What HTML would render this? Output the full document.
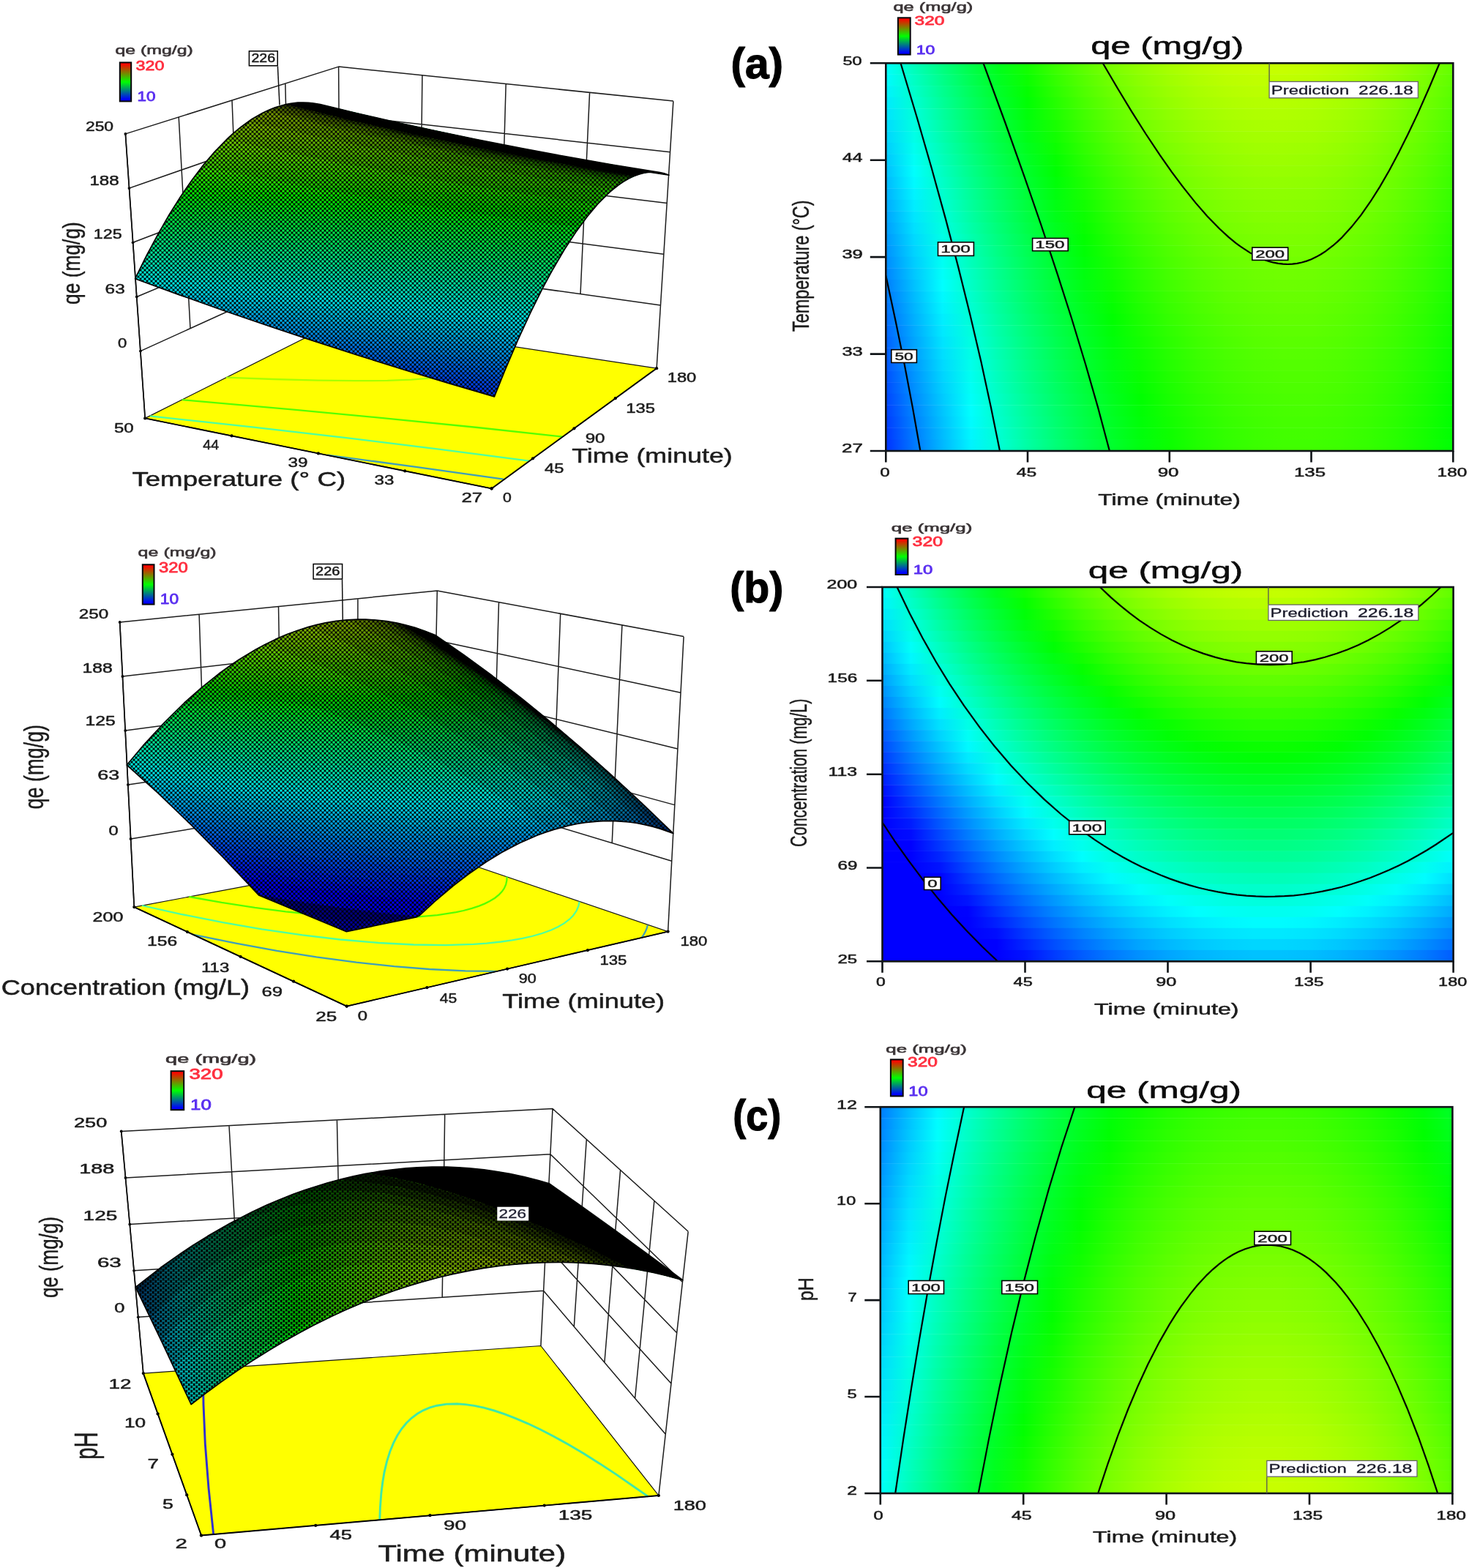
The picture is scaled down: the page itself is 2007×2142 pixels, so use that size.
<!DOCTYPE html>
<html lang="en"><head><meta charset="utf-8"><title>Response surface and contour plots of qe (mg/g)</title>
<style>
html,body{margin:0;padding:0;background:#fff}
body{width:2007px;height:2142px;overflow:hidden}
svg{display:block;font-family:"Liberation Sans",Arial,Helvetica,sans-serif}
text{white-space:pre}
</style></head>
<body>
<svg xmlns="http://www.w3.org/2000/svg" width="2007" height="2142" viewBox="0 0 2007 2142">
<defs>
<pattern id="pt" width="6" height="6" patternUnits="userSpaceOnUse"><path fill-rule="evenodd" d="M0 0H6V6H0zM1.15 3a1.85 1.85 0 1 0 3.7 0a1.85 1.85 0 1 0 -3.7 0zM-1.85 0a1.85 1.85 0 1 0 3.7 0a1.85 1.85 0 1 0 -3.7 0zM4.15 0a1.85 1.85 0 1 0 3.7 0a1.85 1.85 0 1 0 -3.7 0zM-1.85 6a1.85 1.85 0 1 0 3.7 0a1.85 1.85 0 1 0 -3.7 0zM4.15 6a1.85 1.85 0 1 0 3.7 0a1.85 1.85 0 1 0 -3.7 0z"/></pattern>
<pattern id="pc" width="7" height="6" patternUnits="userSpaceOnUse"><path fill-rule="evenodd" d="M0 0h7v6h-7zM.4 .3h4.6v2.4h-4.6zM3.9 3.3h3.1v2.4h-3.1zM0 3.3h1.5v2.4h-1.5z"/></pattern>
<linearGradient id="lg" x1="0" y1="0" x2="0" y2="1"><stop offset="0.03" stop-color="#f00"/><stop offset="0.5" stop-color="#0f0"/><stop offset="0.95" stop-color="#00f"/></linearGradient>
<linearGradient id="ag0"><stop offset="0" stop-color="#00fffc"/><stop offset="0.05" stop-color="#00ffbc"/><stop offset="0.1" stop-color="#00ff81"/><stop offset="0.15" stop-color="#00ff4b"/><stop offset="0.2" stop-color="#00ff1a"/><stop offset="0.25" stop-color="#12ff00"/><stop offset="0.3" stop-color="#3aff00"/><stop offset="0.35" stop-color="#5cff00"/><stop offset="0.4" stop-color="#7aff00"/><stop offset="0.45" stop-color="#92ff00"/><stop offset="0.5" stop-color="#a6ff00"/><stop offset="0.55" stop-color="#b5ff00"/><stop offset="0.6" stop-color="#c0ff00"/><stop offset="0.65" stop-color="#c5ff00"/><stop offset="0.7" stop-color="#c6ff00"/><stop offset="0.75" stop-color="#c1ff00"/><stop offset="0.8" stop-color="#b8ff00"/><stop offset="0.85" stop-color="#af0"/><stop offset="0.9" stop-color="#97ff00"/><stop offset="0.95" stop-color="#7fff00"/><stop offset="1" stop-color="#63ff00"/></linearGradient>
<linearGradient id="ag1"><stop offset="0" stop-color="#00fbff"/><stop offset="0.05" stop-color="#00ffc4"/><stop offset="0.1" stop-color="#00ff89"/><stop offset="0.15" stop-color="#00ff52"/><stop offset="0.2" stop-color="#00ff21"/><stop offset="0.25" stop-color="#0bff00"/><stop offset="0.3" stop-color="#3f0"/><stop offset="0.35" stop-color="#5f0"/><stop offset="0.4" stop-color="#73ff00"/><stop offset="0.45" stop-color="#8cff00"/><stop offset="0.5" stop-color="#a0ff00"/><stop offset="0.55" stop-color="#afff00"/><stop offset="0.6" stop-color="#baff00"/><stop offset="0.65" stop-color="#bfff00"/><stop offset="0.7" stop-color="#c0ff00"/><stop offset="0.75" stop-color="#bcff00"/><stop offset="0.8" stop-color="#b3ff00"/><stop offset="0.85" stop-color="#a5ff00"/><stop offset="0.9" stop-color="#92ff00"/><stop offset="0.95" stop-color="#7aff00"/><stop offset="1" stop-color="#5eff00"/></linearGradient>
<linearGradient id="ag2"><stop offset="0" stop-color="#00f3ff"/><stop offset="0.05" stop-color="#00ffcb"/><stop offset="0.1" stop-color="#00ff90"/><stop offset="0.15" stop-color="#00ff5a"/><stop offset="0.2" stop-color="#00ff28"/><stop offset="0.25" stop-color="#04ff00"/><stop offset="0.3" stop-color="#2cff00"/><stop offset="0.35" stop-color="#4fff00"/><stop offset="0.4" stop-color="#6dff00"/><stop offset="0.45" stop-color="#86ff00"/><stop offset="0.5" stop-color="#9aff00"/><stop offset="0.55" stop-color="#a9ff00"/><stop offset="0.6" stop-color="#b4ff00"/><stop offset="0.65" stop-color="#baff00"/><stop offset="0.7" stop-color="#baff00"/><stop offset="0.75" stop-color="#b6ff00"/><stop offset="0.8" stop-color="#aeff00"/><stop offset="0.85" stop-color="#a0ff00"/><stop offset="0.9" stop-color="#8dff00"/><stop offset="0.95" stop-color="#76ff00"/><stop offset="1" stop-color="#59ff00"/></linearGradient>
<linearGradient id="ag3"><stop offset="0" stop-color="#00ebff"/><stop offset="0.05" stop-color="#00ffd3"/><stop offset="0.1" stop-color="#00ff97"/><stop offset="0.15" stop-color="#00ff61"/><stop offset="0.2" stop-color="#00ff2f"/><stop offset="0.25" stop-color="#00ff03"/><stop offset="0.3" stop-color="#25ff00"/><stop offset="0.35" stop-color="#48ff00"/><stop offset="0.4" stop-color="#6f0"/><stop offset="0.45" stop-color="#80ff00"/><stop offset="0.5" stop-color="#94ff00"/><stop offset="0.55" stop-color="#a4ff00"/><stop offset="0.6" stop-color="#aeff00"/><stop offset="0.65" stop-color="#b4ff00"/><stop offset="0.7" stop-color="#b5ff00"/><stop offset="0.75" stop-color="#b1ff00"/><stop offset="0.8" stop-color="#a8ff00"/><stop offset="0.85" stop-color="#9bff00"/><stop offset="0.9" stop-color="#8f0"/><stop offset="0.95" stop-color="#71ff00"/><stop offset="1" stop-color="#5f0"/></linearGradient>
<linearGradient id="ag4"><stop offset="0" stop-color="#00e4ff"/><stop offset="0.05" stop-color="#00ffda"/><stop offset="0.1" stop-color="#00ff9e"/><stop offset="0.15" stop-color="#00ff68"/><stop offset="0.2" stop-color="#00ff36"/><stop offset="0.25" stop-color="#00ff09"/><stop offset="0.3" stop-color="#1fff00"/><stop offset="0.35" stop-color="#42ff00"/><stop offset="0.4" stop-color="#60ff00"/><stop offset="0.45" stop-color="#7aff00"/><stop offset="0.5" stop-color="#8eff00"/><stop offset="0.55" stop-color="#9eff00"/><stop offset="0.6" stop-color="#a9ff00"/><stop offset="0.65" stop-color="#afff00"/><stop offset="0.7" stop-color="#b0ff00"/><stop offset="0.75" stop-color="#acff00"/><stop offset="0.8" stop-color="#a3ff00"/><stop offset="0.85" stop-color="#96ff00"/><stop offset="0.9" stop-color="#84ff00"/><stop offset="0.95" stop-color="#6dff00"/><stop offset="1" stop-color="#51ff00"/></linearGradient>
<linearGradient id="ag5"><stop offset="0" stop-color="#00dcff"/><stop offset="0.05" stop-color="#00ffe1"/><stop offset="0.1" stop-color="#00ffa6"/><stop offset="0.15" stop-color="#00ff6f"/><stop offset="0.2" stop-color="#00ff3d"/><stop offset="0.25" stop-color="#00ff10"/><stop offset="0.3" stop-color="#18ff00"/><stop offset="0.35" stop-color="#3cff00"/><stop offset="0.4" stop-color="#5aff00"/><stop offset="0.45" stop-color="#74ff00"/><stop offset="0.5" stop-color="#8f0"/><stop offset="0.55" stop-color="#98ff00"/><stop offset="0.6" stop-color="#a3ff00"/><stop offset="0.65" stop-color="#a9ff00"/><stop offset="0.7" stop-color="#abff00"/><stop offset="0.75" stop-color="#a7ff00"/><stop offset="0.8" stop-color="#9fff00"/><stop offset="0.85" stop-color="#91ff00"/><stop offset="0.9" stop-color="#7fff00"/><stop offset="0.95" stop-color="#68ff00"/><stop offset="1" stop-color="#4cff00"/></linearGradient>
<linearGradient id="ag6"><stop offset="0" stop-color="#00d5ff"/><stop offset="0.05" stop-color="#00ffe8"/><stop offset="0.1" stop-color="#00ffad"/><stop offset="0.15" stop-color="#00ff76"/><stop offset="0.2" stop-color="#0f4"/><stop offset="0.25" stop-color="#00ff16"/><stop offset="0.3" stop-color="#12ff00"/><stop offset="0.35" stop-color="#35ff00"/><stop offset="0.4" stop-color="#54ff00"/><stop offset="0.45" stop-color="#6eff00"/><stop offset="0.5" stop-color="#83ff00"/><stop offset="0.55" stop-color="#93ff00"/><stop offset="0.6" stop-color="#9eff00"/><stop offset="0.65" stop-color="#a4ff00"/><stop offset="0.7" stop-color="#a5ff00"/><stop offset="0.75" stop-color="#a2ff00"/><stop offset="0.8" stop-color="#9aff00"/><stop offset="0.85" stop-color="#8dff00"/><stop offset="0.9" stop-color="#7bff00"/><stop offset="0.95" stop-color="#64ff00"/><stop offset="1" stop-color="#48ff00"/></linearGradient>
<linearGradient id="ag7"><stop offset="0" stop-color="#00ceff"/><stop offset="0.05" stop-color="#00ffef"/><stop offset="0.1" stop-color="#00ffb4"/><stop offset="0.15" stop-color="#00ff7c"/><stop offset="0.2" stop-color="#00ff4a"/><stop offset="0.25" stop-color="#00ff1d"/><stop offset="0.3" stop-color="#0cff00"/><stop offset="0.35" stop-color="#2fff00"/><stop offset="0.4" stop-color="#4eff00"/><stop offset="0.45" stop-color="#68ff00"/><stop offset="0.5" stop-color="#7dff00"/><stop offset="0.55" stop-color="#8dff00"/><stop offset="0.6" stop-color="#98ff00"/><stop offset="0.65" stop-color="#9fff00"/><stop offset="0.7" stop-color="#a0ff00"/><stop offset="0.75" stop-color="#9dff00"/><stop offset="0.8" stop-color="#95ff00"/><stop offset="0.85" stop-color="#8f0"/><stop offset="0.9" stop-color="#76ff00"/><stop offset="0.95" stop-color="#60ff00"/><stop offset="1" stop-color="#4f0"/></linearGradient>
<linearGradient id="ag8"><stop offset="0" stop-color="#00c7ff"/><stop offset="0.05" stop-color="#00fff6"/><stop offset="0.1" stop-color="#00ffba"/><stop offset="0.15" stop-color="#00ff83"/><stop offset="0.2" stop-color="#00ff51"/><stop offset="0.25" stop-color="#00ff23"/><stop offset="0.3" stop-color="#05ff00"/><stop offset="0.35" stop-color="#29ff00"/><stop offset="0.4" stop-color="#48ff00"/><stop offset="0.45" stop-color="#62ff00"/><stop offset="0.5" stop-color="#7f0"/><stop offset="0.55" stop-color="#8f0"/><stop offset="0.6" stop-color="#93ff00"/><stop offset="0.65" stop-color="#9aff00"/><stop offset="0.7" stop-color="#9cff00"/><stop offset="0.75" stop-color="#98ff00"/><stop offset="0.8" stop-color="#91ff00"/><stop offset="0.85" stop-color="#84ff00"/><stop offset="0.9" stop-color="#72ff00"/><stop offset="0.95" stop-color="#5cff00"/><stop offset="1" stop-color="#40ff00"/></linearGradient>
<linearGradient id="ag9"><stop offset="0" stop-color="#00c0ff"/><stop offset="0.05" stop-color="#00fffd"/><stop offset="0.1" stop-color="#00ffc1"/><stop offset="0.15" stop-color="#00ff8a"/><stop offset="0.2" stop-color="#00ff57"/><stop offset="0.25" stop-color="#00ff2a"/><stop offset="0.3" stop-color="#00ff01"/><stop offset="0.35" stop-color="#23ff00"/><stop offset="0.4" stop-color="#42ff00"/><stop offset="0.45" stop-color="#5cff00"/><stop offset="0.5" stop-color="#72ff00"/><stop offset="0.55" stop-color="#82ff00"/><stop offset="0.6" stop-color="#8eff00"/><stop offset="0.65" stop-color="#95ff00"/><stop offset="0.7" stop-color="#97ff00"/><stop offset="0.75" stop-color="#94ff00"/><stop offset="0.8" stop-color="#8cff00"/><stop offset="0.85" stop-color="#7fff00"/><stop offset="0.9" stop-color="#6eff00"/><stop offset="0.95" stop-color="#58ff00"/><stop offset="1" stop-color="#3cff00"/></linearGradient>
<linearGradient id="ag10"><stop offset="0" stop-color="#00b9ff"/><stop offset="0.05" stop-color="#00faff"/><stop offset="0.1" stop-color="#00ffc8"/><stop offset="0.15" stop-color="#00ff90"/><stop offset="0.2" stop-color="#00ff5e"/><stop offset="0.25" stop-color="#00ff30"/><stop offset="0.3" stop-color="#00ff07"/><stop offset="0.35" stop-color="#1dff00"/><stop offset="0.4" stop-color="#3dff00"/><stop offset="0.45" stop-color="#57ff00"/><stop offset="0.5" stop-color="#6dff00"/><stop offset="0.55" stop-color="#7dff00"/><stop offset="0.6" stop-color="#89ff00"/><stop offset="0.65" stop-color="#90ff00"/><stop offset="0.7" stop-color="#92ff00"/><stop offset="0.75" stop-color="#8fff00"/><stop offset="0.8" stop-color="#8f0"/><stop offset="0.85" stop-color="#7bff00"/><stop offset="0.9" stop-color="#6aff00"/><stop offset="0.95" stop-color="#54ff00"/><stop offset="1" stop-color="#39ff00"/></linearGradient>
<linearGradient id="ag11"><stop offset="0" stop-color="#00b2ff"/><stop offset="0.05" stop-color="#00f3ff"/><stop offset="0.1" stop-color="#00ffce"/><stop offset="0.15" stop-color="#00ff97"/><stop offset="0.2" stop-color="#00ff64"/><stop offset="0.25" stop-color="#00ff36"/><stop offset="0.3" stop-color="#00ff0d"/><stop offset="0.35" stop-color="#18ff00"/><stop offset="0.4" stop-color="#37ff00"/><stop offset="0.45" stop-color="#52ff00"/><stop offset="0.5" stop-color="#67ff00"/><stop offset="0.55" stop-color="#78ff00"/><stop offset="0.6" stop-color="#84ff00"/><stop offset="0.65" stop-color="#8bff00"/><stop offset="0.7" stop-color="#8dff00"/><stop offset="0.75" stop-color="#8bff00"/><stop offset="0.8" stop-color="#83ff00"/><stop offset="0.85" stop-color="#7f0"/><stop offset="0.9" stop-color="#6f0"/><stop offset="0.95" stop-color="#50ff00"/><stop offset="1" stop-color="#35ff00"/></linearGradient>
<linearGradient id="ag12"><stop offset="0" stop-color="#00abff"/><stop offset="0.05" stop-color="#00edff"/><stop offset="0.1" stop-color="#00ffd5"/><stop offset="0.15" stop-color="#00ff9d"/><stop offset="0.2" stop-color="#00ff6a"/><stop offset="0.25" stop-color="#00ff3c"/><stop offset="0.3" stop-color="#00ff12"/><stop offset="0.35" stop-color="#12ff00"/><stop offset="0.4" stop-color="#32ff00"/><stop offset="0.45" stop-color="#4cff00"/><stop offset="0.5" stop-color="#62ff00"/><stop offset="0.55" stop-color="#73ff00"/><stop offset="0.6" stop-color="#7fff00"/><stop offset="0.65" stop-color="#86ff00"/><stop offset="0.7" stop-color="#89ff00"/><stop offset="0.75" stop-color="#86ff00"/><stop offset="0.8" stop-color="#7fff00"/><stop offset="0.85" stop-color="#73ff00"/><stop offset="0.9" stop-color="#62ff00"/><stop offset="0.95" stop-color="#4cff00"/><stop offset="1" stop-color="#31ff00"/></linearGradient>
<linearGradient id="ag13"><stop offset="0" stop-color="#00a4ff"/><stop offset="0.05" stop-color="#00e6ff"/><stop offset="0.1" stop-color="#00ffdb"/><stop offset="0.15" stop-color="#00ffa3"/><stop offset="0.2" stop-color="#00ff70"/><stop offset="0.25" stop-color="#00ff42"/><stop offset="0.3" stop-color="#00ff18"/><stop offset="0.35" stop-color="#0cff00"/><stop offset="0.4" stop-color="#2cff00"/><stop offset="0.45" stop-color="#47ff00"/><stop offset="0.5" stop-color="#5dff00"/><stop offset="0.55" stop-color="#6eff00"/><stop offset="0.6" stop-color="#7aff00"/><stop offset="0.65" stop-color="#82ff00"/><stop offset="0.7" stop-color="#84ff00"/><stop offset="0.75" stop-color="#82ff00"/><stop offset="0.8" stop-color="#7bff00"/><stop offset="0.85" stop-color="#6fff00"/><stop offset="0.9" stop-color="#5eff00"/><stop offset="0.95" stop-color="#48ff00"/><stop offset="1" stop-color="#2eff00"/></linearGradient>
<linearGradient id="ag14"><stop offset="0" stop-color="#009eff"/><stop offset="0.05" stop-color="#00e0ff"/><stop offset="0.1" stop-color="#00ffe1"/><stop offset="0.15" stop-color="#00ffa9"/><stop offset="0.2" stop-color="#00ff76"/><stop offset="0.25" stop-color="#00ff47"/><stop offset="0.3" stop-color="#00ff1e"/><stop offset="0.35" stop-color="#07ff00"/><stop offset="0.4" stop-color="#27ff00"/><stop offset="0.45" stop-color="#42ff00"/><stop offset="0.5" stop-color="#58ff00"/><stop offset="0.55" stop-color="#69ff00"/><stop offset="0.6" stop-color="#76ff00"/><stop offset="0.65" stop-color="#7dff00"/><stop offset="0.7" stop-color="#80ff00"/><stop offset="0.75" stop-color="#7eff00"/><stop offset="0.8" stop-color="#7f0"/><stop offset="0.85" stop-color="#6bff00"/><stop offset="0.9" stop-color="#5aff00"/><stop offset="0.95" stop-color="#45ff00"/><stop offset="1" stop-color="#2aff00"/></linearGradient>
<linearGradient id="ag15"><stop offset="0" stop-color="#0097ff"/><stop offset="0.05" stop-color="#00d9ff"/><stop offset="0.1" stop-color="#00ffe7"/><stop offset="0.15" stop-color="#00ffaf"/><stop offset="0.2" stop-color="#00ff7c"/><stop offset="0.25" stop-color="#00ff4d"/><stop offset="0.3" stop-color="#00ff23"/><stop offset="0.35" stop-color="#02ff00"/><stop offset="0.4" stop-color="#2f0"/><stop offset="0.45" stop-color="#3dff00"/><stop offset="0.5" stop-color="#53ff00"/><stop offset="0.55" stop-color="#65ff00"/><stop offset="0.6" stop-color="#71ff00"/><stop offset="0.65" stop-color="#79ff00"/><stop offset="0.7" stop-color="#7cff00"/><stop offset="0.75" stop-color="#7aff00"/><stop offset="0.8" stop-color="#73ff00"/><stop offset="0.85" stop-color="#67ff00"/><stop offset="0.9" stop-color="#57ff00"/><stop offset="0.95" stop-color="#41ff00"/><stop offset="1" stop-color="#27ff00"/></linearGradient>
<linearGradient id="ag16"><stop offset="0" stop-color="#0091ff"/><stop offset="0.05" stop-color="#00d3ff"/><stop offset="0.1" stop-color="#0fe"/><stop offset="0.15" stop-color="#00ffb5"/><stop offset="0.2" stop-color="#00ff81"/><stop offset="0.25" stop-color="#00ff53"/><stop offset="0.3" stop-color="#00ff29"/><stop offset="0.35" stop-color="#00ff04"/><stop offset="0.4" stop-color="#1cff00"/><stop offset="0.45" stop-color="#38ff00"/><stop offset="0.5" stop-color="#4eff00"/><stop offset="0.55" stop-color="#60ff00"/><stop offset="0.6" stop-color="#6dff00"/><stop offset="0.65" stop-color="#75ff00"/><stop offset="0.7" stop-color="#78ff00"/><stop offset="0.75" stop-color="#76ff00"/><stop offset="0.8" stop-color="#6fff00"/><stop offset="0.85" stop-color="#64ff00"/><stop offset="0.9" stop-color="#53ff00"/><stop offset="0.95" stop-color="#3eff00"/><stop offset="1" stop-color="#24ff00"/></linearGradient>
<linearGradient id="ag17"><stop offset="0" stop-color="#008bff"/><stop offset="0.05" stop-color="#00cdff"/><stop offset="0.1" stop-color="#00fff4"/><stop offset="0.15" stop-color="#0fb"/><stop offset="0.2" stop-color="#00ff87"/><stop offset="0.25" stop-color="#00ff58"/><stop offset="0.3" stop-color="#00ff2e"/><stop offset="0.35" stop-color="#00ff09"/><stop offset="0.4" stop-color="#17ff00"/><stop offset="0.45" stop-color="#3f0"/><stop offset="0.5" stop-color="#4aff00"/><stop offset="0.55" stop-color="#5bff00"/><stop offset="0.6" stop-color="#68ff00"/><stop offset="0.65" stop-color="#70ff00"/><stop offset="0.7" stop-color="#74ff00"/><stop offset="0.75" stop-color="#72ff00"/><stop offset="0.8" stop-color="#6bff00"/><stop offset="0.85" stop-color="#60ff00"/><stop offset="0.9" stop-color="#50ff00"/><stop offset="0.95" stop-color="#3bff00"/><stop offset="1" stop-color="#21ff00"/></linearGradient>
<linearGradient id="ag18"><stop offset="0" stop-color="#0084ff"/><stop offset="0.05" stop-color="#00c7ff"/><stop offset="0.1" stop-color="#00fff9"/><stop offset="0.15" stop-color="#00ffc1"/><stop offset="0.2" stop-color="#00ff8d"/><stop offset="0.25" stop-color="#00ff5e"/><stop offset="0.3" stop-color="#0f3"/><stop offset="0.35" stop-color="#00ff0e"/><stop offset="0.4" stop-color="#13ff00"/><stop offset="0.45" stop-color="#2eff00"/><stop offset="0.5" stop-color="#45ff00"/><stop offset="0.55" stop-color="#57ff00"/><stop offset="0.6" stop-color="#64ff00"/><stop offset="0.65" stop-color="#6cff00"/><stop offset="0.7" stop-color="#70ff00"/><stop offset="0.75" stop-color="#6eff00"/><stop offset="0.8" stop-color="#68ff00"/><stop offset="0.85" stop-color="#5dff00"/><stop offset="0.9" stop-color="#4dff00"/><stop offset="0.95" stop-color="#38ff00"/><stop offset="1" stop-color="#1eff00"/></linearGradient>
<linearGradient id="ag19"><stop offset="0" stop-color="#007eff"/><stop offset="0.05" stop-color="#00c1ff"/><stop offset="0.1" stop-color="#0ff"/><stop offset="0.15" stop-color="#00ffc6"/><stop offset="0.2" stop-color="#00ff92"/><stop offset="0.25" stop-color="#00ff63"/><stop offset="0.3" stop-color="#00ff38"/><stop offset="0.35" stop-color="#00ff13"/><stop offset="0.4" stop-color="#0eff00"/><stop offset="0.45" stop-color="#2aff00"/><stop offset="0.5" stop-color="#41ff00"/><stop offset="0.55" stop-color="#53ff00"/><stop offset="0.6" stop-color="#60ff00"/><stop offset="0.65" stop-color="#68ff00"/><stop offset="0.7" stop-color="#6cff00"/><stop offset="0.75" stop-color="#6aff00"/><stop offset="0.8" stop-color="#64ff00"/><stop offset="0.85" stop-color="#59ff00"/><stop offset="0.9" stop-color="#49ff00"/><stop offset="0.95" stop-color="#35ff00"/><stop offset="1" stop-color="#1bff00"/></linearGradient>
<linearGradient id="ag20"><stop offset="0" stop-color="#0078ff"/><stop offset="0.05" stop-color="#0bf"/><stop offset="0.1" stop-color="#00f9ff"/><stop offset="0.15" stop-color="#0fc"/><stop offset="0.2" stop-color="#00ff97"/><stop offset="0.25" stop-color="#00ff68"/><stop offset="0.3" stop-color="#00ff3e"/><stop offset="0.35" stop-color="#00ff18"/><stop offset="0.4" stop-color="#09ff00"/><stop offset="0.45" stop-color="#25ff00"/><stop offset="0.5" stop-color="#3cff00"/><stop offset="0.55" stop-color="#4eff00"/><stop offset="0.6" stop-color="#5cff00"/><stop offset="0.65" stop-color="#64ff00"/><stop offset="0.7" stop-color="#68ff00"/><stop offset="0.75" stop-color="#67ff00"/><stop offset="0.8" stop-color="#61ff00"/><stop offset="0.85" stop-color="#56ff00"/><stop offset="0.9" stop-color="#46ff00"/><stop offset="0.95" stop-color="#32ff00"/><stop offset="1" stop-color="#18ff00"/></linearGradient>
<linearGradient id="ag21"><stop offset="0" stop-color="#0072ff"/><stop offset="0.05" stop-color="#00b5ff"/><stop offset="0.1" stop-color="#00f4ff"/><stop offset="0.15" stop-color="#00ffd1"/><stop offset="0.2" stop-color="#00ff9d"/><stop offset="0.25" stop-color="#00ff6d"/><stop offset="0.3" stop-color="#00ff42"/><stop offset="0.35" stop-color="#00ff1d"/><stop offset="0.4" stop-color="#04ff00"/><stop offset="0.45" stop-color="#20ff00"/><stop offset="0.5" stop-color="#38ff00"/><stop offset="0.55" stop-color="#4aff00"/><stop offset="0.6" stop-color="#58ff00"/><stop offset="0.65" stop-color="#60ff00"/><stop offset="0.7" stop-color="#64ff00"/><stop offset="0.75" stop-color="#63ff00"/><stop offset="0.8" stop-color="#5dff00"/><stop offset="0.85" stop-color="#53ff00"/><stop offset="0.9" stop-color="#43ff00"/><stop offset="0.95" stop-color="#2fff00"/><stop offset="1" stop-color="#15ff00"/></linearGradient>
<linearGradient id="ag22"><stop offset="0" stop-color="#006dff"/><stop offset="0.05" stop-color="#00b0ff"/><stop offset="0.1" stop-color="#0ef"/><stop offset="0.15" stop-color="#00ffd7"/><stop offset="0.2" stop-color="#00ffa2"/><stop offset="0.25" stop-color="#00ff72"/><stop offset="0.3" stop-color="#00ff47"/><stop offset="0.35" stop-color="#00ff21"/><stop offset="0.4" stop-color="#0f0"/><stop offset="0.45" stop-color="#1cff00"/><stop offset="0.5" stop-color="#34ff00"/><stop offset="0.55" stop-color="#46ff00"/><stop offset="0.6" stop-color="#54ff00"/><stop offset="0.65" stop-color="#5dff00"/><stop offset="0.7" stop-color="#61ff00"/><stop offset="0.75" stop-color="#60ff00"/><stop offset="0.8" stop-color="#5aff00"/><stop offset="0.85" stop-color="#50ff00"/><stop offset="0.9" stop-color="#40ff00"/><stop offset="0.95" stop-color="#2cff00"/><stop offset="1" stop-color="#13ff00"/></linearGradient>
<linearGradient id="ag23"><stop offset="0" stop-color="#0067ff"/><stop offset="0.05" stop-color="#0af"/><stop offset="0.1" stop-color="#00e9ff"/><stop offset="0.15" stop-color="#00ffdc"/><stop offset="0.2" stop-color="#00ffa7"/><stop offset="0.25" stop-color="#0f7"/><stop offset="0.3" stop-color="#00ff4c"/><stop offset="0.35" stop-color="#00ff26"/><stop offset="0.4" stop-color="#00ff05"/><stop offset="0.45" stop-color="#18ff00"/><stop offset="0.5" stop-color="#2fff00"/><stop offset="0.55" stop-color="#42ff00"/><stop offset="0.6" stop-color="#50ff00"/><stop offset="0.65" stop-color="#59ff00"/><stop offset="0.7" stop-color="#5dff00"/><stop offset="0.75" stop-color="#5dff00"/><stop offset="0.8" stop-color="#57ff00"/><stop offset="0.85" stop-color="#4dff00"/><stop offset="0.9" stop-color="#3dff00"/><stop offset="0.95" stop-color="#29ff00"/><stop offset="1" stop-color="#10ff00"/></linearGradient>
<linearGradient id="ag24"><stop offset="0" stop-color="#0061ff"/><stop offset="0.05" stop-color="#00a5ff"/><stop offset="0.1" stop-color="#00e3ff"/><stop offset="0.15" stop-color="#00ffe1"/><stop offset="0.2" stop-color="#00ffac"/><stop offset="0.25" stop-color="#00ff7c"/><stop offset="0.3" stop-color="#00ff51"/><stop offset="0.35" stop-color="#00ff2a"/><stop offset="0.4" stop-color="#00ff09"/><stop offset="0.45" stop-color="#14ff00"/><stop offset="0.5" stop-color="#2bff00"/><stop offset="0.55" stop-color="#3eff00"/><stop offset="0.6" stop-color="#4cff00"/><stop offset="0.65" stop-color="#56ff00"/><stop offset="0.7" stop-color="#5aff00"/><stop offset="0.75" stop-color="#59ff00"/><stop offset="0.8" stop-color="#54ff00"/><stop offset="0.85" stop-color="#4aff00"/><stop offset="0.9" stop-color="#3bff00"/><stop offset="0.95" stop-color="#27ff00"/><stop offset="1" stop-color="#0eff00"/></linearGradient>
<linearGradient id="ag25"><stop offset="0" stop-color="#005cff"/><stop offset="0.05" stop-color="#009fff"/><stop offset="0.1" stop-color="#00deff"/><stop offset="0.15" stop-color="#00ffe6"/><stop offset="0.2" stop-color="#00ffb1"/><stop offset="0.25" stop-color="#00ff81"/><stop offset="0.3" stop-color="#0f5"/><stop offset="0.35" stop-color="#00ff2f"/><stop offset="0.4" stop-color="#00ff0d"/><stop offset="0.45" stop-color="#10ff00"/><stop offset="0.5" stop-color="#27ff00"/><stop offset="0.55" stop-color="#3bff00"/><stop offset="0.6" stop-color="#49ff00"/><stop offset="0.65" stop-color="#52ff00"/><stop offset="0.7" stop-color="#57ff00"/><stop offset="0.75" stop-color="#56ff00"/><stop offset="0.8" stop-color="#51ff00"/><stop offset="0.85" stop-color="#47ff00"/><stop offset="0.9" stop-color="#38ff00"/><stop offset="0.95" stop-color="#24ff00"/><stop offset="1" stop-color="#0bff00"/></linearGradient>
<linearGradient id="ag26"><stop offset="0" stop-color="#0056ff"/><stop offset="0.05" stop-color="#009aff"/><stop offset="0.1" stop-color="#00d9ff"/><stop offset="0.15" stop-color="#00ffeb"/><stop offset="0.2" stop-color="#00ffb6"/><stop offset="0.25" stop-color="#00ff85"/><stop offset="0.3" stop-color="#00ff5a"/><stop offset="0.35" stop-color="#0f3"/><stop offset="0.4" stop-color="#0f1"/><stop offset="0.45" stop-color="#0cff00"/><stop offset="0.5" stop-color="#24ff00"/><stop offset="0.55" stop-color="#37ff00"/><stop offset="0.6" stop-color="#45ff00"/><stop offset="0.65" stop-color="#4fff00"/><stop offset="0.7" stop-color="#53ff00"/><stop offset="0.75" stop-color="#53ff00"/><stop offset="0.8" stop-color="#4eff00"/><stop offset="0.85" stop-color="#4f0"/><stop offset="0.9" stop-color="#35ff00"/><stop offset="0.95" stop-color="#2f0"/><stop offset="1" stop-color="#09ff00"/></linearGradient>
<linearGradient id="ag27"><stop offset="0" stop-color="#0051ff"/><stop offset="0.05" stop-color="#0095ff"/><stop offset="0.1" stop-color="#00d4ff"/><stop offset="0.15" stop-color="#00fff0"/><stop offset="0.2" stop-color="#00ffba"/><stop offset="0.25" stop-color="#00ff8a"/><stop offset="0.3" stop-color="#00ff5e"/><stop offset="0.35" stop-color="#00ff37"/><stop offset="0.4" stop-color="#00ff15"/><stop offset="0.45" stop-color="#08ff00"/><stop offset="0.5" stop-color="#20ff00"/><stop offset="0.55" stop-color="#3f0"/><stop offset="0.6" stop-color="#42ff00"/><stop offset="0.65" stop-color="#4bff00"/><stop offset="0.7" stop-color="#50ff00"/><stop offset="0.75" stop-color="#50ff00"/><stop offset="0.8" stop-color="#4bff00"/><stop offset="0.85" stop-color="#41ff00"/><stop offset="0.9" stop-color="#3f0"/><stop offset="0.95" stop-color="#1fff00"/><stop offset="1" stop-color="#07ff00"/></linearGradient>
<linearGradient id="ag28"><stop offset="0" stop-color="#004cff"/><stop offset="0.05" stop-color="#0090ff"/><stop offset="0.1" stop-color="#00cfff"/><stop offset="0.15" stop-color="#00fff5"/><stop offset="0.2" stop-color="#00ffbf"/><stop offset="0.25" stop-color="#00ff8e"/><stop offset="0.3" stop-color="#00ff63"/><stop offset="0.35" stop-color="#00ff3c"/><stop offset="0.4" stop-color="#00ff19"/><stop offset="0.45" stop-color="#04ff00"/><stop offset="0.5" stop-color="#1cff00"/><stop offset="0.55" stop-color="#30ff00"/><stop offset="0.6" stop-color="#3eff00"/><stop offset="0.65" stop-color="#48ff00"/><stop offset="0.7" stop-color="#4dff00"/><stop offset="0.75" stop-color="#4dff00"/><stop offset="0.8" stop-color="#49ff00"/><stop offset="0.85" stop-color="#3fff00"/><stop offset="0.9" stop-color="#30ff00"/><stop offset="0.95" stop-color="#1dff00"/><stop offset="1" stop-color="#05ff00"/></linearGradient>
<linearGradient id="ag29"><stop offset="0" stop-color="#0046ff"/><stop offset="0.05" stop-color="#008bff"/><stop offset="0.1" stop-color="#00caff"/><stop offset="0.15" stop-color="#00fff9"/><stop offset="0.2" stop-color="#00ffc4"/><stop offset="0.25" stop-color="#00ff93"/><stop offset="0.3" stop-color="#00ff67"/><stop offset="0.35" stop-color="#00ff40"/><stop offset="0.4" stop-color="#00ff1d"/><stop offset="0.45" stop-color="#0f0"/><stop offset="0.5" stop-color="#19ff00"/><stop offset="0.55" stop-color="#2cff00"/><stop offset="0.6" stop-color="#3bff00"/><stop offset="0.65" stop-color="#45ff00"/><stop offset="0.7" stop-color="#4aff00"/><stop offset="0.75" stop-color="#4bff00"/><stop offset="0.8" stop-color="#46ff00"/><stop offset="0.85" stop-color="#3dff00"/><stop offset="0.9" stop-color="#2eff00"/><stop offset="0.95" stop-color="#1bff00"/><stop offset="1" stop-color="#03ff00"/></linearGradient>
<linearGradient id="ag30"><stop offset="0" stop-color="#0041ff"/><stop offset="0.05" stop-color="#0086ff"/><stop offset="0.1" stop-color="#00c5ff"/><stop offset="0.15" stop-color="#00fffe"/><stop offset="0.2" stop-color="#00ffc8"/><stop offset="0.25" stop-color="#00ff97"/><stop offset="0.3" stop-color="#00ff6b"/><stop offset="0.35" stop-color="#0f4"/><stop offset="0.4" stop-color="#00ff21"/><stop offset="0.45" stop-color="#00ff04"/><stop offset="0.5" stop-color="#15ff00"/><stop offset="0.55" stop-color="#29ff00"/><stop offset="0.6" stop-color="#38ff00"/><stop offset="0.65" stop-color="#42ff00"/><stop offset="0.7" stop-color="#47ff00"/><stop offset="0.75" stop-color="#48ff00"/><stop offset="0.8" stop-color="#43ff00"/><stop offset="0.85" stop-color="#3aff00"/><stop offset="0.9" stop-color="#2cff00"/><stop offset="0.95" stop-color="#19ff00"/><stop offset="1" stop-color="#01ff00"/></linearGradient>
<linearGradient id="ag31"><stop offset="0" stop-color="#003cff"/><stop offset="0.05" stop-color="#0081ff"/><stop offset="0.1" stop-color="#00c1ff"/><stop offset="0.15" stop-color="#00fcff"/><stop offset="0.2" stop-color="#0fc"/><stop offset="0.25" stop-color="#00ff9b"/><stop offset="0.3" stop-color="#00ff6f"/><stop offset="0.35" stop-color="#00ff47"/><stop offset="0.4" stop-color="#00ff25"/><stop offset="0.45" stop-color="#00ff07"/><stop offset="0.5" stop-color="#12ff00"/><stop offset="0.55" stop-color="#26ff00"/><stop offset="0.6" stop-color="#35ff00"/><stop offset="0.65" stop-color="#3fff00"/><stop offset="0.7" stop-color="#45ff00"/><stop offset="0.75" stop-color="#45ff00"/><stop offset="0.8" stop-color="#41ff00"/><stop offset="0.85" stop-color="#38ff00"/><stop offset="0.9" stop-color="#2aff00"/><stop offset="0.95" stop-color="#17ff00"/><stop offset="1" stop-color="#00ff01"/></linearGradient>
<linearGradient id="ag32"><stop offset="0" stop-color="#0038ff"/><stop offset="0.05" stop-color="#007cff"/><stop offset="0.1" stop-color="#00bcff"/><stop offset="0.15" stop-color="#00f7ff"/><stop offset="0.2" stop-color="#00ffd1"/><stop offset="0.25" stop-color="#00ff9f"/><stop offset="0.3" stop-color="#00ff73"/><stop offset="0.35" stop-color="#00ff4b"/><stop offset="0.4" stop-color="#00ff28"/><stop offset="0.45" stop-color="#00ff0b"/><stop offset="0.5" stop-color="#0eff00"/><stop offset="0.55" stop-color="#23ff00"/><stop offset="0.6" stop-color="#32ff00"/><stop offset="0.65" stop-color="#3cff00"/><stop offset="0.7" stop-color="#42ff00"/><stop offset="0.75" stop-color="#43ff00"/><stop offset="0.8" stop-color="#3fff00"/><stop offset="0.85" stop-color="#36ff00"/><stop offset="0.9" stop-color="#28ff00"/><stop offset="0.95" stop-color="#15ff00"/><stop offset="1" stop-color="#00ff02"/></linearGradient>
<linearGradient id="ag33"><stop offset="0" stop-color="#03f"/><stop offset="0.05" stop-color="#0078ff"/><stop offset="0.1" stop-color="#00b8ff"/><stop offset="0.15" stop-color="#00f3ff"/><stop offset="0.2" stop-color="#00ffd5"/><stop offset="0.25" stop-color="#00ffa3"/><stop offset="0.3" stop-color="#0f7"/><stop offset="0.35" stop-color="#00ff4f"/><stop offset="0.4" stop-color="#00ff2c"/><stop offset="0.45" stop-color="#00ff0e"/><stop offset="0.5" stop-color="#0bff00"/><stop offset="0.55" stop-color="#20ff00"/><stop offset="0.6" stop-color="#2fff00"/><stop offset="0.65" stop-color="#3aff00"/><stop offset="0.7" stop-color="#40ff00"/><stop offset="0.75" stop-color="#40ff00"/><stop offset="0.8" stop-color="#3cff00"/><stop offset="0.85" stop-color="#34ff00"/><stop offset="0.9" stop-color="#26ff00"/><stop offset="0.95" stop-color="#13ff00"/><stop offset="1" stop-color="#00ff04"/></linearGradient>
<linearGradient id="bg0"><stop offset="0" stop-color="#00fffd"/><stop offset="0.05" stop-color="#00ffbd"/><stop offset="0.1" stop-color="#00ff82"/><stop offset="0.15" stop-color="#00ff4d"/><stop offset="0.2" stop-color="#00ff1c"/><stop offset="0.25" stop-color="#1f0"/><stop offset="0.3" stop-color="#38ff00"/><stop offset="0.35" stop-color="#5aff00"/><stop offset="0.4" stop-color="#78ff00"/><stop offset="0.45" stop-color="#91ff00"/><stop offset="0.5" stop-color="#a5ff00"/><stop offset="0.55" stop-color="#b4ff00"/><stop offset="0.6" stop-color="#beff00"/><stop offset="0.65" stop-color="#c3ff00"/><stop offset="0.7" stop-color="#c4ff00"/><stop offset="0.75" stop-color="#bfff00"/><stop offset="0.8" stop-color="#b6ff00"/><stop offset="0.85" stop-color="#a8ff00"/><stop offset="0.9" stop-color="#95ff00"/><stop offset="0.95" stop-color="#7dff00"/><stop offset="1" stop-color="#60ff00"/></linearGradient>
<linearGradient id="bg1"><stop offset="0" stop-color="#00f6ff"/><stop offset="0.05" stop-color="#00ffc9"/><stop offset="0.1" stop-color="#00ff8e"/><stop offset="0.15" stop-color="#00ff58"/><stop offset="0.2" stop-color="#00ff27"/><stop offset="0.25" stop-color="#05ff00"/><stop offset="0.3" stop-color="#2cff00"/><stop offset="0.35" stop-color="#4fff00"/><stop offset="0.4" stop-color="#6cff00"/><stop offset="0.45" stop-color="#85ff00"/><stop offset="0.5" stop-color="#9f0"/><stop offset="0.55" stop-color="#a8ff00"/><stop offset="0.6" stop-color="#b2ff00"/><stop offset="0.65" stop-color="#b7ff00"/><stop offset="0.7" stop-color="#b8ff00"/><stop offset="0.75" stop-color="#b4ff00"/><stop offset="0.8" stop-color="#af0"/><stop offset="0.85" stop-color="#9cff00"/><stop offset="0.9" stop-color="#89ff00"/><stop offset="0.95" stop-color="#71ff00"/><stop offset="1" stop-color="#5f0"/></linearGradient>
<linearGradient id="bg2"><stop offset="0" stop-color="#00eaff"/><stop offset="0.05" stop-color="#00ffd5"/><stop offset="0.1" stop-color="#00ff9a"/><stop offset="0.15" stop-color="#00ff64"/><stop offset="0.2" stop-color="#0f3"/><stop offset="0.25" stop-color="#00ff07"/><stop offset="0.3" stop-color="#21ff00"/><stop offset="0.35" stop-color="#43ff00"/><stop offset="0.4" stop-color="#61ff00"/><stop offset="0.45" stop-color="#79ff00"/><stop offset="0.5" stop-color="#8dff00"/><stop offset="0.55" stop-color="#9cff00"/><stop offset="0.6" stop-color="#a6ff00"/><stop offset="0.65" stop-color="#acff00"/><stop offset="0.7" stop-color="#acff00"/><stop offset="0.75" stop-color="#a8ff00"/><stop offset="0.8" stop-color="#9eff00"/><stop offset="0.85" stop-color="#90ff00"/><stop offset="0.9" stop-color="#7dff00"/><stop offset="0.95" stop-color="#65ff00"/><stop offset="1" stop-color="#49ff00"/></linearGradient>
<linearGradient id="bg3"><stop offset="0" stop-color="#00deff"/><stop offset="0.05" stop-color="#00ffe1"/><stop offset="0.1" stop-color="#00ffa6"/><stop offset="0.15" stop-color="#00ff70"/><stop offset="0.2" stop-color="#00ff3f"/><stop offset="0.25" stop-color="#00ff13"/><stop offset="0.3" stop-color="#14ff00"/><stop offset="0.35" stop-color="#37ff00"/><stop offset="0.4" stop-color="#54ff00"/><stop offset="0.45" stop-color="#6dff00"/><stop offset="0.5" stop-color="#81ff00"/><stop offset="0.55" stop-color="#90ff00"/><stop offset="0.6" stop-color="#9aff00"/><stop offset="0.65" stop-color="#9fff00"/><stop offset="0.7" stop-color="#a0ff00"/><stop offset="0.75" stop-color="#9bff00"/><stop offset="0.8" stop-color="#92ff00"/><stop offset="0.85" stop-color="#84ff00"/><stop offset="0.9" stop-color="#71ff00"/><stop offset="0.95" stop-color="#59ff00"/><stop offset="1" stop-color="#3cff00"/></linearGradient>
<linearGradient id="bg4"><stop offset="0" stop-color="#00d2ff"/><stop offset="0.05" stop-color="#00ffed"/><stop offset="0.1" stop-color="#00ffb2"/><stop offset="0.15" stop-color="#00ff7c"/><stop offset="0.2" stop-color="#00ff4b"/><stop offset="0.25" stop-color="#00ff1f"/><stop offset="0.3" stop-color="#08ff00"/><stop offset="0.35" stop-color="#2bff00"/><stop offset="0.4" stop-color="#48ff00"/><stop offset="0.45" stop-color="#61ff00"/><stop offset="0.5" stop-color="#75ff00"/><stop offset="0.55" stop-color="#84ff00"/><stop offset="0.6" stop-color="#8eff00"/><stop offset="0.65" stop-color="#93ff00"/><stop offset="0.7" stop-color="#93ff00"/><stop offset="0.75" stop-color="#8fff00"/><stop offset="0.8" stop-color="#86ff00"/><stop offset="0.85" stop-color="#78ff00"/><stop offset="0.9" stop-color="#65ff00"/><stop offset="0.95" stop-color="#4dff00"/><stop offset="1" stop-color="#30ff00"/></linearGradient>
<linearGradient id="bg5"><stop offset="0" stop-color="#00c5ff"/><stop offset="0.05" stop-color="#00fff9"/><stop offset="0.1" stop-color="#00ffbf"/><stop offset="0.15" stop-color="#00ff89"/><stop offset="0.2" stop-color="#00ff58"/><stop offset="0.25" stop-color="#00ff2c"/><stop offset="0.3" stop-color="#00ff04"/><stop offset="0.35" stop-color="#1eff00"/><stop offset="0.4" stop-color="#3cff00"/><stop offset="0.45" stop-color="#54ff00"/><stop offset="0.5" stop-color="#68ff00"/><stop offset="0.55" stop-color="#7f0"/><stop offset="0.6" stop-color="#81ff00"/><stop offset="0.65" stop-color="#86ff00"/><stop offset="0.7" stop-color="#87ff00"/><stop offset="0.75" stop-color="#82ff00"/><stop offset="0.8" stop-color="#79ff00"/><stop offset="0.85" stop-color="#6bff00"/><stop offset="0.9" stop-color="#58ff00"/><stop offset="0.95" stop-color="#40ff00"/><stop offset="1" stop-color="#23ff00"/></linearGradient>
<linearGradient id="bg6"><stop offset="0" stop-color="#00b8ff"/><stop offset="0.05" stop-color="#00f8ff"/><stop offset="0.1" stop-color="#00ffcb"/><stop offset="0.15" stop-color="#00ff95"/><stop offset="0.2" stop-color="#00ff64"/><stop offset="0.25" stop-color="#00ff38"/><stop offset="0.3" stop-color="#0f1"/><stop offset="0.35" stop-color="#1f0"/><stop offset="0.4" stop-color="#2fff00"/><stop offset="0.45" stop-color="#47ff00"/><stop offset="0.5" stop-color="#5bff00"/><stop offset="0.55" stop-color="#6aff00"/><stop offset="0.6" stop-color="#74ff00"/><stop offset="0.65" stop-color="#7aff00"/><stop offset="0.7" stop-color="#7aff00"/><stop offset="0.75" stop-color="#76ff00"/><stop offset="0.8" stop-color="#6cff00"/><stop offset="0.85" stop-color="#5eff00"/><stop offset="0.9" stop-color="#4bff00"/><stop offset="0.95" stop-color="#3f0"/><stop offset="1" stop-color="#16ff00"/></linearGradient>
<linearGradient id="bg7"><stop offset="0" stop-color="#00abff"/><stop offset="0.05" stop-color="#00ebff"/><stop offset="0.1" stop-color="#00ffd8"/><stop offset="0.15" stop-color="#00ffa2"/><stop offset="0.2" stop-color="#00ff71"/><stop offset="0.25" stop-color="#00ff45"/><stop offset="0.3" stop-color="#00ff1e"/><stop offset="0.35" stop-color="#04ff00"/><stop offset="0.4" stop-color="#2f0"/><stop offset="0.45" stop-color="#3aff00"/><stop offset="0.5" stop-color="#4eff00"/><stop offset="0.55" stop-color="#5dff00"/><stop offset="0.6" stop-color="#67ff00"/><stop offset="0.65" stop-color="#6dff00"/><stop offset="0.7" stop-color="#6dff00"/><stop offset="0.75" stop-color="#68ff00"/><stop offset="0.8" stop-color="#5fff00"/><stop offset="0.85" stop-color="#51ff00"/><stop offset="0.9" stop-color="#3eff00"/><stop offset="0.95" stop-color="#26ff00"/><stop offset="1" stop-color="#09ff00"/></linearGradient>
<linearGradient id="bg8"><stop offset="0" stop-color="#009eff"/><stop offset="0.05" stop-color="#00deff"/><stop offset="0.1" stop-color="#00ffe5"/><stop offset="0.15" stop-color="#00ffb0"/><stop offset="0.2" stop-color="#00ff7f"/><stop offset="0.25" stop-color="#00ff53"/><stop offset="0.3" stop-color="#00ff2b"/><stop offset="0.35" stop-color="#00ff09"/><stop offset="0.4" stop-color="#15ff00"/><stop offset="0.45" stop-color="#2dff00"/><stop offset="0.5" stop-color="#41ff00"/><stop offset="0.55" stop-color="#50ff00"/><stop offset="0.6" stop-color="#5aff00"/><stop offset="0.65" stop-color="#5fff00"/><stop offset="0.7" stop-color="#60ff00"/><stop offset="0.75" stop-color="#5bff00"/><stop offset="0.8" stop-color="#52ff00"/><stop offset="0.85" stop-color="#43ff00"/><stop offset="0.9" stop-color="#30ff00"/><stop offset="0.95" stop-color="#18ff00"/><stop offset="1" stop-color="#00ff04"/></linearGradient>
<linearGradient id="bg9"><stop offset="0" stop-color="#0091ff"/><stop offset="0.05" stop-color="#00d0ff"/><stop offset="0.1" stop-color="#00fff3"/><stop offset="0.15" stop-color="#00ffbd"/><stop offset="0.2" stop-color="#00ff8c"/><stop offset="0.25" stop-color="#00ff60"/><stop offset="0.3" stop-color="#00ff39"/><stop offset="0.35" stop-color="#00ff17"/><stop offset="0.4" stop-color="#07ff00"/><stop offset="0.45" stop-color="#20ff00"/><stop offset="0.5" stop-color="#3f0"/><stop offset="0.55" stop-color="#42ff00"/><stop offset="0.6" stop-color="#4cff00"/><stop offset="0.65" stop-color="#52ff00"/><stop offset="0.7" stop-color="#52ff00"/><stop offset="0.75" stop-color="#4dff00"/><stop offset="0.8" stop-color="#4f0"/><stop offset="0.85" stop-color="#36ff00"/><stop offset="0.9" stop-color="#23ff00"/><stop offset="0.95" stop-color="#0bff00"/><stop offset="1" stop-color="#00ff12"/></linearGradient>
<linearGradient id="bg10"><stop offset="0" stop-color="#0083ff"/><stop offset="0.05" stop-color="#00c3ff"/><stop offset="0.1" stop-color="#00fdff"/><stop offset="0.15" stop-color="#00ffcb"/><stop offset="0.2" stop-color="#00ff9a"/><stop offset="0.25" stop-color="#00ff6e"/><stop offset="0.3" stop-color="#00ff47"/><stop offset="0.35" stop-color="#00ff24"/><stop offset="0.4" stop-color="#00ff07"/><stop offset="0.45" stop-color="#12ff00"/><stop offset="0.5" stop-color="#26ff00"/><stop offset="0.55" stop-color="#35ff00"/><stop offset="0.6" stop-color="#3fff00"/><stop offset="0.65" stop-color="#4f0"/><stop offset="0.7" stop-color="#4f0"/><stop offset="0.75" stop-color="#40ff00"/><stop offset="0.8" stop-color="#36ff00"/><stop offset="0.85" stop-color="#28ff00"/><stop offset="0.9" stop-color="#15ff00"/><stop offset="0.95" stop-color="#00ff03"/><stop offset="1" stop-color="#00ff20"/></linearGradient>
<linearGradient id="bg11"><stop offset="0" stop-color="#0075ff"/><stop offset="0.05" stop-color="#00b5ff"/><stop offset="0.1" stop-color="#00efff"/><stop offset="0.15" stop-color="#00ffd9"/><stop offset="0.2" stop-color="#00ffa8"/><stop offset="0.25" stop-color="#00ff7c"/><stop offset="0.3" stop-color="#0f5"/><stop offset="0.35" stop-color="#00ff32"/><stop offset="0.4" stop-color="#00ff15"/><stop offset="0.45" stop-color="#04ff00"/><stop offset="0.5" stop-color="#18ff00"/><stop offset="0.55" stop-color="#27ff00"/><stop offset="0.6" stop-color="#31ff00"/><stop offset="0.65" stop-color="#36ff00"/><stop offset="0.7" stop-color="#36ff00"/><stop offset="0.75" stop-color="#32ff00"/><stop offset="0.8" stop-color="#28ff00"/><stop offset="0.85" stop-color="#1aff00"/><stop offset="0.9" stop-color="#07ff00"/><stop offset="0.95" stop-color="#0f1"/><stop offset="1" stop-color="#00ff2e"/></linearGradient>
<linearGradient id="bg12"><stop offset="0" stop-color="#0067ff"/><stop offset="0.05" stop-color="#00a7ff"/><stop offset="0.1" stop-color="#00e1ff"/><stop offset="0.15" stop-color="#00ffe7"/><stop offset="0.2" stop-color="#00ffb6"/><stop offset="0.25" stop-color="#00ff8a"/><stop offset="0.3" stop-color="#00ff63"/><stop offset="0.35" stop-color="#00ff40"/><stop offset="0.4" stop-color="#00ff23"/><stop offset="0.45" stop-color="#00ff0a"/><stop offset="0.5" stop-color="#09ff00"/><stop offset="0.55" stop-color="#18ff00"/><stop offset="0.6" stop-color="#2f0"/><stop offset="0.65" stop-color="#28ff00"/><stop offset="0.7" stop-color="#28ff00"/><stop offset="0.75" stop-color="#23ff00"/><stop offset="0.8" stop-color="#1aff00"/><stop offset="0.85" stop-color="#0cff00"/><stop offset="0.9" stop-color="#00ff07"/><stop offset="0.95" stop-color="#00ff1f"/><stop offset="1" stop-color="#00ff3c"/></linearGradient>
<linearGradient id="bg13"><stop offset="0" stop-color="#0059ff"/><stop offset="0.05" stop-color="#0098ff"/><stop offset="0.1" stop-color="#00d3ff"/><stop offset="0.15" stop-color="#00fff5"/><stop offset="0.2" stop-color="#00ffc4"/><stop offset="0.25" stop-color="#00ff98"/><stop offset="0.3" stop-color="#00ff71"/><stop offset="0.35" stop-color="#00ff4f"/><stop offset="0.4" stop-color="#00ff31"/><stop offset="0.45" stop-color="#00ff19"/><stop offset="0.5" stop-color="#00ff05"/><stop offset="0.55" stop-color="#0aff00"/><stop offset="0.6" stop-color="#14ff00"/><stop offset="0.65" stop-color="#19ff00"/><stop offset="0.7" stop-color="#19ff00"/><stop offset="0.75" stop-color="#15ff00"/><stop offset="0.8" stop-color="#0bff00"/><stop offset="0.85" stop-color="#00ff03"/><stop offset="0.9" stop-color="#00ff16"/><stop offset="0.95" stop-color="#00ff2e"/><stop offset="1" stop-color="#00ff4b"/></linearGradient>
<linearGradient id="bg14"><stop offset="0" stop-color="#004aff"/><stop offset="0.05" stop-color="#008aff"/><stop offset="0.1" stop-color="#00c4ff"/><stop offset="0.15" stop-color="#00faff"/><stop offset="0.2" stop-color="#00ffd3"/><stop offset="0.25" stop-color="#00ffa7"/><stop offset="0.3" stop-color="#00ff80"/><stop offset="0.35" stop-color="#00ff5e"/><stop offset="0.4" stop-color="#00ff40"/><stop offset="0.45" stop-color="#00ff28"/><stop offset="0.5" stop-color="#00ff14"/><stop offset="0.55" stop-color="#00ff05"/><stop offset="0.6" stop-color="#05ff00"/><stop offset="0.65" stop-color="#0aff00"/><stop offset="0.7" stop-color="#0bff00"/><stop offset="0.75" stop-color="#06ff00"/><stop offset="0.8" stop-color="#00ff03"/><stop offset="0.85" stop-color="#00ff12"/><stop offset="0.9" stop-color="#00ff25"/><stop offset="0.95" stop-color="#00ff3d"/><stop offset="1" stop-color="#00ff5a"/></linearGradient>
<linearGradient id="bg15"><stop offset="0" stop-color="#003bff"/><stop offset="0.05" stop-color="#007bff"/><stop offset="0.1" stop-color="#00b5ff"/><stop offset="0.15" stop-color="#00ebff"/><stop offset="0.2" stop-color="#00ffe2"/><stop offset="0.25" stop-color="#00ffb6"/><stop offset="0.3" stop-color="#00ff8f"/><stop offset="0.35" stop-color="#00ff6d"/><stop offset="0.4" stop-color="#00ff4f"/><stop offset="0.45" stop-color="#00ff37"/><stop offset="0.5" stop-color="#00ff23"/><stop offset="0.55" stop-color="#00ff14"/><stop offset="0.6" stop-color="#00ff0a"/><stop offset="0.65" stop-color="#00ff05"/><stop offset="0.7" stop-color="#00ff04"/><stop offset="0.75" stop-color="#00ff09"/><stop offset="0.8" stop-color="#00ff12"/><stop offset="0.85" stop-color="#00ff21"/><stop offset="0.9" stop-color="#00ff34"/><stop offset="0.95" stop-color="#00ff4c"/><stop offset="1" stop-color="#00ff69"/></linearGradient>
<linearGradient id="bg16"><stop offset="0" stop-color="#002cff"/><stop offset="0.05" stop-color="#006cff"/><stop offset="0.1" stop-color="#00a6ff"/><stop offset="0.15" stop-color="#00dcff"/><stop offset="0.2" stop-color="#00fff1"/><stop offset="0.25" stop-color="#00ffc5"/><stop offset="0.3" stop-color="#00ff9e"/><stop offset="0.35" stop-color="#00ff7c"/><stop offset="0.4" stop-color="#00ff5e"/><stop offset="0.45" stop-color="#00ff46"/><stop offset="0.5" stop-color="#00ff32"/><stop offset="0.55" stop-color="#00ff23"/><stop offset="0.6" stop-color="#00ff19"/><stop offset="0.65" stop-color="#00ff14"/><stop offset="0.7" stop-color="#00ff14"/><stop offset="0.75" stop-color="#00ff18"/><stop offset="0.8" stop-color="#0f2"/><stop offset="0.85" stop-color="#00ff30"/><stop offset="0.9" stop-color="#00ff43"/><stop offset="0.95" stop-color="#00ff5b"/><stop offset="1" stop-color="#00ff78"/></linearGradient>
<linearGradient id="bg17"><stop offset="0" stop-color="#001dff"/><stop offset="0.05" stop-color="#005cff"/><stop offset="0.1" stop-color="#0097ff"/><stop offset="0.15" stop-color="#00cdff"/><stop offset="0.2" stop-color="#00fdff"/><stop offset="0.25" stop-color="#00ffd5"/><stop offset="0.3" stop-color="#00ffad"/><stop offset="0.35" stop-color="#00ff8b"/><stop offset="0.4" stop-color="#00ff6e"/><stop offset="0.45" stop-color="#0f5"/><stop offset="0.5" stop-color="#00ff41"/><stop offset="0.55" stop-color="#0f3"/><stop offset="0.6" stop-color="#00ff29"/><stop offset="0.65" stop-color="#00ff23"/><stop offset="0.7" stop-color="#00ff23"/><stop offset="0.75" stop-color="#00ff28"/><stop offset="0.8" stop-color="#00ff31"/><stop offset="0.85" stop-color="#00ff40"/><stop offset="0.9" stop-color="#00ff53"/><stop offset="0.95" stop-color="#00ff6b"/><stop offset="1" stop-color="#0f8"/></linearGradient>
<linearGradient id="bg18"><stop offset="0" stop-color="#000dff"/><stop offset="0.05" stop-color="#004dff"/><stop offset="0.1" stop-color="#0087ff"/><stop offset="0.15" stop-color="#00bdff"/><stop offset="0.2" stop-color="#0ef"/><stop offset="0.25" stop-color="#00ffe4"/><stop offset="0.3" stop-color="#00ffbd"/><stop offset="0.35" stop-color="#00ff9b"/><stop offset="0.4" stop-color="#00ff7d"/><stop offset="0.45" stop-color="#00ff65"/><stop offset="0.5" stop-color="#00ff51"/><stop offset="0.55" stop-color="#00ff42"/><stop offset="0.6" stop-color="#00ff38"/><stop offset="0.65" stop-color="#0f3"/><stop offset="0.7" stop-color="#0f3"/><stop offset="0.75" stop-color="#00ff38"/><stop offset="0.8" stop-color="#00ff41"/><stop offset="0.85" stop-color="#00ff4f"/><stop offset="0.9" stop-color="#00ff63"/><stop offset="0.95" stop-color="#00ff7b"/><stop offset="1" stop-color="#00ff97"/></linearGradient>
<linearGradient id="bg19"><stop offset="0" stop-color="#00f"/><stop offset="0.05" stop-color="#003dff"/><stop offset="0.1" stop-color="#07f"/><stop offset="0.15" stop-color="#00adff"/><stop offset="0.2" stop-color="#00deff"/><stop offset="0.25" stop-color="#00fff4"/><stop offset="0.3" stop-color="#00ffcd"/><stop offset="0.35" stop-color="#00ffab"/><stop offset="0.4" stop-color="#00ff8d"/><stop offset="0.45" stop-color="#00ff75"/><stop offset="0.5" stop-color="#00ff61"/><stop offset="0.55" stop-color="#00ff52"/><stop offset="0.6" stop-color="#00ff48"/><stop offset="0.65" stop-color="#00ff43"/><stop offset="0.7" stop-color="#00ff43"/><stop offset="0.75" stop-color="#00ff48"/><stop offset="0.8" stop-color="#00ff51"/><stop offset="0.85" stop-color="#00ff5f"/><stop offset="0.9" stop-color="#00ff73"/><stop offset="0.95" stop-color="#00ff8b"/><stop offset="1" stop-color="#00ffa7"/></linearGradient>
<linearGradient id="bg20"><stop offset="0" stop-color="#00f"/><stop offset="0.05" stop-color="#002dff"/><stop offset="0.1" stop-color="#0067ff"/><stop offset="0.15" stop-color="#009dff"/><stop offset="0.2" stop-color="#00ceff"/><stop offset="0.25" stop-color="#00faff"/><stop offset="0.3" stop-color="#0fd"/><stop offset="0.35" stop-color="#0fb"/><stop offset="0.4" stop-color="#00ff9d"/><stop offset="0.45" stop-color="#00ff85"/><stop offset="0.5" stop-color="#00ff71"/><stop offset="0.55" stop-color="#00ff62"/><stop offset="0.6" stop-color="#00ff58"/><stop offset="0.65" stop-color="#00ff53"/><stop offset="0.7" stop-color="#00ff53"/><stop offset="0.75" stop-color="#00ff58"/><stop offset="0.8" stop-color="#00ff61"/><stop offset="0.85" stop-color="#00ff70"/><stop offset="0.9" stop-color="#00ff83"/><stop offset="0.95" stop-color="#00ff9b"/><stop offset="1" stop-color="#00ffb8"/></linearGradient>
<linearGradient id="bg21"><stop offset="0" stop-color="#00f"/><stop offset="0.05" stop-color="#001cff"/><stop offset="0.1" stop-color="#0057ff"/><stop offset="0.15" stop-color="#008dff"/><stop offset="0.2" stop-color="#00beff"/><stop offset="0.25" stop-color="#00e9ff"/><stop offset="0.3" stop-color="#00ffed"/><stop offset="0.35" stop-color="#00ffcb"/><stop offset="0.4" stop-color="#00ffae"/><stop offset="0.45" stop-color="#00ff95"/><stop offset="0.5" stop-color="#00ff82"/><stop offset="0.55" stop-color="#00ff73"/><stop offset="0.6" stop-color="#00ff69"/><stop offset="0.65" stop-color="#00ff64"/><stop offset="0.7" stop-color="#00ff64"/><stop offset="0.75" stop-color="#00ff68"/><stop offset="0.8" stop-color="#00ff72"/><stop offset="0.85" stop-color="#00ff80"/><stop offset="0.9" stop-color="#00ff93"/><stop offset="0.95" stop-color="#00ffab"/><stop offset="1" stop-color="#00ffc8"/></linearGradient>
<linearGradient id="bg22"><stop offset="0" stop-color="#00f"/><stop offset="0.05" stop-color="#000cff"/><stop offset="0.1" stop-color="#0046ff"/><stop offset="0.15" stop-color="#007cff"/><stop offset="0.2" stop-color="#00adff"/><stop offset="0.25" stop-color="#00d9ff"/><stop offset="0.3" stop-color="#00fffe"/><stop offset="0.35" stop-color="#00ffdc"/><stop offset="0.4" stop-color="#00ffbe"/><stop offset="0.45" stop-color="#00ffa6"/><stop offset="0.5" stop-color="#00ff92"/><stop offset="0.55" stop-color="#00ff83"/><stop offset="0.6" stop-color="#00ff7a"/><stop offset="0.65" stop-color="#00ff74"/><stop offset="0.7" stop-color="#00ff74"/><stop offset="0.75" stop-color="#00ff79"/><stop offset="0.8" stop-color="#00ff82"/><stop offset="0.85" stop-color="#00ff91"/><stop offset="0.9" stop-color="#00ffa4"/><stop offset="0.95" stop-color="#00ffbc"/><stop offset="1" stop-color="#00ffd9"/></linearGradient>
<linearGradient id="bg23"><stop offset="0" stop-color="#00f"/><stop offset="0.05" stop-color="#00f"/><stop offset="0.1" stop-color="#0036ff"/><stop offset="0.15" stop-color="#006bff"/><stop offset="0.2" stop-color="#009cff"/><stop offset="0.25" stop-color="#00c8ff"/><stop offset="0.3" stop-color="#00efff"/><stop offset="0.35" stop-color="#00ffed"/><stop offset="0.4" stop-color="#00ffcf"/><stop offset="0.45" stop-color="#00ffb7"/><stop offset="0.5" stop-color="#00ffa3"/><stop offset="0.55" stop-color="#00ff94"/><stop offset="0.6" stop-color="#00ff8a"/><stop offset="0.65" stop-color="#00ff85"/><stop offset="0.7" stop-color="#00ff85"/><stop offset="0.75" stop-color="#00ff8a"/><stop offset="0.8" stop-color="#00ff93"/><stop offset="0.85" stop-color="#00ffa2"/><stop offset="0.9" stop-color="#00ffb5"/><stop offset="0.95" stop-color="#00ffcd"/><stop offset="1" stop-color="#00ffea"/></linearGradient>
<linearGradient id="bg24"><stop offset="0" stop-color="#00f"/><stop offset="0.05" stop-color="#00f"/><stop offset="0.1" stop-color="#0025ff"/><stop offset="0.15" stop-color="#005aff"/><stop offset="0.2" stop-color="#008bff"/><stop offset="0.25" stop-color="#00b7ff"/><stop offset="0.3" stop-color="#00deff"/><stop offset="0.35" stop-color="#00fffe"/><stop offset="0.4" stop-color="#00ffe0"/><stop offset="0.45" stop-color="#00ffc8"/><stop offset="0.5" stop-color="#00ffb4"/><stop offset="0.55" stop-color="#00ffa5"/><stop offset="0.6" stop-color="#00ff9c"/><stop offset="0.65" stop-color="#00ff97"/><stop offset="0.7" stop-color="#00ff96"/><stop offset="0.75" stop-color="#00ff9b"/><stop offset="0.8" stop-color="#00ffa5"/><stop offset="0.85" stop-color="#00ffb3"/><stop offset="0.9" stop-color="#00ffc6"/><stop offset="0.95" stop-color="#00ffde"/><stop offset="1" stop-color="#00fffb"/></linearGradient>
<linearGradient id="bg25"><stop offset="0" stop-color="#00f"/><stop offset="0.05" stop-color="#00f"/><stop offset="0.1" stop-color="#0013ff"/><stop offset="0.15" stop-color="#0049ff"/><stop offset="0.2" stop-color="#007aff"/><stop offset="0.25" stop-color="#00a6ff"/><stop offset="0.3" stop-color="#00cdff"/><stop offset="0.35" stop-color="#00efff"/><stop offset="0.4" stop-color="#00fff2"/><stop offset="0.45" stop-color="#00ffd9"/><stop offset="0.5" stop-color="#00ffc6"/><stop offset="0.55" stop-color="#00ffb7"/><stop offset="0.6" stop-color="#00ffad"/><stop offset="0.65" stop-color="#00ffa8"/><stop offset="0.7" stop-color="#00ffa8"/><stop offset="0.75" stop-color="#00ffac"/><stop offset="0.8" stop-color="#00ffb6"/><stop offset="0.85" stop-color="#00ffc4"/><stop offset="0.9" stop-color="#00ffd8"/><stop offset="0.95" stop-color="#00fff0"/><stop offset="1" stop-color="#00f1ff"/></linearGradient>
<linearGradient id="bg26"><stop offset="0" stop-color="#00f"/><stop offset="0.05" stop-color="#00f"/><stop offset="0.1" stop-color="#0002ff"/><stop offset="0.15" stop-color="#0038ff"/><stop offset="0.2" stop-color="#0068ff"/><stop offset="0.25" stop-color="#0094ff"/><stop offset="0.3" stop-color="#0bf"/><stop offset="0.35" stop-color="#0df"/><stop offset="0.4" stop-color="#00fbff"/><stop offset="0.45" stop-color="#00ffeb"/><stop offset="0.5" stop-color="#00ffd7"/><stop offset="0.55" stop-color="#00ffc8"/><stop offset="0.6" stop-color="#00ffbf"/><stop offset="0.65" stop-color="#00ffba"/><stop offset="0.7" stop-color="#00ffb9"/><stop offset="0.75" stop-color="#00ffbe"/><stop offset="0.8" stop-color="#00ffc8"/><stop offset="0.85" stop-color="#00ffd6"/><stop offset="0.9" stop-color="#00ffe9"/><stop offset="0.95" stop-color="#00fdff"/><stop offset="1" stop-color="#00e0ff"/></linearGradient>
<linearGradient id="bg27"><stop offset="0" stop-color="#00f"/><stop offset="0.05" stop-color="#00f"/><stop offset="0.1" stop-color="#00f"/><stop offset="0.15" stop-color="#0026ff"/><stop offset="0.2" stop-color="#0056ff"/><stop offset="0.25" stop-color="#0082ff"/><stop offset="0.3" stop-color="#00a9ff"/><stop offset="0.35" stop-color="#0cf"/><stop offset="0.4" stop-color="#00e9ff"/><stop offset="0.45" stop-color="#00fffd"/><stop offset="0.5" stop-color="#00ffe9"/><stop offset="0.55" stop-color="#00ffda"/><stop offset="0.6" stop-color="#00ffd0"/><stop offset="0.65" stop-color="#00ffcb"/><stop offset="0.7" stop-color="#00ffcb"/><stop offset="0.75" stop-color="#00ffd0"/><stop offset="0.8" stop-color="#00ffd9"/><stop offset="0.85" stop-color="#00ffe8"/><stop offset="0.9" stop-color="#00fffb"/><stop offset="0.95" stop-color="#00ebff"/><stop offset="1" stop-color="#00ceff"/></linearGradient>
<linearGradient id="bg28"><stop offset="0" stop-color="#00f"/><stop offset="0.05" stop-color="#00f"/><stop offset="0.1" stop-color="#00f"/><stop offset="0.15" stop-color="#0014ff"/><stop offset="0.2" stop-color="#04f"/><stop offset="0.25" stop-color="#0070ff"/><stop offset="0.3" stop-color="#0097ff"/><stop offset="0.35" stop-color="#00baff"/><stop offset="0.4" stop-color="#00d7ff"/><stop offset="0.45" stop-color="#00efff"/><stop offset="0.5" stop-color="#00fffb"/><stop offset="0.55" stop-color="#00ffec"/><stop offset="0.6" stop-color="#00ffe3"/><stop offset="0.65" stop-color="#00ffde"/><stop offset="0.7" stop-color="#0fd"/><stop offset="0.75" stop-color="#00ffe2"/><stop offset="0.8" stop-color="#00ffec"/><stop offset="0.85" stop-color="#00fffa"/><stop offset="0.9" stop-color="#00f1ff"/><stop offset="0.95" stop-color="#00d9ff"/><stop offset="1" stop-color="#0bf"/></linearGradient>
<linearGradient id="bg29"><stop offset="0" stop-color="#00f"/><stop offset="0.05" stop-color="#00f"/><stop offset="0.1" stop-color="#00f"/><stop offset="0.15" stop-color="#0002ff"/><stop offset="0.2" stop-color="#0032ff"/><stop offset="0.25" stop-color="#005eff"/><stop offset="0.3" stop-color="#0085ff"/><stop offset="0.35" stop-color="#00a7ff"/><stop offset="0.4" stop-color="#00c5ff"/><stop offset="0.45" stop-color="#0df"/><stop offset="0.5" stop-color="#00f1ff"/><stop offset="0.55" stop-color="#0ff"/><stop offset="0.6" stop-color="#00fff5"/><stop offset="0.65" stop-color="#00fff0"/><stop offset="0.7" stop-color="#00fff0"/><stop offset="0.75" stop-color="#00fff4"/><stop offset="0.8" stop-color="#00fffe"/><stop offset="0.85" stop-color="#00f2ff"/><stop offset="0.9" stop-color="#00deff"/><stop offset="0.95" stop-color="#00c6ff"/><stop offset="1" stop-color="#00a9ff"/></linearGradient>
<linearGradient id="bg30"><stop offset="0" stop-color="#00f"/><stop offset="0.05" stop-color="#00f"/><stop offset="0.1" stop-color="#00f"/><stop offset="0.15" stop-color="#00f"/><stop offset="0.2" stop-color="#0020ff"/><stop offset="0.25" stop-color="#004cff"/><stop offset="0.3" stop-color="#0073ff"/><stop offset="0.35" stop-color="#0095ff"/><stop offset="0.4" stop-color="#00b2ff"/><stop offset="0.45" stop-color="#00caff"/><stop offset="0.5" stop-color="#00deff"/><stop offset="0.55" stop-color="#00edff"/><stop offset="0.6" stop-color="#00f7ff"/><stop offset="0.65" stop-color="#00fcff"/><stop offset="0.7" stop-color="#00fcff"/><stop offset="0.75" stop-color="#00f7ff"/><stop offset="0.8" stop-color="#00edff"/><stop offset="0.85" stop-color="#00dfff"/><stop offset="0.9" stop-color="#0cf"/><stop offset="0.95" stop-color="#00b3ff"/><stop offset="1" stop-color="#0096ff"/></linearGradient>
<linearGradient id="bg31"><stop offset="0" stop-color="#00f"/><stop offset="0.05" stop-color="#00f"/><stop offset="0.1" stop-color="#00f"/><stop offset="0.15" stop-color="#00f"/><stop offset="0.2" stop-color="#000dff"/><stop offset="0.25" stop-color="#0039ff"/><stop offset="0.3" stop-color="#0060ff"/><stop offset="0.35" stop-color="#0082ff"/><stop offset="0.4" stop-color="#009fff"/><stop offset="0.45" stop-color="#00b8ff"/><stop offset="0.5" stop-color="#00cbff"/><stop offset="0.55" stop-color="#00daff"/><stop offset="0.6" stop-color="#00e4ff"/><stop offset="0.65" stop-color="#00e9ff"/><stop offset="0.7" stop-color="#00e9ff"/><stop offset="0.75" stop-color="#00e4ff"/><stop offset="0.8" stop-color="#00dbff"/><stop offset="0.85" stop-color="#0cf"/><stop offset="0.9" stop-color="#00b9ff"/><stop offset="0.95" stop-color="#00a1ff"/><stop offset="1" stop-color="#0084ff"/></linearGradient>
<linearGradient id="bg32"><stop offset="0" stop-color="#00f"/><stop offset="0.05" stop-color="#00f"/><stop offset="0.1" stop-color="#00f"/><stop offset="0.15" stop-color="#00f"/><stop offset="0.2" stop-color="#00f"/><stop offset="0.25" stop-color="#0026ff"/><stop offset="0.3" stop-color="#004dff"/><stop offset="0.35" stop-color="#006fff"/><stop offset="0.4" stop-color="#008cff"/><stop offset="0.45" stop-color="#00a5ff"/><stop offset="0.5" stop-color="#00b8ff"/><stop offset="0.55" stop-color="#00c7ff"/><stop offset="0.6" stop-color="#00d1ff"/><stop offset="0.65" stop-color="#00d6ff"/><stop offset="0.7" stop-color="#00d6ff"/><stop offset="0.75" stop-color="#00d1ff"/><stop offset="0.8" stop-color="#00c7ff"/><stop offset="0.85" stop-color="#00b9ff"/><stop offset="0.9" stop-color="#00a6ff"/><stop offset="0.95" stop-color="#008dff"/><stop offset="1" stop-color="#0070ff"/></linearGradient>
<linearGradient id="bg33"><stop offset="0" stop-color="#00f"/><stop offset="0.05" stop-color="#00f"/><stop offset="0.1" stop-color="#00f"/><stop offset="0.15" stop-color="#00f"/><stop offset="0.2" stop-color="#00f"/><stop offset="0.25" stop-color="#0013ff"/><stop offset="0.3" stop-color="#003aff"/><stop offset="0.35" stop-color="#005cff"/><stop offset="0.4" stop-color="#0079ff"/><stop offset="0.45" stop-color="#0091ff"/><stop offset="0.5" stop-color="#00a5ff"/><stop offset="0.55" stop-color="#00b4ff"/><stop offset="0.6" stop-color="#00bdff"/><stop offset="0.65" stop-color="#00c2ff"/><stop offset="0.7" stop-color="#00c2ff"/><stop offset="0.75" stop-color="#00beff"/><stop offset="0.8" stop-color="#00b4ff"/><stop offset="0.85" stop-color="#00a6ff"/><stop offset="0.9" stop-color="#0092ff"/><stop offset="0.95" stop-color="#007aff"/><stop offset="1" stop-color="#005dff"/></linearGradient>
<linearGradient id="cg0"><stop offset="0" stop-color="#007dff"/><stop offset="0.05" stop-color="#00bdff"/><stop offset="0.1" stop-color="#00f8ff"/><stop offset="0.15" stop-color="#00ffd0"/><stop offset="0.2" stop-color="#00ff9f"/><stop offset="0.25" stop-color="#00ff72"/><stop offset="0.3" stop-color="#00ff4b"/><stop offset="0.35" stop-color="#00ff28"/><stop offset="0.4" stop-color="#00ff0b"/><stop offset="0.45" stop-color="#0eff00"/><stop offset="0.5" stop-color="#2f0"/><stop offset="0.55" stop-color="#30ff00"/><stop offset="0.6" stop-color="#3aff00"/><stop offset="0.65" stop-color="#40ff00"/><stop offset="0.7" stop-color="#40ff00"/><stop offset="0.75" stop-color="#3bff00"/><stop offset="0.8" stop-color="#31ff00"/><stop offset="0.85" stop-color="#23ff00"/><stop offset="0.9" stop-color="#10ff00"/><stop offset="0.95" stop-color="#00ff09"/><stop offset="1" stop-color="#00ff26"/></linearGradient>
<linearGradient id="cg1"><stop offset="0" stop-color="#0082ff"/><stop offset="0.05" stop-color="#00c2ff"/><stop offset="0.1" stop-color="#00fdff"/><stop offset="0.15" stop-color="#00ffcb"/><stop offset="0.2" stop-color="#00ff9a"/><stop offset="0.25" stop-color="#00ff6e"/><stop offset="0.3" stop-color="#00ff46"/><stop offset="0.35" stop-color="#00ff24"/><stop offset="0.4" stop-color="#00ff06"/><stop offset="0.45" stop-color="#12ff00"/><stop offset="0.5" stop-color="#26ff00"/><stop offset="0.55" stop-color="#35ff00"/><stop offset="0.6" stop-color="#3fff00"/><stop offset="0.65" stop-color="#4f0"/><stop offset="0.7" stop-color="#4f0"/><stop offset="0.75" stop-color="#40ff00"/><stop offset="0.8" stop-color="#36ff00"/><stop offset="0.85" stop-color="#27ff00"/><stop offset="0.9" stop-color="#14ff00"/><stop offset="0.95" stop-color="#00ff04"/><stop offset="1" stop-color="#00ff21"/></linearGradient>
<linearGradient id="cg2"><stop offset="0" stop-color="#0086ff"/><stop offset="0.05" stop-color="#00c6ff"/><stop offset="0.1" stop-color="#00fffd"/><stop offset="0.15" stop-color="#00ffc7"/><stop offset="0.2" stop-color="#00ff96"/><stop offset="0.25" stop-color="#00ff69"/><stop offset="0.3" stop-color="#00ff42"/><stop offset="0.35" stop-color="#00ff1f"/><stop offset="0.4" stop-color="#00ff02"/><stop offset="0.45" stop-color="#17ff00"/><stop offset="0.5" stop-color="#2bff00"/><stop offset="0.55" stop-color="#39ff00"/><stop offset="0.6" stop-color="#43ff00"/><stop offset="0.65" stop-color="#49ff00"/><stop offset="0.7" stop-color="#49ff00"/><stop offset="0.75" stop-color="#4f0"/><stop offset="0.8" stop-color="#3aff00"/><stop offset="0.85" stop-color="#2cff00"/><stop offset="0.9" stop-color="#19ff00"/><stop offset="0.95" stop-color="#0f0"/><stop offset="1" stop-color="#00ff1d"/></linearGradient>
<linearGradient id="cg3"><stop offset="0" stop-color="#008bff"/><stop offset="0.05" stop-color="#00cbff"/><stop offset="0.1" stop-color="#00fff8"/><stop offset="0.15" stop-color="#00ffc2"/><stop offset="0.2" stop-color="#00ff91"/><stop offset="0.25" stop-color="#00ff65"/><stop offset="0.3" stop-color="#00ff3e"/><stop offset="0.35" stop-color="#00ff1b"/><stop offset="0.4" stop-color="#03ff00"/><stop offset="0.45" stop-color="#1bff00"/><stop offset="0.5" stop-color="#2fff00"/><stop offset="0.55" stop-color="#3eff00"/><stop offset="0.6" stop-color="#48ff00"/><stop offset="0.65" stop-color="#4dff00"/><stop offset="0.7" stop-color="#4dff00"/><stop offset="0.75" stop-color="#48ff00"/><stop offset="0.8" stop-color="#3fff00"/><stop offset="0.85" stop-color="#30ff00"/><stop offset="0.9" stop-color="#1dff00"/><stop offset="0.95" stop-color="#05ff00"/><stop offset="1" stop-color="#00ff18"/></linearGradient>
<linearGradient id="cg4"><stop offset="0" stop-color="#008fff"/><stop offset="0.05" stop-color="#00cfff"/><stop offset="0.1" stop-color="#00fff4"/><stop offset="0.15" stop-color="#00ffbe"/><stop offset="0.2" stop-color="#00ff8d"/><stop offset="0.25" stop-color="#00ff60"/><stop offset="0.3" stop-color="#00ff39"/><stop offset="0.35" stop-color="#00ff17"/><stop offset="0.4" stop-color="#07ff00"/><stop offset="0.45" stop-color="#20ff00"/><stop offset="0.5" stop-color="#3f0"/><stop offset="0.55" stop-color="#42ff00"/><stop offset="0.6" stop-color="#4cff00"/><stop offset="0.65" stop-color="#51ff00"/><stop offset="0.7" stop-color="#52ff00"/><stop offset="0.75" stop-color="#4dff00"/><stop offset="0.8" stop-color="#43ff00"/><stop offset="0.85" stop-color="#35ff00"/><stop offset="0.9" stop-color="#21ff00"/><stop offset="0.95" stop-color="#09ff00"/><stop offset="1" stop-color="#00ff14"/></linearGradient>
<linearGradient id="cg5"><stop offset="0" stop-color="#0094ff"/><stop offset="0.05" stop-color="#00d3ff"/><stop offset="0.1" stop-color="#00fff0"/><stop offset="0.15" stop-color="#00ffba"/><stop offset="0.2" stop-color="#0f8"/><stop offset="0.25" stop-color="#00ff5c"/><stop offset="0.3" stop-color="#00ff35"/><stop offset="0.35" stop-color="#00ff12"/><stop offset="0.4" stop-color="#0bff00"/><stop offset="0.45" stop-color="#24ff00"/><stop offset="0.5" stop-color="#38ff00"/><stop offset="0.55" stop-color="#47ff00"/><stop offset="0.6" stop-color="#51ff00"/><stop offset="0.65" stop-color="#56ff00"/><stop offset="0.7" stop-color="#56ff00"/><stop offset="0.75" stop-color="#51ff00"/><stop offset="0.8" stop-color="#48ff00"/><stop offset="0.85" stop-color="#39ff00"/><stop offset="0.9" stop-color="#26ff00"/><stop offset="0.95" stop-color="#0eff00"/><stop offset="1" stop-color="#00ff10"/></linearGradient>
<linearGradient id="cg6"><stop offset="0" stop-color="#0098ff"/><stop offset="0.05" stop-color="#00d8ff"/><stop offset="0.1" stop-color="#00ffeb"/><stop offset="0.15" stop-color="#00ffb5"/><stop offset="0.2" stop-color="#00ff84"/><stop offset="0.25" stop-color="#00ff58"/><stop offset="0.3" stop-color="#00ff30"/><stop offset="0.35" stop-color="#00ff0e"/><stop offset="0.4" stop-color="#10ff00"/><stop offset="0.45" stop-color="#28ff00"/><stop offset="0.5" stop-color="#3cff00"/><stop offset="0.55" stop-color="#4bff00"/><stop offset="0.6" stop-color="#5f0"/><stop offset="0.65" stop-color="#5aff00"/><stop offset="0.7" stop-color="#5aff00"/><stop offset="0.75" stop-color="#56ff00"/><stop offset="0.8" stop-color="#4cff00"/><stop offset="0.85" stop-color="#3eff00"/><stop offset="0.9" stop-color="#2aff00"/><stop offset="0.95" stop-color="#12ff00"/><stop offset="1" stop-color="#00ff0b"/></linearGradient>
<linearGradient id="cg7"><stop offset="0" stop-color="#009cff"/><stop offset="0.05" stop-color="#00dcff"/><stop offset="0.1" stop-color="#00ffe7"/><stop offset="0.15" stop-color="#00ffb1"/><stop offset="0.2" stop-color="#00ff80"/><stop offset="0.25" stop-color="#00ff53"/><stop offset="0.3" stop-color="#00ff2c"/><stop offset="0.35" stop-color="#00ff09"/><stop offset="0.4" stop-color="#14ff00"/><stop offset="0.45" stop-color="#2dff00"/><stop offset="0.5" stop-color="#41ff00"/><stop offset="0.55" stop-color="#4fff00"/><stop offset="0.6" stop-color="#59ff00"/><stop offset="0.65" stop-color="#5fff00"/><stop offset="0.7" stop-color="#5fff00"/><stop offset="0.75" stop-color="#5aff00"/><stop offset="0.8" stop-color="#50ff00"/><stop offset="0.85" stop-color="#42ff00"/><stop offset="0.9" stop-color="#2fff00"/><stop offset="0.95" stop-color="#16ff00"/><stop offset="1" stop-color="#00ff07"/></linearGradient>
<linearGradient id="cg8"><stop offset="0" stop-color="#00a1ff"/><stop offset="0.05" stop-color="#00e0ff"/><stop offset="0.1" stop-color="#00ffe3"/><stop offset="0.15" stop-color="#00ffac"/><stop offset="0.2" stop-color="#00ff7b"/><stop offset="0.25" stop-color="#00ff4f"/><stop offset="0.3" stop-color="#00ff28"/><stop offset="0.35" stop-color="#00ff05"/><stop offset="0.4" stop-color="#18ff00"/><stop offset="0.45" stop-color="#31ff00"/><stop offset="0.5" stop-color="#45ff00"/><stop offset="0.55" stop-color="#54ff00"/><stop offset="0.6" stop-color="#5eff00"/><stop offset="0.65" stop-color="#63ff00"/><stop offset="0.7" stop-color="#63ff00"/><stop offset="0.75" stop-color="#5eff00"/><stop offset="0.8" stop-color="#5f0"/><stop offset="0.85" stop-color="#46ff00"/><stop offset="0.9" stop-color="#3f0"/><stop offset="0.95" stop-color="#1bff00"/><stop offset="1" stop-color="#00ff03"/></linearGradient>
<linearGradient id="cg9"><stop offset="0" stop-color="#00a5ff"/><stop offset="0.05" stop-color="#00e5ff"/><stop offset="0.1" stop-color="#00ffde"/><stop offset="0.15" stop-color="#00ffa8"/><stop offset="0.2" stop-color="#0f7"/><stop offset="0.25" stop-color="#00ff4b"/><stop offset="0.3" stop-color="#00ff23"/><stop offset="0.35" stop-color="#00ff01"/><stop offset="0.4" stop-color="#1dff00"/><stop offset="0.45" stop-color="#35ff00"/><stop offset="0.5" stop-color="#49ff00"/><stop offset="0.55" stop-color="#58ff00"/><stop offset="0.6" stop-color="#62ff00"/><stop offset="0.65" stop-color="#67ff00"/><stop offset="0.7" stop-color="#67ff00"/><stop offset="0.75" stop-color="#63ff00"/><stop offset="0.8" stop-color="#59ff00"/><stop offset="0.85" stop-color="#4bff00"/><stop offset="0.9" stop-color="#37ff00"/><stop offset="0.95" stop-color="#1fff00"/><stop offset="1" stop-color="#02ff00"/></linearGradient>
<linearGradient id="cg10"><stop offset="0" stop-color="#00a9ff"/><stop offset="0.05" stop-color="#00e9ff"/><stop offset="0.1" stop-color="#00ffda"/><stop offset="0.15" stop-color="#00ffa4"/><stop offset="0.2" stop-color="#00ff73"/><stop offset="0.25" stop-color="#00ff46"/><stop offset="0.3" stop-color="#00ff1f"/><stop offset="0.35" stop-color="#03ff00"/><stop offset="0.4" stop-color="#21ff00"/><stop offset="0.45" stop-color="#3aff00"/><stop offset="0.5" stop-color="#4dff00"/><stop offset="0.55" stop-color="#5cff00"/><stop offset="0.6" stop-color="#6f0"/><stop offset="0.65" stop-color="#6bff00"/><stop offset="0.7" stop-color="#6cff00"/><stop offset="0.75" stop-color="#67ff00"/><stop offset="0.8" stop-color="#5dff00"/><stop offset="0.85" stop-color="#4fff00"/><stop offset="0.9" stop-color="#3cff00"/><stop offset="0.95" stop-color="#23ff00"/><stop offset="1" stop-color="#06ff00"/></linearGradient>
<linearGradient id="cg11"><stop offset="0" stop-color="#00adff"/><stop offset="0.05" stop-color="#00edff"/><stop offset="0.1" stop-color="#00ffd6"/><stop offset="0.15" stop-color="#00ffa0"/><stop offset="0.2" stop-color="#00ff6e"/><stop offset="0.25" stop-color="#00ff42"/><stop offset="0.3" stop-color="#00ff1b"/><stop offset="0.35" stop-color="#08ff00"/><stop offset="0.4" stop-color="#25ff00"/><stop offset="0.45" stop-color="#3eff00"/><stop offset="0.5" stop-color="#52ff00"/><stop offset="0.55" stop-color="#61ff00"/><stop offset="0.6" stop-color="#6bff00"/><stop offset="0.65" stop-color="#70ff00"/><stop offset="0.7" stop-color="#70ff00"/><stop offset="0.75" stop-color="#6bff00"/><stop offset="0.8" stop-color="#62ff00"/><stop offset="0.85" stop-color="#53ff00"/><stop offset="0.9" stop-color="#40ff00"/><stop offset="0.95" stop-color="#28ff00"/><stop offset="1" stop-color="#0aff00"/></linearGradient>
<linearGradient id="cg12"><stop offset="0" stop-color="#00b2ff"/><stop offset="0.05" stop-color="#00f2ff"/><stop offset="0.1" stop-color="#00ffd2"/><stop offset="0.15" stop-color="#00ff9b"/><stop offset="0.2" stop-color="#00ff6a"/><stop offset="0.25" stop-color="#00ff3e"/><stop offset="0.3" stop-color="#00ff17"/><stop offset="0.35" stop-color="#0cff00"/><stop offset="0.4" stop-color="#29ff00"/><stop offset="0.45" stop-color="#42ff00"/><stop offset="0.5" stop-color="#56ff00"/><stop offset="0.55" stop-color="#65ff00"/><stop offset="0.6" stop-color="#6fff00"/><stop offset="0.65" stop-color="#74ff00"/><stop offset="0.7" stop-color="#74ff00"/><stop offset="0.75" stop-color="#6fff00"/><stop offset="0.8" stop-color="#6f0"/><stop offset="0.85" stop-color="#57ff00"/><stop offset="0.9" stop-color="#4f0"/><stop offset="0.95" stop-color="#2cff00"/><stop offset="1" stop-color="#0fff00"/></linearGradient>
<linearGradient id="cg13"><stop offset="0" stop-color="#00b6ff"/><stop offset="0.05" stop-color="#00f6ff"/><stop offset="0.1" stop-color="#00ffcd"/><stop offset="0.15" stop-color="#00ff97"/><stop offset="0.2" stop-color="#0f6"/><stop offset="0.25" stop-color="#00ff3a"/><stop offset="0.3" stop-color="#00ff12"/><stop offset="0.35" stop-color="#10ff00"/><stop offset="0.4" stop-color="#2eff00"/><stop offset="0.45" stop-color="#46ff00"/><stop offset="0.5" stop-color="#5aff00"/><stop offset="0.55" stop-color="#69ff00"/><stop offset="0.6" stop-color="#73ff00"/><stop offset="0.65" stop-color="#78ff00"/><stop offset="0.7" stop-color="#78ff00"/><stop offset="0.75" stop-color="#74ff00"/><stop offset="0.8" stop-color="#6aff00"/><stop offset="0.85" stop-color="#5cff00"/><stop offset="0.9" stop-color="#48ff00"/><stop offset="0.95" stop-color="#30ff00"/><stop offset="1" stop-color="#13ff00"/></linearGradient>
<linearGradient id="cg14"><stop offset="0" stop-color="#00baff"/><stop offset="0.05" stop-color="#00faff"/><stop offset="0.1" stop-color="#00ffc9"/><stop offset="0.15" stop-color="#00ff93"/><stop offset="0.2" stop-color="#00ff62"/><stop offset="0.25" stop-color="#00ff36"/><stop offset="0.3" stop-color="#00ff0e"/><stop offset="0.35" stop-color="#14ff00"/><stop offset="0.4" stop-color="#32ff00"/><stop offset="0.45" stop-color="#4bff00"/><stop offset="0.5" stop-color="#5eff00"/><stop offset="0.55" stop-color="#6dff00"/><stop offset="0.6" stop-color="#7f0"/><stop offset="0.65" stop-color="#7cff00"/><stop offset="0.7" stop-color="#7dff00"/><stop offset="0.75" stop-color="#78ff00"/><stop offset="0.8" stop-color="#6eff00"/><stop offset="0.85" stop-color="#60ff00"/><stop offset="0.9" stop-color="#4cff00"/><stop offset="0.95" stop-color="#34ff00"/><stop offset="1" stop-color="#17ff00"/></linearGradient>
<linearGradient id="cg15"><stop offset="0" stop-color="#00beff"/><stop offset="0.05" stop-color="#00feff"/><stop offset="0.1" stop-color="#00ffc5"/><stop offset="0.15" stop-color="#00ff8f"/><stop offset="0.2" stop-color="#00ff5e"/><stop offset="0.25" stop-color="#00ff31"/><stop offset="0.3" stop-color="#00ff0a"/><stop offset="0.35" stop-color="#18ff00"/><stop offset="0.4" stop-color="#36ff00"/><stop offset="0.45" stop-color="#4fff00"/><stop offset="0.5" stop-color="#62ff00"/><stop offset="0.55" stop-color="#71ff00"/><stop offset="0.6" stop-color="#7bff00"/><stop offset="0.65" stop-color="#80ff00"/><stop offset="0.7" stop-color="#81ff00"/><stop offset="0.75" stop-color="#7cff00"/><stop offset="0.8" stop-color="#72ff00"/><stop offset="0.85" stop-color="#64ff00"/><stop offset="0.9" stop-color="#51ff00"/><stop offset="0.95" stop-color="#38ff00"/><stop offset="1" stop-color="#1bff00"/></linearGradient>
<linearGradient id="cg16"><stop offset="0" stop-color="#00c2ff"/><stop offset="0.05" stop-color="#00fffc"/><stop offset="0.1" stop-color="#00ffc1"/><stop offset="0.15" stop-color="#00ff8b"/><stop offset="0.2" stop-color="#00ff5a"/><stop offset="0.25" stop-color="#00ff2d"/><stop offset="0.3" stop-color="#00ff06"/><stop offset="0.35" stop-color="#1dff00"/><stop offset="0.4" stop-color="#3aff00"/><stop offset="0.45" stop-color="#53ff00"/><stop offset="0.5" stop-color="#67ff00"/><stop offset="0.55" stop-color="#76ff00"/><stop offset="0.6" stop-color="#80ff00"/><stop offset="0.65" stop-color="#85ff00"/><stop offset="0.7" stop-color="#85ff00"/><stop offset="0.75" stop-color="#80ff00"/><stop offset="0.8" stop-color="#7f0"/><stop offset="0.85" stop-color="#68ff00"/><stop offset="0.9" stop-color="#5f0"/><stop offset="0.95" stop-color="#3cff00"/><stop offset="1" stop-color="#1fff00"/></linearGradient>
<linearGradient id="cg17"><stop offset="0" stop-color="#00c6ff"/><stop offset="0.05" stop-color="#00fff8"/><stop offset="0.1" stop-color="#00ffbd"/><stop offset="0.15" stop-color="#00ff87"/><stop offset="0.2" stop-color="#00ff56"/><stop offset="0.25" stop-color="#00ff29"/><stop offset="0.3" stop-color="#00ff02"/><stop offset="0.35" stop-color="#21ff00"/><stop offset="0.4" stop-color="#3eff00"/><stop offset="0.45" stop-color="#57ff00"/><stop offset="0.5" stop-color="#6bff00"/><stop offset="0.55" stop-color="#7aff00"/><stop offset="0.6" stop-color="#84ff00"/><stop offset="0.65" stop-color="#89ff00"/><stop offset="0.7" stop-color="#89ff00"/><stop offset="0.75" stop-color="#84ff00"/><stop offset="0.8" stop-color="#7bff00"/><stop offset="0.85" stop-color="#6cff00"/><stop offset="0.9" stop-color="#59ff00"/><stop offset="0.95" stop-color="#41ff00"/><stop offset="1" stop-color="#23ff00"/></linearGradient>
<linearGradient id="cg18"><stop offset="0" stop-color="#00caff"/><stop offset="0.05" stop-color="#00fff4"/><stop offset="0.1" stop-color="#00ffb9"/><stop offset="0.15" stop-color="#00ff83"/><stop offset="0.2" stop-color="#00ff51"/><stop offset="0.25" stop-color="#00ff25"/><stop offset="0.3" stop-color="#02ff00"/><stop offset="0.35" stop-color="#25ff00"/><stop offset="0.4" stop-color="#42ff00"/><stop offset="0.45" stop-color="#5bff00"/><stop offset="0.5" stop-color="#6fff00"/><stop offset="0.55" stop-color="#7eff00"/><stop offset="0.6" stop-color="#8f0"/><stop offset="0.65" stop-color="#8dff00"/><stop offset="0.7" stop-color="#8dff00"/><stop offset="0.75" stop-color="#8f0"/><stop offset="0.8" stop-color="#7fff00"/><stop offset="0.85" stop-color="#70ff00"/><stop offset="0.9" stop-color="#5dff00"/><stop offset="0.95" stop-color="#45ff00"/><stop offset="1" stop-color="#27ff00"/></linearGradient>
<linearGradient id="cg19"><stop offset="0" stop-color="#00ceff"/><stop offset="0.05" stop-color="#00fff0"/><stop offset="0.1" stop-color="#00ffb5"/><stop offset="0.15" stop-color="#00ff7f"/><stop offset="0.2" stop-color="#00ff4d"/><stop offset="0.25" stop-color="#00ff21"/><stop offset="0.3" stop-color="#06ff00"/><stop offset="0.35" stop-color="#29ff00"/><stop offset="0.4" stop-color="#46ff00"/><stop offset="0.45" stop-color="#5fff00"/><stop offset="0.5" stop-color="#73ff00"/><stop offset="0.55" stop-color="#82ff00"/><stop offset="0.6" stop-color="#8cff00"/><stop offset="0.65" stop-color="#91ff00"/><stop offset="0.7" stop-color="#91ff00"/><stop offset="0.75" stop-color="#8cff00"/><stop offset="0.8" stop-color="#83ff00"/><stop offset="0.85" stop-color="#74ff00"/><stop offset="0.9" stop-color="#61ff00"/><stop offset="0.95" stop-color="#49ff00"/><stop offset="1" stop-color="#2cff00"/></linearGradient>
<linearGradient id="cg20"><stop offset="0" stop-color="#00d2ff"/><stop offset="0.05" stop-color="#00ffec"/><stop offset="0.1" stop-color="#00ffb1"/><stop offset="0.15" stop-color="#00ff7b"/><stop offset="0.2" stop-color="#00ff49"/><stop offset="0.25" stop-color="#00ff1d"/><stop offset="0.3" stop-color="#0aff00"/><stop offset="0.35" stop-color="#2dff00"/><stop offset="0.4" stop-color="#4aff00"/><stop offset="0.45" stop-color="#63ff00"/><stop offset="0.5" stop-color="#7f0"/><stop offset="0.55" stop-color="#86ff00"/><stop offset="0.6" stop-color="#90ff00"/><stop offset="0.65" stop-color="#95ff00"/><stop offset="0.7" stop-color="#95ff00"/><stop offset="0.75" stop-color="#90ff00"/><stop offset="0.8" stop-color="#87ff00"/><stop offset="0.85" stop-color="#78ff00"/><stop offset="0.9" stop-color="#65ff00"/><stop offset="0.95" stop-color="#4dff00"/><stop offset="1" stop-color="#30ff00"/></linearGradient>
<linearGradient id="cg21"><stop offset="0" stop-color="#00d6ff"/><stop offset="0.05" stop-color="#00ffe8"/><stop offset="0.1" stop-color="#00ffad"/><stop offset="0.15" stop-color="#0f7"/><stop offset="0.2" stop-color="#00ff45"/><stop offset="0.25" stop-color="#00ff19"/><stop offset="0.3" stop-color="#0eff00"/><stop offset="0.35" stop-color="#31ff00"/><stop offset="0.4" stop-color="#4eff00"/><stop offset="0.45" stop-color="#67ff00"/><stop offset="0.5" stop-color="#7bff00"/><stop offset="0.55" stop-color="#8aff00"/><stop offset="0.6" stop-color="#94ff00"/><stop offset="0.65" stop-color="#9f0"/><stop offset="0.7" stop-color="#9f0"/><stop offset="0.75" stop-color="#94ff00"/><stop offset="0.8" stop-color="#8bff00"/><stop offset="0.85" stop-color="#7cff00"/><stop offset="0.9" stop-color="#69ff00"/><stop offset="0.95" stop-color="#51ff00"/><stop offset="1" stop-color="#34ff00"/></linearGradient>
<linearGradient id="cg22"><stop offset="0" stop-color="#00daff"/><stop offset="0.05" stop-color="#00ffe4"/><stop offset="0.1" stop-color="#00ffa9"/><stop offset="0.15" stop-color="#00ff73"/><stop offset="0.2" stop-color="#00ff41"/><stop offset="0.25" stop-color="#00ff15"/><stop offset="0.3" stop-color="#12ff00"/><stop offset="0.35" stop-color="#35ff00"/><stop offset="0.4" stop-color="#52ff00"/><stop offset="0.45" stop-color="#6bff00"/><stop offset="0.5" stop-color="#7fff00"/><stop offset="0.55" stop-color="#8eff00"/><stop offset="0.6" stop-color="#98ff00"/><stop offset="0.65" stop-color="#9dff00"/><stop offset="0.7" stop-color="#9dff00"/><stop offset="0.75" stop-color="#98ff00"/><stop offset="0.8" stop-color="#8fff00"/><stop offset="0.85" stop-color="#80ff00"/><stop offset="0.9" stop-color="#6dff00"/><stop offset="0.95" stop-color="#5f0"/><stop offset="1" stop-color="#38ff00"/></linearGradient>
<linearGradient id="cg23"><stop offset="0" stop-color="#00deff"/><stop offset="0.05" stop-color="#00ffe0"/><stop offset="0.1" stop-color="#00ffa5"/><stop offset="0.15" stop-color="#00ff6f"/><stop offset="0.2" stop-color="#00ff3e"/><stop offset="0.25" stop-color="#0f1"/><stop offset="0.3" stop-color="#16ff00"/><stop offset="0.35" stop-color="#39ff00"/><stop offset="0.4" stop-color="#56ff00"/><stop offset="0.45" stop-color="#6fff00"/><stop offset="0.5" stop-color="#83ff00"/><stop offset="0.55" stop-color="#92ff00"/><stop offset="0.6" stop-color="#9cff00"/><stop offset="0.65" stop-color="#a1ff00"/><stop offset="0.7" stop-color="#a1ff00"/><stop offset="0.75" stop-color="#9cff00"/><stop offset="0.8" stop-color="#93ff00"/><stop offset="0.85" stop-color="#84ff00"/><stop offset="0.9" stop-color="#71ff00"/><stop offset="0.95" stop-color="#59ff00"/><stop offset="1" stop-color="#3cff00"/></linearGradient>
<linearGradient id="cg24"><stop offset="0" stop-color="#00e2ff"/><stop offset="0.05" stop-color="#00ffdc"/><stop offset="0.1" stop-color="#00ffa1"/><stop offset="0.15" stop-color="#00ff6b"/><stop offset="0.2" stop-color="#00ff3a"/><stop offset="0.25" stop-color="#00ff0d"/><stop offset="0.3" stop-color="#1aff00"/><stop offset="0.35" stop-color="#3dff00"/><stop offset="0.4" stop-color="#5aff00"/><stop offset="0.45" stop-color="#73ff00"/><stop offset="0.5" stop-color="#87ff00"/><stop offset="0.55" stop-color="#96ff00"/><stop offset="0.6" stop-color="#a0ff00"/><stop offset="0.65" stop-color="#a5ff00"/><stop offset="0.7" stop-color="#a5ff00"/><stop offset="0.75" stop-color="#a0ff00"/><stop offset="0.8" stop-color="#97ff00"/><stop offset="0.85" stop-color="#8f0"/><stop offset="0.9" stop-color="#75ff00"/><stop offset="0.95" stop-color="#5dff00"/><stop offset="1" stop-color="#3fff00"/></linearGradient>
<linearGradient id="cg25"><stop offset="0" stop-color="#00e6ff"/><stop offset="0.05" stop-color="#00ffd8"/><stop offset="0.1" stop-color="#00ff9d"/><stop offset="0.15" stop-color="#00ff67"/><stop offset="0.2" stop-color="#00ff36"/><stop offset="0.25" stop-color="#00ff09"/><stop offset="0.3" stop-color="#1eff00"/><stop offset="0.35" stop-color="#40ff00"/><stop offset="0.4" stop-color="#5eff00"/><stop offset="0.45" stop-color="#7f0"/><stop offset="0.5" stop-color="#8bff00"/><stop offset="0.55" stop-color="#9f0"/><stop offset="0.6" stop-color="#a3ff00"/><stop offset="0.65" stop-color="#a9ff00"/><stop offset="0.7" stop-color="#a9ff00"/><stop offset="0.75" stop-color="#a4ff00"/><stop offset="0.8" stop-color="#9bff00"/><stop offset="0.85" stop-color="#8cff00"/><stop offset="0.9" stop-color="#79ff00"/><stop offset="0.95" stop-color="#61ff00"/><stop offset="1" stop-color="#43ff00"/></linearGradient>
<linearGradient id="cg26"><stop offset="0" stop-color="#00eaff"/><stop offset="0.05" stop-color="#00ffd4"/><stop offset="0.1" stop-color="#0f9"/><stop offset="0.15" stop-color="#00ff63"/><stop offset="0.2" stop-color="#00ff32"/><stop offset="0.25" stop-color="#00ff06"/><stop offset="0.3" stop-color="#2f0"/><stop offset="0.35" stop-color="#4f0"/><stop offset="0.4" stop-color="#62ff00"/><stop offset="0.45" stop-color="#7bff00"/><stop offset="0.5" stop-color="#8eff00"/><stop offset="0.55" stop-color="#9dff00"/><stop offset="0.6" stop-color="#a7ff00"/><stop offset="0.65" stop-color="#acff00"/><stop offset="0.7" stop-color="#adff00"/><stop offset="0.75" stop-color="#a8ff00"/><stop offset="0.8" stop-color="#9eff00"/><stop offset="0.85" stop-color="#90ff00"/><stop offset="0.9" stop-color="#7dff00"/><stop offset="0.95" stop-color="#64ff00"/><stop offset="1" stop-color="#47ff00"/></linearGradient>
<linearGradient id="cg27"><stop offset="0" stop-color="#0ef"/><stop offset="0.05" stop-color="#00ffd0"/><stop offset="0.1" stop-color="#00ff95"/><stop offset="0.15" stop-color="#00ff5f"/><stop offset="0.2" stop-color="#00ff2e"/><stop offset="0.25" stop-color="#00ff02"/><stop offset="0.3" stop-color="#26ff00"/><stop offset="0.35" stop-color="#48ff00"/><stop offset="0.4" stop-color="#6f0"/><stop offset="0.45" stop-color="#7eff00"/><stop offset="0.5" stop-color="#92ff00"/><stop offset="0.55" stop-color="#a1ff00"/><stop offset="0.6" stop-color="#abff00"/><stop offset="0.65" stop-color="#b0ff00"/><stop offset="0.7" stop-color="#b1ff00"/><stop offset="0.75" stop-color="#acff00"/><stop offset="0.8" stop-color="#a2ff00"/><stop offset="0.85" stop-color="#94ff00"/><stop offset="0.9" stop-color="#80ff00"/><stop offset="0.95" stop-color="#68ff00"/><stop offset="1" stop-color="#4bff00"/></linearGradient>
<linearGradient id="cg28"><stop offset="0" stop-color="#00f2ff"/><stop offset="0.05" stop-color="#00ffcd"/><stop offset="0.1" stop-color="#00ff92"/><stop offset="0.15" stop-color="#00ff5b"/><stop offset="0.2" stop-color="#00ff2a"/><stop offset="0.25" stop-color="#02ff00"/><stop offset="0.3" stop-color="#29ff00"/><stop offset="0.35" stop-color="#4cff00"/><stop offset="0.4" stop-color="#6aff00"/><stop offset="0.45" stop-color="#82ff00"/><stop offset="0.5" stop-color="#96ff00"/><stop offset="0.55" stop-color="#a5ff00"/><stop offset="0.6" stop-color="#afff00"/><stop offset="0.65" stop-color="#b4ff00"/><stop offset="0.7" stop-color="#b4ff00"/><stop offset="0.75" stop-color="#b0ff00"/><stop offset="0.8" stop-color="#a6ff00"/><stop offset="0.85" stop-color="#98ff00"/><stop offset="0.9" stop-color="#84ff00"/><stop offset="0.95" stop-color="#6cff00"/><stop offset="1" stop-color="#4fff00"/></linearGradient>
<linearGradient id="cg29"><stop offset="0" stop-color="#00f5ff"/><stop offset="0.05" stop-color="#00ffc9"/><stop offset="0.1" stop-color="#00ff8e"/><stop offset="0.15" stop-color="#00ff58"/><stop offset="0.2" stop-color="#00ff26"/><stop offset="0.25" stop-color="#06ff00"/><stop offset="0.3" stop-color="#2dff00"/><stop offset="0.35" stop-color="#50ff00"/><stop offset="0.4" stop-color="#6dff00"/><stop offset="0.45" stop-color="#86ff00"/><stop offset="0.5" stop-color="#9aff00"/><stop offset="0.55" stop-color="#a9ff00"/><stop offset="0.6" stop-color="#b3ff00"/><stop offset="0.65" stop-color="#b8ff00"/><stop offset="0.7" stop-color="#b8ff00"/><stop offset="0.75" stop-color="#b4ff00"/><stop offset="0.8" stop-color="#af0"/><stop offset="0.85" stop-color="#9bff00"/><stop offset="0.9" stop-color="#8f0"/><stop offset="0.95" stop-color="#70ff00"/><stop offset="1" stop-color="#53ff00"/></linearGradient>
<linearGradient id="cg30"><stop offset="0" stop-color="#00f9ff"/><stop offset="0.05" stop-color="#00ffc5"/><stop offset="0.1" stop-color="#00ff8a"/><stop offset="0.15" stop-color="#00ff54"/><stop offset="0.2" stop-color="#00ff23"/><stop offset="0.25" stop-color="#0aff00"/><stop offset="0.3" stop-color="#31ff00"/><stop offset="0.35" stop-color="#54ff00"/><stop offset="0.4" stop-color="#71ff00"/><stop offset="0.45" stop-color="#8aff00"/><stop offset="0.5" stop-color="#9eff00"/><stop offset="0.55" stop-color="#adff00"/><stop offset="0.6" stop-color="#b7ff00"/><stop offset="0.65" stop-color="#bcff00"/><stop offset="0.7" stop-color="#bcff00"/><stop offset="0.75" stop-color="#b7ff00"/><stop offset="0.8" stop-color="#aeff00"/><stop offset="0.85" stop-color="#9fff00"/><stop offset="0.9" stop-color="#8cff00"/><stop offset="0.95" stop-color="#74ff00"/><stop offset="1" stop-color="#56ff00"/></linearGradient>
<linearGradient id="cg31"><stop offset="0" stop-color="#00fdff"/><stop offset="0.05" stop-color="#00ffc1"/><stop offset="0.1" stop-color="#00ff86"/><stop offset="0.15" stop-color="#00ff50"/><stop offset="0.2" stop-color="#00ff1f"/><stop offset="0.25" stop-color="#0dff00"/><stop offset="0.3" stop-color="#35ff00"/><stop offset="0.35" stop-color="#57ff00"/><stop offset="0.4" stop-color="#75ff00"/><stop offset="0.45" stop-color="#8eff00"/><stop offset="0.5" stop-color="#a1ff00"/><stop offset="0.55" stop-color="#b0ff00"/><stop offset="0.6" stop-color="#baff00"/><stop offset="0.65" stop-color="#bfff00"/><stop offset="0.7" stop-color="#c0ff00"/><stop offset="0.75" stop-color="#bf0"/><stop offset="0.8" stop-color="#b1ff00"/><stop offset="0.85" stop-color="#a3ff00"/><stop offset="0.9" stop-color="#90ff00"/><stop offset="0.95" stop-color="#7f0"/><stop offset="1" stop-color="#5aff00"/></linearGradient>
<linearGradient id="cg32"><stop offset="0" stop-color="#00fffd"/><stop offset="0.05" stop-color="#00ffbe"/><stop offset="0.1" stop-color="#00ff83"/><stop offset="0.15" stop-color="#00ff4c"/><stop offset="0.2" stop-color="#00ff1b"/><stop offset="0.25" stop-color="#1f0"/><stop offset="0.3" stop-color="#38ff00"/><stop offset="0.35" stop-color="#5bff00"/><stop offset="0.4" stop-color="#79ff00"/><stop offset="0.45" stop-color="#91ff00"/><stop offset="0.5" stop-color="#a5ff00"/><stop offset="0.55" stop-color="#b4ff00"/><stop offset="0.6" stop-color="#beff00"/><stop offset="0.65" stop-color="#c3ff00"/><stop offset="0.7" stop-color="#c3ff00"/><stop offset="0.75" stop-color="#bfff00"/><stop offset="0.8" stop-color="#b5ff00"/><stop offset="0.85" stop-color="#a7ff00"/><stop offset="0.9" stop-color="#93ff00"/><stop offset="0.95" stop-color="#7bff00"/><stop offset="1" stop-color="#5eff00"/></linearGradient>
<linearGradient id="cg33"><stop offset="0" stop-color="#00fffa"/><stop offset="0.05" stop-color="#00ffba"/><stop offset="0.1" stop-color="#00ff7f"/><stop offset="0.15" stop-color="#00ff49"/><stop offset="0.2" stop-color="#00ff18"/><stop offset="0.25" stop-color="#15ff00"/><stop offset="0.3" stop-color="#3cff00"/><stop offset="0.35" stop-color="#5fff00"/><stop offset="0.4" stop-color="#7cff00"/><stop offset="0.45" stop-color="#95ff00"/><stop offset="0.5" stop-color="#a9ff00"/><stop offset="0.55" stop-color="#b8ff00"/><stop offset="0.6" stop-color="#c2ff00"/><stop offset="0.65" stop-color="#c7ff00"/><stop offset="0.7" stop-color="#c7ff00"/><stop offset="0.75" stop-color="#c2ff00"/><stop offset="0.8" stop-color="#b9ff00"/><stop offset="0.85" stop-color="#af0"/><stop offset="0.9" stop-color="#97ff00"/><stop offset="0.95" stop-color="#7fff00"/><stop offset="1" stop-color="#62ff00"/></linearGradient>
</defs>
<rect width="2007" height="2142" fill="#fff"/>
<g id="sa">
<path d="M191.9 479.6L464.4 355.7L902.5 417M186.8 405.5L464 289.5L906.8 347.3M181.6 331.3L463.5 223.4L911.2 277.5M176.5 257.1L463.1 157.2L915.5 207.8M171.4 182.9L462.6 91.1L919.9 138.1M171.4 182.9L198.2 571.4M919.9 138.1L897.1 503.2M244.2 160L260 448.7M805.6 126.4L793 401.7M317 137L328.2 417.7M691.2 114.6L683.5 386.3M389.8 114L396.3 386.7M576.9 102.8L573.9 371M462.6 91.1L465 437.5" fill="none" stroke="#1c1c1c" stroke-width="1.5" stroke-linejoin="round"/>
<path d="M671.6 667.4L198.2 571.4L465 437.5L897.1 503.2Z" fill="#ff0" stroke="#111" stroke-width="1.2" stroke-linejoin="round"/>
<path d="M447.1 621.6L570.1 638.1L687.9 654.6" fill="none" stroke="#3f9fb8" stroke-width="2.3"/>
<path d="M205.1 568.4L346.8 583.7L475.2 598.4L599.5 613.6L722.9 629.6" fill="none" stroke="#4dffa0" stroke-width="2.3"/>
<path d="M248.9 546.2L401.4 559.7L530.8 571.8L652.3 584L768.7 596.7" fill="none" stroke="#55ff00" stroke-width="2.3"/>
<path d="M309 515.6L373.1 518L435 519.6L484.8 520.2L529.3 519.9L561.9 518.7L584.4 516.9L595.5 515.4L604.8 513.6L611.9 511.4L615.5 509.8L619 507.1L620 505L620.1 503.9L619.5 501.6L617.9 499.2L615.3 496.5L609.3 492.3L594.3 484.4L573.6 475.7L542 464.2L504.4 451.9L460.8 438.6" fill="none" stroke="#a8ff00" stroke-width="2.3"/>
<path d="M198.2 571.4L671.6 667.4L897.1 503.2" fill="none" stroke="#000" stroke-width="1.9" stroke-linejoin="round"/>
<g fill="#000"><circle cx="671.6" cy="667.4" r="2.1"/><circle cx="671.6" cy="667.4" r="2.1"/><circle cx="553.2" cy="643.4" r="2.1"/><circle cx="728" cy="626.3" r="2.1"/><circle cx="434.9" cy="619.4" r="2.1"/><circle cx="784.4" cy="585.3" r="2.1"/><circle cx="316.5" cy="595.4" r="2.1"/><circle cx="840.7" cy="544.2" r="2.1"/><circle cx="198.2" cy="571.4" r="2.1"/><circle cx="897.1" cy="503.2" r="2.1"/><circle cx="191.9" cy="479.6" r="1.9"/><circle cx="186.8" cy="405.5" r="1.9"/><circle cx="181.6" cy="331.3" r="1.9"/><circle cx="176.5" cy="257.1" r="1.9"/><circle cx="171.4" cy="182.9" r="1.9"/></g>
<g fill-rule="evenodd"><path fill="#003aff" d="M437.6 142.7l-9.2-1.7-7-0.7-7.1-0.3-7.4 0.2-9.6 1.1-6.8 1.3-14.5 4.1-7.5 3-9.6 4.5-14.9 8.6-15.1 10.9-10 8.2-7.6 7-17.8 18.2-15.4 18-15.5 20.3-15.5 22.5-15.6 24.8-15.6 27.1-15.6 29.2-15.7 31.7 59.9 21.9 60.9 21.6 62.1 21.3 58.3 19.4 64.3 20.8 60.6 19 61.7 18.7 63 18.5 14.9-37 17.1-40 16.9-36.7 16.6-33.5 14-26 16-27.4 15.7-24.1 15.4-21 14.9-17.7 14.6-14.6 6.1-5.3 8.1-6.3 5.9-4 7.8-4.5 5.8-2.8 7.6-2.9 7.4-1.9 7.3-1 26.5 4-6.7-2.3-5.6-1.2-65-10.7-61.9-10.8-60.6-11.3-64-12.6-53.9-11.2-57.2-12.5-52.3-12z"/><path fill="#004cff" d="M437.1 142.6l-9.2-1.6-7.5-0.8-15 0.1-15.3 2.4-15.5 4.6-15.9 7-15.7 9.2-16 11.7-16.2 14.2-16.3 16.6-16.4 19.1-16.5 21.8-14.5 21-16.6 26.5-14.6 25.4-16.7 31.3-14.6 29.6 92.6 33.5 91.6 31.7 94.3 31.2 93.4 29.3 60.5 18.3 62 8 16.2-39.6 15.6-35.8 15.4-33.1 17.1-34 14.9-27.3 16.4-27.4 14.2-21.5 15.8-21 13.6-15.9 14.9-14.7 14.6-11.5 6.3-4.1 7.7-4.2 6.2-2.7 7.5-2.6 12.1-2.1 26.5 4-11.3-3.3-66-10.9-61.9-10.8-60.6-11.3-64-12.6-111.1-23.7z"/><path fill="#005eff" d="M437.1 142.6l-9.2-1.6-7.5-0.8-15 0.1-15.3 2.4-15.5 4.6-15.9 7-15.7 9.2-16 11.7-16.2 14.2-16.3 16.6-16.4 19.1-16.5 21.8-14.5 21-16.6 26.5-14.6 25.4-16.7 31.3-14.6 29.6 92.6 33.5 95.1 32.9 94.4 31.1 96.7 30.4 119.3 14.9 16.4-39.6 15.6-35.1 15.4-32.5 15.1-29.7 14.8-26.9 16.4-27 14.2-21.2 15.7-20.6 13.6-15.6 14.9-14.3 12.9-10.1 6.3-4.1 7.7-4.2 6.2-2.7 7.5-2.6 12.1-2.1 26.5 4-11.3-3.3-66-10.9-61.9-10.8-60.6-11.3-64-12.6-111.1-23.7z"/><path fill="#0071ff" d="M437.1 142.6l-9.2-1.6-7.5-0.8-15 0.1-15.3 2.4-15.5 4.6-15.9 7-15.7 9.2-16 11.7-16.2 14.2-16.3 16.6-16.4 19.1-16.5 21.8-14.5 21-16.6 26.5-14.6 25.4-16.7 31.3-14.6 29.6 82.6 30 81.1 28.3 83.1 27.8 82.4 26.4 172.6 21.1 16.7-39.4 15.5-34.5 15.3-31.7 15-29 14.8-26.3 14.5-23.5 14.2-20.9 15.6-20.2 13.5-15.2 14.9-14 12.8-9.8 6.3-3.9 7.8-4 12.1-4.6 12.1-2.1 26.5 4-11.3-3.3-66-10.9-61.9-10.8-60.6-11.3-64-12.6-111.1-23.7z"/><path fill="#0083ff" d="M437.1 142.6l-9.2-1.6-7.5-0.8-15 0.1-15.3 2.4-15.5 4.6-15.9 7-15.7 9.2-16 11.7-16.2 14.2-16.3 16.6-16.4 19.1-16.5 21.8-14.5 21-16.6 26.5-14.6 25.4-16.7 31.3-14.6 29.6 69.2 25.2 70.6 24.9 72.1 24.4 71 23.3 119.6 13.9 103.1 12.6 14.8-34.6 15.5-34.1 15.2-31.4 15.1-28.7 14.7-25.9 14.5-23.2 14.1-20.5 15.6-19.9 13.5-14.8 13.2-12.3 12.8-9.8 6.3-3.9 7.8-4 12.1-4.6 12.1-2.1 26.5 4-11.3-3.3-66-10.9-61.9-10.8-60.6-11.3-64-12.6-111.1-23.7z"/><path fill="#0096ff" d="M437.1 142.6l-9.2-1.6-7.5-0.8-15 0.1-15.3 2.4-15.5 4.6-15.9 7-15.7 9.2-16 11.7-16.2 14.2-16.3 16.6-16.4 19.1-16.5 21.8-14.5 21-16.6 26.5-14.6 25.4-16.7 31.3-14.6 29.6 59.3 21.6 60.2 21.4 119.9 40.6 143.4 16.3 126.7 15.2 14.8-34.2 15.4-33.4 15.2-30.7 15-28 14.6-25.2 14.4-22.6 14.1-19.8 13.8-17.2 13.5-14.5 13.1-12 12.8-9.4 6.3-3.8 7.7-3.8 12.1-4.2 10.6-1.8 26.5 4-11.3-3.3-66-10.9-61.9-10.8-60.6-11.3-64-12.6-111.1-23.7z"/><path fill="#00a8ff" d="M437.1 142.6l-9.2-1.6-7.5-0.8-15 0.1-15.3 2.4-15.5 4.6-15.9 7-15.7 9.2-16 11.7-16.2 14.2-16.3 16.6-16.4 19.1-16.5 21.8-14.5 21-16.6 26.5-14.6 25.4-16.7 31.3-14.6 29.6 99.3 35.9 99 34.1 161.1 17.7 154.1 18.1 14.7-33.5 15.3-32.8 13.3-26.4 14.9-27.6 14.6-24.9 14.4-22.2 14.1-19.5 13.7-16.8 13.4-14.3 13.1-11.6 12.8-9.1 12.4-6.6 12.1-4.2 10.6-1.8 26.5 4-11.3-3.3-66-10.9-61.9-10.8-60.6-11.3-64-12.6-111.1-23.7z"/><path fill="#00baff" d="M437.1 142.6l-9.2-1.6-7.5-0.8-15 0.1-15.3 2.4-15.5 4.6-15.9 7-15.7 9.2-16 11.7-16.2 14.2-16.3 16.6-16.4 19.1-16.5 21.8-14.5 21-16.6 26.5-14.6 25.4-16.7 31.3-14.6 29.6 79.2 28.8 80.1 28 180.7 19.2 177.5 20.4 14.5-32.5 15.4-32.1 13.2-25.9 14.8-26.9 12.8-21.3 14.3-21.9 14-19.1 13.7-16.6 13.4-13.8 13.1-11.4 12.7-8.8 12.3-6.3 10.6-3.5 10.6-1.8 26.5 4-11.3-3.3-66-10.9-61.9-10.8-60.6-11.3-64-12.6-111.1-23.7z"/><path fill="#00cdff" d="M437.1 142.6l-9.2-1.6-7.5-0.8-15 0.1-15.3 2.4-15.5 4.6-15.9 7-15.7 9.2-16 11.7-16.2 14.2-16.3 16.6-16.4 19.1-16.5 21.8-14.5 21-16.6 26.5-14.6 25.4-16.7 31.3-14.6 29.6 59.3 21.6 62.9 22.3 198.6 20.5 200.8 22.7 14.3-31.5 13.4-27.6 13.1-25.6 14.8-26.6 12.8-21 14.2-21.5 14-18.9 13.7-16.1 11.7-12 13.1-11.4 12.7-8.8 12.3-6.3 10.6-3.5 10.6-1.8 26.5 4-11.3-3.3-66-10.9-61.9-10.8-60.6-11.3-64-12.6-111.1-23.7z"/><path fill="#00dfff" d="M437.1 142.6l-9.2-1.6-7.5-0.8-15 0.1-15.3 2.4-15.5 4.6-15.9 7-15.7 9.2-16 11.7-16.2 14.2-16.3 16.6-16.4 19.1-16.5 21.8-14.5 21-16.6 26.5-14.6 25.4-16.7 31.3-14.6 29.6 86.7 31.4 230.5 23.2 208.6 23.1 13.9-30.2 13.3-27.1 13.2-24.9 14.7-25.9 12.7-20.4 14.2-20.9 12.2-16 13.6-15.9 11.6-11.7 13.1-11 12.6-8.5 12.4-6 10.5-3.3 9.1-1.4 26.5 4-11.3-3.3-66-10.9-61.9-10.8-60.6-11.3-64-12.6-111.1-23.7z"/><path fill="#00f2ff" d="M437.1 142.6l-9.2-1.6-7.5-0.8-15 0.1-15.3 2.4-15.5 4.6-15.9 7-15.7 9.2-16 11.7-16.2 14.2-16.3 16.6-16.4 19.1-16.5 21.8-14.5 21-16.6 26.5-14.6 25.4-16.7 31.3-14.6 29.6 52.7 19.3 131 12.4 114.6 11.5 124.5 13.1 107.2 11.9 13.5-28.7 13.3-26.4 13.1-24.3 14.6-25.2 12.6-19.9 12.4-17.8 12.2-15.7 13.6-15.6 11.6-11.4 13-10.7 12.6-8.2 12.3-5.7 9-2.7 9.1-1.4 26.5 4-11.3-3.3-66-10.9-61.9-10.8-60.6-11.3-64-12.6-111.1-23.7z"/><path fill="#00fffa" d="M437.1 142.6l-9.2-1.6-7.5-0.8-15 0.1-15.3 2.4-15.5 4.6-15.9 7-15.7 9.2-16 11.7-16.2 14.2-16.3 16.6-16.4 19.1-16.5 21.8-14.5 21-16.6 26.5-14.6 25.4-16.7 31.3-14.6 29.6 20.1 7.4 126.3 11.6 133.1 12.8 124.1 12.7 130.8 14.3 14.9-30.8 13.1-25.6 13-23.4 12.8-21.3 12.5-19.3 12.3-17.2 12.1-15.2 13.5-14.8 11.6-10.9 12.9-10.1 11-6.7 12.2-5.4 8.9-2.5 7.7-1.1 26.5 4-11.3-3.3-66-10.9-61.9-10.8-60.6-11.3-64-12.6-111.1-23.7z"/><path fill="#00ffe8" d="M437.1 142.6l-9.2-1.6-7.5-0.8-15 0.1-15.3 2.4-15.5 4.6-15.9 7-15.7 9.2-14.1 10.2-16.1 13.7-16.2 16.4-16.4 18.8-16.5 21.4-14.5 20.8-16.6 26.2-14.6 25-16.7 31-15.2 30.6 145.4 12.9 129.2 12.2 139.8 14.1 123 13.1 12.2-25 13.2-25.2 12.9-23.2 12.8-21 12.5-19 12.3-16.9 12-14.9 13.5-14.5 11.5-10.6 11.3-8.7 11-6.7 12.2-5.4 8.9-2.5 7.7-1.1 26.5 4-11.3-3.3-66-10.9-61.9-10.8-60.6-11.3-64-12.6-111.1-23.7z"/><path fill="#00ffd5" d="M437.1 142.6l-14.8-2.3-15.4-0.1-14.9 2-15.5 4.4-15.7 6.6-15.8 9-16 11.4-14.1 12-16.3 16-14.3 16.1-16.5 20.7-14.5 20.3-16.5 25.4-14.6 24.6-16.7 30.3-15.3 30.1 145.6 12.6 129.4 12 135.9 13.3 127 13.4 11.4-22.9 13.1-24.7 12.9-22.5 12.7-20.4 12.4-18.4 12.2-16.4 12-14.3 11.7-12.3 11.5-10.3 11.2-8.4 11-6.4 12.2-5.1 7.4-2 7.7-1.1 26.5 4-11.3-3.3-66-10.9-61.9-10.8-60.6-11.3-64-12.6-111.1-23.7z"/><path fill="#00ffc3" d="M437.1 142.6l-14.8-2.3-15-0.1-15.3 2-13.8 3.8-15.4 6.2-15.8 8.7-16 11.1-14.1 11.8-16.3 15.7-14.3 15.8-16.4 20.4-14.5 19.9-16.6 25.3-14.6 24.1-14.5 26.2-15.2 29.3 142 12.1 144.9 13.1 120.5 11.6 130.9 13.4 12.4-24.1 13-23.7 10.9-18.6 12.6-19.9 10.7-15.4 12.2-16 11.9-14 11.7-12 11.4-10.1 11.2-8.1 10.9-6.2 10.7-4.3 7.4-2 7.7-1.1 26.5 4-11.3-3.3-66-10.9-61.9-10.8-60.6-11.3-64-12.6-111.1-23.7z"/><path fill="#00ffb0" d="M437.1 142.6l-14.8-2.3-15-0.1-15.3 2-13.8 3.8-15.4 6.2-14 7.6-15.8 10.7-14.2 11.6-16.1 15.3-14.3 15.4-14.4 17.5-14.5 19.4-16.5 24.6-14.6 23.6-14.6 25.6-15 28.4 138.5 11.5 141.1 12.4 136.2 12.9 123.1 12.4 11.2-21.4 12.9-23.2 11-18.1 12.5-19.3 10.6-14.9 12.1-15.4 11.9-13.5 11.6-11.4 9.8-8.3 11.1-7.8 10.9-5.9 10.6-4.1 7.4-1.8 6.2-0.8 26.5 4-11.3-3.3-66-10.9-61.9-10.8-60.6-11.3-64-12.6-111.1-23.7z"/><path fill="#00ff9e" d="M437.1 142.6l-14.8-2.3-13.2-0.2-15.2 1.8-13.5 3.4-15.6 6-13.9 7.2-15.9 10.5-14.1 11.2-16.2 15.1-14.3 15.2-14.3 17.2-14.5 19.2-14.5 21.1-14.5 23-14.6 25-14.8 27.3 153.9 12.5 137.7 11.9 132.6 12.2 115.3 11.4 11.8-21.8 11-19.2 10.9-17.6 12.4-18.7 10.6-14.4 12-14.9 10.1-11.1 11.6-11.2 9.8-8 11.1-7.6 10.8-5.6 10.6-3.9 12.1-2.1 26.5 4-11.3-3.3-66-10.9-61.9-10.8-60.6-11.3-64-12.6-111.1-23.7z"/><path fill="#00ff8c" d="M437.1 142.6l-14.8-2.3-13.2-0.2-15.2 1.8-13.5 3.4-15.6 6-13.9 7.2-13.9 9.1-14.1 10.9-14.2 12.9-14.2 14.6-14.3 16.6-14.5 18.6-14.4 20.5-14.6 22.6-14.5 24.4-14.4 26 146.5 11.5 137.8 11.6 128.6 11.5 127.2 12.2 12.1-21.8 10.9-18.4 10.8-16.9 10.7-15.4 10.4-13.9 10.3-12.3 10.1-10.9 11.6-10.9 9.7-7.8 11-7.3 9.3-4.7 10.6-3.9 12.1-2.1 26.5 4-11.3-3.3-66-10.9-61.9-10.8-60.6-11.3-64-12.6-111.1-23.7z"/><path fill="#00ff79" d="M437.1 142.6l-14.8-2.3-13.2-0.2-13.3 1.4-13.5 3.2-13.8 5-15.6 7.7-14 8.9-13.9 10.5-14.2 12.6-14.2 14.4-14.4 16.3-14.4 18.3-14.5 20.3-12.4 18.9-14.5 23.8-14 24.6 154.4 11.9 134.3 10.9 128.9 11.3 123.3 11.5 10.4-18.2 10.9-17.9 10.7-16.4 10.6-14.9 10.4-13.3 10.2-11.9 10-10.5 11.5-10.3 9.7-7.3 9.4-5.9 9.2-4.5 10.6-3.5 10.6-1.8 26.5 4-11.3-3.3-66-10.9-61.9-10.8-60.6-11.3-64-12.6-111.1-23.7z"/><path fill="#00ff67" d="M437.1 142.6l-12.9-2.1-13.2-0.5-13.7 1.3-13 2.8-13.7 4.7-13.7 6.4-13.9 8.3-14.1 10.2-14 11.9-14.3 13.9-12.3 13.5-14.3 17.3-14.5 19.4-14.5 21.4-14.5 23.3-13.3 22.9 147.1 10.9 146 11.6 129.2 10.9 119.4 10.9 10.2-17.3 10.9-17.2 10.6-15.6 10.5-14.1 10.3-12.7 10.1-11.1 10-9.7 9.8-8.3 9.5-6.8 9.4-5.4 9.2-4.1 9-2.7 9.1-1.4 26.5 4-11.3-3.3-66-10.9-61.9-10.8-60.6-11.3-64-12.6-111.1-23.7z"/><path fill="#00ff54" d="M437.1 142.6l-12.9-2.1-13.2-0.5-13.7 1.3-13 2.8-13.7 4.7-13.7 6.4-13.9 8.3-12 8.5-14.1 11.8-14.2 13.6-14.3 15.4-12.3 14.9-14.5 19.2-12.4 17.9-12.5 19.5-14.5 24.3 155 11.1 142.6 10.9 125.4 10.3 119.6 10.6 9.8-16 10.7-16.4 8.8-12.5 10.5-13.6 8.5-10.2 10.1-10.9 9.9-9.5 9.8-8 9.5-6.6 9.3-5.2 9.2-3.8 8.9-2.5 7.7-1.1 26.5 4-11.3-3.3-66-10.9-61.9-10.8-60.6-11.3-64-12.6-111.1-23.7z"/><path fill="#00ff42" d="M437.1 142.6l-12.9-2.1-13.2-0.5-13.3 1.2-11.5 2.4-13.6 4.4-13.7 6.2-13.9 8-12 8.3-14.1 11.4-12.2 11.4-14.2 15-12.3 14.3-12.5 15.9-14.4 20.2-12.4 18.9-13.6 22.2 159.2 11.1 139.1 10.2 121.7 9.6 123.7 10.6 19.6-29.8 8.8-11.9 10.3-12.9 8.5-9.6 10-10.1 8.2-7.4 9.7-7.6 7.9-5.2 9.3-4.9 9.1-3.6 8.9-2.3 6.2-0.8 26.5 4-11.3-3.3-66-10.9-61.9-10.8-60.6-11.3-64-12.6-111.1-23.7z"/><path fill="#00ff30" d="M437.1 142.6l-12.9-2.1-13.2-0.5-13.3 1.2-11.5 2.4-13.6 4.4-11.8 5.2-12 6.6-13.8 9.2-14.1 11.2-12.1 11.1-12.2 12.5-12.3 13.9-14.4 18-12.4 16.9-12.5 18.5-12.5 19.9 163.6 10.9 135.6 9.6 133.9 10.2 111.9 9.1 18.4-26.6 8.7-11.2 10.2-12.2 8.4-8.9 8.3-8 8.1-7 9.6-7.1 7.9-4.8 9.2-4.5 7.6-2.7 8.9-2.1 4.7-0.5 26.5 4-11.3-3.3-66-10.9-61.9-10.8-60.6-11.3-64-12.6-111.1-23.7z"/><path fill="#00ff1d" d="M437.1 142.6l-11.4-1.9-12.8-0.7-13.3 0.9-11.5 2.2-13.5 4.2-11.8 4.9-11.9 6.3-12 7.8-13.9 10.5-12.2 10.6-12.2 12.1-12.2 13.3-12.3 14.9-12.4 16.3-12.4 17.7-13.3 20.5 296.1 19.3 126.3 9.1 124.1 9.6 18.3-25.1 17.1-19.8 8.3-8.3 8.2-7.4 8.1-6.4 7.9-5.4 7.8-4.4 7.7-3.5 7.5-2.6 8.8-1.8 3.3-0.3 26.5 4-11.3-3.3-66-10.9-61.9-10.8-60.6-11.3-64-12.6-111.1-23.7z"/><path fill="#00ff0b" d="M437.1 142.6l-11.4-1.9-12.8-0.7-11.3 0.7-11.5 2-11.9 3.3-13.4 5.3-11.9 6.1-11.9 7.4-12.1 8.9-12 10.1-12.2 11.5-12.2 13-12.3 14.3-12.4 15.8-12.4 17.2-11.8 17.7 305.2 18.8 122.8 8.4 120.5 8.9 15.9-20.6 16.9-18.6 14.7-13.3 8.1-6 7.8-5 7.8-4 7.6-3.1 7.5-2.2 7.3-1.3 1.8-0.1 26.5 4-11.3-3.3-66-10.9-61.9-10.8-60.6-11.3-64-12.6-111.1-23.7z"/><path fill="#08ff00" d="M437.1 142.6l-11.4-1.9-10.9-0.7-11.3 0.5-11.5 1.7-11.6 3.1-11.9 4.4-11.6 5.5-11.9 7-12 8.3-12.1 9.7-12.2 11.2-12.1 12.4-12.3 13.9-10.3 12.6-12.4 16.6-12.1 17.4 310.4 18 240.6 15.8 14.3-17.3 15-15.4 14.7-12.2 14.2-9 6.1-3 7.6-2.9 6-1.7 7.3-1.3 1.9-0.1 25.3 3.6-10.2-2.9-66-10.9-61.9-10.8-60.6-11.3-59.5-11.7-111.3-23.6-52.3-12z"/><path fill="#1aff00" d="M437.1 142.6l-11.4-1.9-10.9-0.7-11.3 0.5-11.5 1.7-11.6 3.1-11.7 4.3-10 4.7-11.7 6.6-12 8.1-12.1 9.5-12.1 10.9-10.2 10.1-12.2 13.3-10.3 12.3-10.4 13.4-12 16.7 324 17.5 230.4 13.6 13.1-14.4 11.6-10.9 12.9-10.1 12.5-7.5 10.7-4.6 11.9-3.1 11.5-0.7 11 1.6-130.5-22.4-115.6-22-58.4-12.1-57.4-12.5-52.3-12z"/><path fill="#2cff00" d="M437.1 142.6l-11-1.9-9.8-0.7-10.9 0.3-11.5 1.6-11.6 2.8-9.7 3.3-11.8 5.2-9.9 5.3-11.9 7.7-10.1 7.5-12 10.1-10.2 9.5-12.2 12.7-10.2 11.7-10.3 12.6-11.8 15.8 559.4 27.5 9.9-9.7 9.8-8.3 9.5-6.8 9.4-5.4 9.2-4.1 9-2.7 8.7-1.4 8.8-0.1-131.6-22.8-110.3-21.2-110.9-23.6-52-11.9z"/><path fill="#3fff00" d="M437.1 142.6l-11-1.9-9.8-0.7-9.4 0.2-11.1 1.3-11.5 2.6-9.7 3.2-11.8 4.9-9.9 5.2-11.9 7.4-10 7.2-10.1 8.2-10.1 9.2-10.2 10.1-10.2 11-10.2 12.1-11.2 14.3 214.6 9.4 158 6.3 115.4 4 80.7 1.9 11.5-8.7 11-6.4 10.7-4.6 10.9-2.9-60.4-12.6-131-25-76.8-15.5-92.2-20.1z"/><path fill="#51ff00" d="M437.1 142.6l-11-1.9-9.4-0.7-9.8 0.2-9.6 1.1-11.1 2.3-9.7 3-9.8 3.8-9.8 4.8-9.9 5.7-10 6.7-10 7.6-10.1 8.6-10.2 9.5-10.1 10.5-10.3 11.5-10.1 12.2 251.1 9.3 95.5 2.6 67.3 1.2 57.3 0 37.4-1.5 13.2-1.4 6.5-1.1 5.8-2.3 1.2-1.8-1.2-2.1-2.1-1.6-10.8-4.7-16.5-5.1-23.8-6.1-46.3-10.3-90.1-18.3-61.3-13.1-60.6-13.8z"/><path fill="#64ff00" d="M437.1 142.6l-9.2-1.6-9.3-0.9-9.5 0-9.5 0.8-9.5 1.8-9.7 2.6-9.8 3.5-9.8 4.4-9.9 5.3-9.9 6.3-18.1 13.7-10.1 8.9-10.1 10-18.7 20.6 203.7 6.1 67.3 1.3 60.3 0.4 43.9-0.6 34-1.8 12.5-1.4 9-1.8 5.4-2.2 1.3-1.8-0.4-2-1.2-1.3-3-2-5-2.4-15.2-5.4-21.6-6.1-42.3-10.1-112.7-24.6z"/><path fill="#76ff00" d="M437.1 142.6l-9.2-1.6-9.3-0.9-9.5 0-7.5 0.6-9.6 1.5-9.7 2.5-9.7 3.3-7.8 3.3-9.9 5-7.9 4.6-10 6.7-8.1 6.1-18.1 15.7-18.4 18.9 157.8 3.6 60.8 0.5 53-0.4 37.2-1.4 27.4-2.4 9.5-1.7 4.5-1.4 4.2-2.3 0.9-1.8-0.7-2-1.3-1.3-7-4.2-13.4-5.1-18.9-5.7-32.5-8.2-74.6-16.9z"/><path fill="#8f0" d="M354.9 156.3l-13.9 8.5-12.1 8.9-14 11.9-13.2 12.8 69.4 1.2 59.9 0.4 46.1-0.2 39.7-1 31.9-1.9 19.4-2.4 8.1-1.8 3.9-1.4 3.4-2.4 0.7-1.8-1.7-2.9-6.8-4.3-12-4.9-15.4-4.9-35.1-9.3-77.9-18.6-7.4-1.2-9.3-0.9-9.5 0-9.5 0.8-7.6 1.3-9.7 2.5-9.7 3.3-9.8 4.2z"/><path fill="#9bff00" d="M378.5 145.9l-9.8 3.7-7.9 3.6-15.8 9-16.1 11.5-16.7 14.4 90.8 0.1 40.8-0.8 29-1.3 23.6-1.9 17.4-2.5 7.2-1.9 3.4-1.4 2.3-1.6 1.1-1.7-0.7-2.8-3.4-3-8.2-4.2-10-3.9-28.8-8.7-43.2-10.6-13.1-1.7-13.5 0-14.9 2z"/><path fill="#adff00" d="M366.7 150.4l-11.8 5.9-9.9 5.9-10 6.8-10.5 8.2 63.4-1.1 28.8-1.2 19.4-1.4 19.5-2.3 11.2-2.3 7.2-2.8 1.9-1.5 1-1.7-0.4-2.1-2.2-2.6-3.9-2.6-5.5-2.7-8.7-3.5-12.8-4.3-13-3.8-4.7-0.6-14.7-0.7-15.2 1.5-15.4 3.8z"/><path fill="#c0ff00" d="M405.4 140.3l-8.1 1-9.2 1.8-15.5 4.9-15.7 7.2-16.4 10 38.9-2 24.7-2.6 12.2-2.1 6.7-1.9 4.6-2.1 2.3-2.4 0.3-1.7-1.5-2.8-3.7-2.9-5.9-3.1-3.6-1.6z"/></g>
<g fill="#000" fill-rule="evenodd"><path fill-opacity="0.1" d="M737.6 401.1l24.4-44.8-104.7-14.8-69.7-8.1-14.4-2-86.9-6.1-88.3-7.2-90.3-8.3-81.2-8.6-21 37.8-20.9 41.7 59.3 21.6 60.2 21.4 120.3 40.8 63.6 20.5 61.2 19.2 126.2 37.7 19.8-48.8 21.4-48.5z"/><path fill-opacity="0.1" d="M257.5 252.7l-14.5 21.6-16.6 27 81.3 8.6 90.3 8.4 88.3 7.2 86.8 6 14.5 2.1 69.7 8 104.6 14.8 14.5-23.7 15.1-22.5-70.3-8.6-65.1-8.7-64.1-9.3-62.9-9.8-62-10.3-64.5-11.6-63.5-12.1-62.5-12.8z"/><path fill-opacity="0.2" d="M276.5 227.2l83.6 16.9 60.2 11.3 57.6 10.1 62.2 10.3 63.1 9.7 60.5 8.6 61.4 8.1 66.3 8.1 13.2-17.3 12.1-14.2-69.3-9.4-64.1-9.4-63-10-62-10.5-60.9-11-63.5-12.2-62.5-12.8-61.4-13.3-17.5 18.1z"/><path fill-opacity="0.3" d="M459.6 221.5l87.9 16.3 87.5 14.8 89.7 13.7 91.8 12.6 11.7-11.9 9.9-8.9-64.4-9.4-63.1-9.9-62.1-10.4-64.6-11.6-59.9-11.4-62.5-12.7-61.4-13.2-60.4-13.8-14.7 11.1-15.2 13.5 71.9 15.6z"/><path fill-opacity="0.4" d="M516.6 204.1l78 14.8 79.3 14 81.1 13.1 82.9 12.3 10.4-7.8-62.8-10.4-61.5-10.7-63.9-12-59.3-11.7-61.7-12.9-57.3-12.7-82.6-19.3-35.7-8.9-12.6 6.6-11.4 7.4 87.7 19.7z"/><path fill-opacity="0.5" d="M530.2 191l112.3 23.2 113.9 21.1 91.7 15.3 4.7-3.1-62.6-10.3-61.2-10.8-63.7-11.9-59.1-11.8-61.4-12.8-57.1-12.7-59.4-13.8-58.5-14.3-6.5 2.9 91.8 22.2z"/><path fill-opacity="0.6" d="M656.4 212.9l97.6 18.1 98.6 16.7 4.3-2.6-98.3-16.7-63.8-11.7-76.4-15.1-68.1-14.3-69.9-15.6-104.1-25.1-6.7 2.6 71.7 17.5 69.7 15.9 74.6 16.1z"/><path fill-opacity="0.6" d="M453.1 165.4l104 23.5 64.7 13.6 66 13 78 14.3 72.5 12.4 18.4 3 2.6-1.3-112.3-19.4-108.5-20.7-64.7-13.4-66.9-14.7-62.3-14.5-64.4-15.9-4.1 1.4z"/><path fill-opacity="0.7" d="M694.6 214.9l70.2 13 72.2 12.5 22 3.6 2.5-1.3-112.1-19.3-111.6-21.4-64.6-13.4-63.3-14-65.5-15.2-61-15-3.5 1 77.7 19 79.2 18.1 77.7 16.6z"/><path fill-opacity="0.8" d="M580.6 190.3l84.7 17.4 87.6 16.5 108.3 18.6 2.6-1.2-111.9-19.2-111.4-21.4-64.4-13.4-63.2-13.9-62.1-14.5-64.1-15.7-3.6 1 97.1 23.5z"/><path fill-opacity="0.9" d="M451.2 159.5l111.4 25.4 112.3 23.1 69.9 13.2 71.4 12.7 47.3 7.8 2.6-1.1-111.6-19.2-111.2-21.4-64.3-13.3-63-13.9-61.9-14.4-64-15.7-3.7 0.9z"/><path fill-opacity="1" d="M439 143.1l-12.9-2.4-11.3-0.7-13.2 0.7-11.9 2 87 21.2 86.8 19.6 86.6 18.1 90.2 17.3 64 11.5 61.5 10.3 11.1-3.7 10.6-1.8 26.5 4-11.3-3.3-66-10.9-61.9-10.8-60.6-11.3-64-12.6-111.1-23.7z"/></g>
<path d="M437.6 142.7l-9.2-1.7-7-0.7-7.1-0.3-7.4 0.2-9.6 1.1-6.8 1.3-14.5 4.1-7.5 3-9.6 4.5-14.9 8.6-15.1 10.9-10 8.2-7.6 7-17.8 18.2-15.4 18-15.5 20.3-15.5 22.5-15.6 24.8-15.6 27.1-15.6 29.2-15.7 31.7 59.9 21.9 60.9 21.6 62.1 21.3 58.3 19.4 64.3 20.8 60.6 19 61.7 18.7 63 18.5 14.9-37 17.1-40 16.9-36.7 16.6-33.5 14-26 16-27.4 15.7-24.1 15.4-21 14.9-17.7 14.6-14.6 6.1-5.3 8.1-6.3 5.9-4 7.8-4.5 5.8-2.8 7.6-2.9 7.4-1.9 7.3-1 26.5 4-6.7-2.3-5.6-1.2-65-10.7-61.9-10.8-60.6-11.3-64-12.6-53.9-11.2-57.2-12.5-52.3-12z" fill="url(#pt)" fill-rule="evenodd" stroke="#000" stroke-width="1.7" stroke-linejoin="round"/>
<path d="M171.4 182.9L198.2 571.4" stroke="#111" stroke-width="1.7" fill="none"/>
<text transform="translate(116.9 179.3) scale(1.258 1)" font-size="18.2" fill="#1c1c1c" stroke="#1c1c1c" stroke-width="0.5" stroke-linejoin="round">250</text>
<text transform="translate(122.4 252.6) scale(1.327 1)" font-size="18.2" fill="#1c1c1c" stroke="#1c1c1c" stroke-width="0.5" stroke-linejoin="round">188</text>
<text transform="translate(127.8 326.4) scale(1.282 1)" font-size="18.2" fill="#1c1c1c" stroke="#1c1c1c" stroke-width="0.5" stroke-linejoin="round">125</text>
<text transform="translate(143.6 400.8) scale(1.338 1)" font-size="18.2" fill="#1c1c1c" stroke="#1c1c1c" stroke-width="0.5" stroke-linejoin="round">63</text>
<text transform="translate(160.9 475.1) scale(1.213 1)" font-size="18.2" fill="#1c1c1c" stroke="#1c1c1c" stroke-width="0.5" stroke-linejoin="round">0</text>
<text transform="translate(156 590.6) scale(1.319 1)" font-size="18.2" fill="#1c1c1c" stroke="#1c1c1c" stroke-width="0.5" stroke-linejoin="round">50</text>
<text transform="translate(277.3 614.4) scale(1.086 1)" font-size="18.2" fill="#1c1c1c" stroke="#1c1c1c" stroke-width="0.5" stroke-linejoin="round">44</text>
<text transform="translate(393.5 637.5) scale(1.331 1)" font-size="18.2" fill="#1c1c1c" stroke="#1c1c1c" stroke-width="0.5" stroke-linejoin="round">39</text>
<text transform="translate(511.6 661.6) scale(1.325 1)" font-size="18.2" fill="#1c1c1c" stroke="#1c1c1c" stroke-width="0.5" stroke-linejoin="round">33</text>
<text transform="translate(630.5 685.5) scale(1.419 1)" font-size="18.2" fill="#1c1c1c" stroke="#1c1c1c" stroke-width="0.5" stroke-linejoin="round">27</text>
<text transform="translate(687.1 685.5) scale(1.169 1)" font-size="18.2" fill="#1c1c1c" stroke="#1c1c1c" stroke-width="0.5" stroke-linejoin="round">0</text>
<text transform="translate(744 646.1) scale(1.300 1)" font-size="18.2" fill="#1c1c1c" stroke="#1c1c1c" stroke-width="0.5" stroke-linejoin="round">45</text>
<text transform="translate(799.7 604.5) scale(1.325 1)" font-size="18.2" fill="#1c1c1c" stroke="#1c1c1c" stroke-width="0.5" stroke-linejoin="round">90</text>
<text transform="translate(855.3 563.7) scale(1.310 1)" font-size="18.2" fill="#1c1c1c" stroke="#1c1c1c" stroke-width="0.5" stroke-linejoin="round">135</text>
<text transform="translate(911.7 522.1) scale(1.306 1)" font-size="18.2" fill="#1c1c1c" stroke="#1c1c1c" stroke-width="0.5" stroke-linejoin="round">180</text>
<text transform="translate(108.5 415.9) rotate(-90) scale(0.773 1)" font-size="34.1" fill="#1c1c1c" stroke="#1c1c1c" stroke-width="0.5" stroke-linejoin="round">qe (mg/g)</text>
<text transform="translate(180.4 663.9) scale(1.305 1)" font-size="28.1" fill="#1c1c1c" stroke="#1c1c1c" stroke-width="0.5" stroke-linejoin="round">Temperature (° C)</text>
<text transform="translate(781.3 631.7) scale(1.274 1)" font-size="28.1" fill="#1c1c1c" stroke="#1c1c1c" stroke-width="0.5" stroke-linejoin="round">Time (minute)</text>
<text transform="translate(157.5 73.9) scale(1.498 1)" font-size="16.6" fill="#3a3436" stroke="#3a3436" stroke-width="0.6" stroke-linejoin="round">qe (mg/g)</text>
<rect x="163.8" y="85.4" width="15.4" height="53" fill="url(#lg)" stroke="#050508" stroke-width="2"/>
<text transform="translate(185.6 95.9) scale(1.233 1)" font-size="18.9" fill="#ff3040" stroke="#ff3040" stroke-width="0.8" stroke-linejoin="round">320</text>
<text transform="translate(187.6 138) scale(1.272 1)" font-size="17.7" fill="#5a30f0" stroke="#5a30f0" stroke-width="0.8" stroke-linejoin="round">10</text>
<path d="M379.4 90.6L382 143.5" stroke="#111" stroke-width="1.5" fill="none"/>
<rect x="340.4" y="69.8" width="38.8" height="20" fill="#fff" stroke="#000" stroke-width="1.5"/><text transform="translate(343.5 85.1) scale(1.220 1)" font-size="16" fill="#1c1c1c" stroke="#1c1c1c" stroke-width="0.5" stroke-linejoin="round">226</text>
</g>
<g id="sb">
<path d="M178.6 1146L591.7 1077.8L917.7 1176.2M174.9 1072L593.1 1010.1L921.8 1099.6M171.2 998L594.5 942.4L925.9 1022.9M167.4 924L595.9 874.7L930 946.3M163.7 850L597.3 807L934.1 869.6M163.7 850L183.3 1239.1M934.1 869.6L912.6 1272.6M272.1 839.2L281.9 1129M849.9 854L836.2 1151.6M380.5 828.5L385.2 1111.9M765.7 838.3L754.7 1127M488.9 817.8L488.5 1094.9M681.5 822.6L673.2 1102.4M597.3 807L590 1163" fill="none" stroke="#1c1c1c" stroke-width="1.5" stroke-linejoin="round"/>
<path d="M473.7 1374.6L183.3 1239.1L590 1163L912.6 1272.6Z" fill="#ff0" stroke="#111" stroke-width="1.2" stroke-linejoin="round"/>
<path d="M876.3 1281.1L879.1 1277.4L881.8 1272.6L883.8 1267.6L884.8 1263.7" fill="none" stroke="#3f9fb8" stroke-width="2.3"/>
<path d="M263.2 1276.7L322.4 1288.7L378.3 1298.8L432.3 1307.3L486.9 1314.6L538.6 1320.2L586.7 1324L635.9 1326.4L678.8 1326.9" fill="none" stroke="#3f9fb8" stroke-width="2.3"/>
<path d="M194 1237L247.2 1248.8L304.5 1260.1L357.7 1269.3L413.3 1277.4L464.8 1283.5L517.3 1288L565.1 1290.5L608.4 1291.1L647.1 1289.8L664.8 1288.6L684.5 1286.5L699.7 1284.4L713.8 1281.9L726.7 1279L740.7 1275L753.1 1270.5L762.1 1266.3L770.7 1261.4L777.8 1256L783.1 1250.7L787.6 1244.3L790.3 1238L791.6 1231.7" fill="none" stroke="#4dffa0" stroke-width="2.3"/>
<path d="M258.3 1225L302.8 1232.9L348.2 1239.9L390.3 1245.3L431.8 1249.5L471 1252.3L506.5 1253.6L538.9 1253.7L571.7 1252.4L597.5 1250.1L623.1 1246.2L633.2 1244L644.7 1240.9L654.6 1237.6L662.5 1234.4L669.1 1231.1L676.2 1226.7L682.1 1221.9L685.9 1217.8L688.9 1213.4L691.2 1208.1L692.4 1202.7L692.5 1197.5" fill="none" stroke="#55ff00" stroke-width="2.3"/>
<path d="M347.7 1208.3L372.4 1210.6L400.1 1212.5L425.7 1213.6L449.4 1213.9L471.1 1213.4L491 1212.2L508.9 1210.4L525.1 1207.8L539.3 1204.7L553.5 1200.2L563.7 1195.7L571.8 1190.5L578 1184.8L580.2 1181.6L582 1178.4L583.2 1174.9L583.8 1171.3L583.8 1167.6L583.4 1164.3" fill="none" stroke="#a8ff00" stroke-width="2.3"/>
<path d="M183.3 1239.1L473.7 1374.6L912.6 1272.6" fill="none" stroke="#000" stroke-width="1.9" stroke-linejoin="round"/>
<g fill="#000"><circle cx="473.7" cy="1374.6" r="2.1"/><circle cx="473.7" cy="1374.6" r="2.1"/><circle cx="401.1" cy="1340.7" r="2.1"/><circle cx="583.4" cy="1349.1" r="2.1"/><circle cx="328.5" cy="1306.8" r="2.1"/><circle cx="693.1" cy="1323.6" r="2.1"/><circle cx="255.9" cy="1273" r="2.1"/><circle cx="802.9" cy="1298.1" r="2.1"/><circle cx="183.3" cy="1239.1" r="2.1"/><circle cx="912.6" cy="1272.6" r="2.1"/><circle cx="178.6" cy="1146" r="1.9"/><circle cx="174.9" cy="1072" r="1.9"/><circle cx="171.2" cy="998" r="1.9"/><circle cx="167.4" cy="924" r="1.9"/><circle cx="163.7" cy="850" r="1.9"/></g>
<g fill-rule="evenodd"><path fill="#00f" d="M376.3 873.4l-15.3 7.5-11.6 6.3-23.2 14.1-11.7 7.9-15.4 11.1-23.5 18.8-23.6 20.9-27.4 27-27.6 29.9-23.7 28.1 43.1 38.9 44.8 43 43.8 44.4 48.6 51.6 119.8 49.8 95.2-19.8 4.3-2.1 21.2-19.5 25.2-21.3 20.9-16 24.7-17 20.5-12.4 24.3-12.8 23.9-10.5 11.9-4.4 11.7-3.8 19.5-5.2 11.5-2.4 11.5-1.8 18.9-1.8 11.2-0.4 11.1 0.1 18.3 1.4 10.9 1.5 10.7 2.1 10.7 2.5 10.5 3 17.7 6.3-42.9-41.4-41.6-38.5-40.6-36.1-42.8-36.5-38.4-31.3-40.6-31.3-39.4-28.9-38.3-26.5-14.1-5.7-14-4.8-14-3.9-10.3-2.3-14.2-2.6-14.4-1.6-14.5-0.8-10.9-0.1-14.7 0.7-14.8 1.6-14.9 2.5-11.2 2.5-11.4 3-15.1 4.8-15.2 5.6z"/><path fill="#00f" d="M706.4 1153.4l25.6-11.5 12.7-4.7 15.7-5.1 12.4-3.3 15.4-3.3 12.3-1.9 15.1-1.5 12-0.6 14.8 0.2 11.7 0.8 14.5 1.8 11.5 2.1 14.2 3.4 14 4.4 11.4 4.2-60.9-58.2-29.5-27-31.4-27.9-28.4-24.5-30.2-25.2-29.5-23.8-29-22.5-43.5-32.2-42.2-29.2-14.1-5.7-13.6-4.6-14-4-11.4-2.6-22.9-3.5-23.1-1.4-23.5 0.9-20.7 2.6-23.9 5.1-21.3 6.5-24.2 9.4-21.5 10.4-24.6 13.9-21.8 14.3-24.8 18.4-22 18.3-25 23-22.1 22.2-25.1 27.6-22.2 26.3 40.4 36.3 41.8 40 43.6 43.9 42.6 45 58.7 9.6 63.3 9.1 59.4 7.3 59.2 5.8 15.2-13.7 16.8-14.2 13.4-10.7 16.6-12.4 13.2-9.1 16.5-10.6 16.3-9.4z"/><path fill="#0013ff" d="M706.4 1153.4l25.6-11.5 12.7-4.7 15.7-5.1 12.4-3.3 15.4-3.3 12.3-1.9 15.1-1.5 12-0.6 14.8 0.2 11.7 0.8 14.5 1.8 11.5 2.1 14.2 3.4 14 4.4 11.4 4.2-60.9-58.2-29.5-27-31.4-27.9-28.4-24.5-30.2-25.2-29.5-23.8-29-22.5-43.5-32.2-42.2-29.2-14.1-5.7-13.6-4.6-14-4-11.4-2.6-22.9-3.5-23.1-1.4-23.5 0.9-20.7 2.6-23.9 5.1-21.3 6.5-24.2 9.4-21.5 10.4-24.6 13.9-21.8 14.3-24.8 18.4-22 18.3-25 23-22.1 22.2-25.1 27.6-22.2 26.3 38.4 34.5 37.8 35.9 39.1 39 41.4 43.2 67.2 11 70.5 9.9 65.7 7.6 60.4 5.5 27.2-23 13.3-10.3 16.6-11.9 26.3-17 13.1-7.5z"/><path fill="#0027ff" d="M706.4 1153.4l25.6-11.5 12.7-4.7 15.7-5.1 12.4-3.3 15.4-3.3 12.3-1.9 15.1-1.5 12-0.6 14.8 0.2 11.7 0.8 14.5 1.8 11.5 2.1 14.2 3.4 14 4.4 11.4 4.2-60.9-58.2-29.5-27-31.4-27.9-28.4-24.5-30.2-25.2-29.5-23.8-29-22.5-43.5-32.2-42.2-29.2-14.1-5.7-13.6-4.6-14-4-11.4-2.6-22.9-3.5-23.1-1.4-23.5 0.9-20.7 2.6-23.9 5.1-21.3 6.5-24.2 9.4-21.5 10.4-24.6 13.9-21.8 14.3-24.8 18.4-22 18.3-25 23-22.1 22.2-25.1 27.6-22.2 26.3 36.5 32.7 35.6 33.8 36.9 36.5 35.9 37.1 75.6 12.3 70.2 9.7 72.3 8.1 69.6 5.8 25.1-20.2 26.5-18.9 23-14.5z"/><path fill="#003cff" d="M706.4 1153.4l25.6-11.5 12.7-4.7 15.7-5.1 12.4-3.3 15.4-3.3 12.3-1.9 15.1-1.5 12-0.6 14.8 0.2 11.7 0.8 14.5 1.8 11.5 2.1 14.2 3.4 14 4.4 11.4 4.2-60.9-58.2-29.5-27-31.4-27.9-28.4-24.5-30.2-25.2-29.5-23.8-29-22.5-43.5-32.2-42.2-29.2-14.1-5.7-13.6-4.6-14-4-11.4-2.6-22.9-3.5-23.1-1.4-23.5 0.9-20.7 2.6-23.9 5.1-21.3 6.5-24.2 9.4-21.5 10.4-24.6 13.9-21.8 14.3-24.8 18.4-22 18.3-25 23-22.1 22.2-25.1 27.6-22.2 26.3 32.6 29.1 33.5 31.6 32.5 31.9 34.4 35.1 84 13.6 77.4 10.4 78 8.3 39.5 3.2 33.6 2.2 22.2-17 23.1-15.9 19.7-12z"/><path fill="#0051ff" d="M706.4 1153.4l25.6-11.5 12.7-4.7 15.7-5.1 12.4-3.3 15.4-3.3 12.3-1.9 15.1-1.5 12-0.6 14.8 0.2 11.7 0.8 14.5 1.8 11.5 2.1 14.2 3.4 14 4.4 11.4 4.2-60.9-58.2-29.5-27-31.4-27.9-28.4-24.5-30.2-25.2-29.5-23.8-29-22.5-43.5-32.2-42.2-29.2-14.1-5.7-13.6-4.6-14-4-11.4-2.6-22.9-3.5-23.1-1.4-23.5 0.9-20.7 2.6-23.9 5.1-21.3 6.5-24.2 9.4-21.5 10.4-24.6 13.9-21.8 14.3-24.8 18.4-22 18.3-25 23-22.1 22.2-25.1 27.6-22.2 26.3 30.6 27.4 29.5 27.5 30.3 29.5 30.6 30.8 43.1 7.3 49.3 7.6 39.3 5.5 45.1 5.6 42.8 4.6 40.7 3.7 38.6 2.9 39.5 2.2 18.2-13.2 19.8-13 16.3-9.7z"/><path fill="#06f" d="M706.4 1153.4l25.6-11.5 25.2-8.8 24.9-6.4 12.3-2.2 15.1-1.9 24-1.1 23.5 1.3 14.5 2 14.3 2.9 14.1 3.8 14.5 4.9 0.8-2.5-61.4-58.3-29.4-26.8-31.2-27.7-28.4-24.3-30.1-24.9-29.4-23.7-29-22.3-41.2-30.3-40-27.7-14.1-5.7-13.6-4.6-14-4-11.4-2.6-22.9-3.5-23.1-1.4-23.5 0.9-20.7 2.6-23.9 5.1-21.3 6.5-24.2 9.4-21.5 10.4-24.6 13.9-21.8 14.3-24.8 18.4-22 18.3-25 23-22.1 22.2-25.1 27.6-22.2 26.3 26.8 23.8 27.3 25.5 28.1 27 26.6 26.5 51.8 8.7 49.2 7.5 46.7 6.4 44.4 5.3 42.3 4.3 46.5 4 43.6 2.8 41.2 1.7 16.3-11 13.1-8.1 13.1-7.5z"/><path fill="#007aff" d="M706.4 1153.4l22.4-10.2 22.2-8.2 21.8-6.2 21.6-4.3 12.1-1.6 15.1-1.2 11.9-0.2 14.8 0.5 11.6 1.1 14.5 2.2 14.2 3.1 11.7 3.2 2.4-4.8 1.2-3.8-59.9-56.5-58-51.6-28.2-24-29.9-24.6-27.1-21.6-28.8-22.1-39-28.5-37.9-26.2-14.1-5.7-13.6-4.6-14-4-11.4-2.6-22.9-3.5-23.1-1.4-23.5 0.9-20.7 2.6-23.9 5.1-21.3 6.5-24.2 9.4-21.5 10.4-24.6 13.9-21.8 14.3-24.8 18.4-22 18.3-25 23-22.1 22.2-25.1 27.6-22.2 26.3 48.2 43.7 48.2 46.7 43.7 7.4 49.8 7.8 47.4 6.6 44.9 5.5 42.7 4.6 40.6 3.6 38.3 2.8 42.1 2.2 45.4 1.3 22.4-13.5z"/><path fill="#008fff" d="M706.4 1153.4l22.4-10.2 22.2-8.2 21.8-6.2 24.6-4.8 21.2-2.1 23.8-0.2 20.4 1.8 20.9 3.7 3.7-4.2 2.3-3.5 2.9-7.4-58.4-54.5-57.6-50.8-55.5-46-27-21.3-28.7-21.8-34.5-25.1-35.8-24.7-14.1-5.7-13.6-4.6-14-4-11.4-2.6-22.9-3.5-23.1-1.4-23.5 0.9-20.7 2.6-23.9 5.1-21.3 6.5-24.2 9.4-21.5 10.4-24.6 13.9-21.8 14.3-24.8 18.4-22 18.3-25 23-22.1 22.2-25.1 27.6-22.2 26.3 42.3 38.2 41.6 39.8 77.7 12.9 79.2 11.1 72.7 8.2 72.8 6.1 65.6 3.4 58.6 0.8z"/><path fill="#00a4ff" d="M391.6 866.8l-15.3 6.6-12.3 5.9-15.3 8.3-12.4 7.3-15.5 9.9-12.4 8.7-25 19.2-28.2 24.3-28.2 27.6-28.4 30.5-25.3 29.9 34.5 30.9 36.7 34.7 61.4 10.4 57.5 8.7 54.1 7 57.8 6.5 53.8 4.8 49.9 3.2 46.2 2 47.4 0.5 34.5-0.6 21.7-9.9 22.2-8.2 21.8-6.2 21.6-4.3 15.1-1.9 18.1-1.1 17.7 0.3 17.8 1.7 5.5-4 4.7-4.2 3.7-4.4 2-3.5 2.2-6.1-59.2-54.7-57.2-49.8-43.7-36-42.6-33.2-41.2-30.5-42.2-29.2-13.8-5.6-11.1-3.9-14-4.1-11.3-2.7-14.3-2.6-11.5-1.5-23.4-1.4-14.3 0.3-11.8 0.8-14.9 1.9-11.9 2.1-14.9 3.5-12.1 3.4z"/><path fill="#00b8ff" d="M376.2 873.4l-15.2 7.5-12.3 6.7-24.8 15.2-24.9 17.6-24.9 20-25.1 22.5-25.2 24.9-25.2 27.3-25.3 29.9 28.7 25.6 29.6 27.6 61.9 10.6 57.8 8.7 54.3 7.2 58.1 6.5 53.9 4.8 50.1 3.4 46.2 1.9 47.5 0.7 42.6-0.9 35.9-2.2 23.6-7.7 24.7-5.7 21.3-2.9 23.3-1.1 12.3-5.4 10.9-6.6 3.8-3.1 4.1-4.2 4.3-6.9 1.6-4.9-59.9-54.6-56.7-48.7-38.9-31.8-40.2-31.1-39-28.6-40-27.7-14.1-5.7-13.6-4.6-14-4-11.4-2.6-14.2-2.5-14.4-1.6-14.5-0.7-11.7 0-14.7 0.8-14.8 1.7-14.9 2.5-11.9 2.7-15.1 4.2-12.1 4.1-15.2 5.8z"/><path fill="#00cdff" d="M376.2 873.4l-15.2 7.5-12.3 6.7-24.8 15.2-24.9 17.6-24.9 20-25.1 22.5-25.2 24.9-25.2 27.3-25.3 29.9 45.2 40.9 45 7.8 42.8 6.9 40.8 5.9 46.6 6.1 79 8.6 39.9 3.4 37.6 2.6 63.3 2.7 56.2 0.2 23.1-0.6 25.8-1.4 23.7-2 21.5-2.5 16.3-2.6 17.6-3.6 15.4-4.2 13.2-4.7 11-5.3 8.7-5.7 6.5-6.3 4.2-6.7 1.5-4.9-55.5-50.1-54.1-46.3-38.8-31.4-40-30.9-36.8-26.8-37.9-26.2-14.1-5.7-13.6-4.6-14-4-11.4-2.6-14.2-2.5-14.4-1.6-14.5-0.7-11.7 0-14.7 0.8-14.8 1.7-14.9 2.5-11.9 2.7-15.1 4.2-12.1 4.1-15.2 5.8z"/><path fill="#00e2ff" d="M376.2 873.4l-15.2 7.5-12.3 6.7-24.8 15.2-24.9 17.6-24.9 20-25.1 22.5-25.2 24.9-25.2 27.3-25.3 29.9 31.9 28.5 9.3 1.7 44.9 7.7 51 8 48.1 6.8 45.5 5.6 43.1 4.7 47.3 4.3 38.1 2.7 41.7 2.2 54.4 1.4 52.9-0.7 41.9-2.5 22.2-2.3 16.9-2.4 15.4-2.8 16.5-3.8 12-3.6 12.4-4.8 10.2-5.4 6.8-4.8 6.1-6.3 3.2-5.5 1.4-4.8-55.7-49.9-53.8-45.3-38.5-30.7-39.7-30.2-42.8-30.6-20.9-14.3-2.7-1.2-13.8-5.4-14-4.6-11.6-3.2-14.2-3.1-14.2-2.3-14.1-1.4-14.5-0.6-11.7 0.2-14.7 0.9-11.9 1.5-14.9 2.5-11.9 2.7-15.1 4.2-12.1 4.1-15.2 5.8z"/><path fill="#00f6ff" d="M376.2 873.4l-15.2 7.5-12.3 6.7-24.8 15.2-24.9 17.6-24.9 20-25.1 22.5-25.2 24.9-25.2 27.3-25.3 29.9 18.2 16.1 54.9 9.6 59.6 9.3 78.5 10.5 71.4 7.6 71.1 5.5 63.7 2.9 51.4 0.5 45.5-1.4 39.5-3.1 17.5-2.2 16-2.5 14.5-3 12.9-3.3 13.5-4.5 9.6-4.1 7.9-4.5 6.5-4.8 4.8-5.2 3.1-5.5 1.4-4.7-53.5-47.3-53.4-44.6-40.5-32-39.4-29.4-50.8-35.6-2.1-1.4-5.5-2.3-13.8-5.3-14-4.4-14.1-3.7-11.4-2.3-11.7-1.8-14.4-1.4-14.2-0.6-11.7 0.2-14.7 0.9-11.9 1.5-14.9 2.5-11.9 2.7-15.1 4.2-12.1 4.1-15.2 5.8z"/><path fill="#00fff3" d="M376.2 873.4l-15.2 7.5-12.3 6.7-24.8 15.2-24.9 17.6-24.9 20-25.1 22.5-25.2 24.9-25.2 27.3-25.3 29.9 4.3 3.7 55.5 9.8 76.6 11.9 70 9.1 57.4 6.1 59.5 5 54.4 3.2 54.6 1.6 44-0.3 43.1-2 33.7-3.2 16.6-2.3 15-2.8 23.3-5.8 10.8-3.8 9.2-4.2 7.6-4.4 6-4.9 4.4-5.2 2.4-4.4 1.3-4.6-53.5-46.7-50.7-41.8-40.3-31.4-41.2-30.5-42.2-29.2-8.2-3.4-13.9-5.1-11.2-3.5-14.1-3.7-11.4-2.3-11.7-1.8-14.4-1.4-14.2-0.6-11.7 0.2-14.7 0.9-11.9 1.5-14.9 2.5-11.9 2.7-15.1 4.2-12.1 4.1-15.2 5.8z"/><path fill="#00ffde" d="M376.2 873.4l-24.5 12.5-24.7 14.8-24.8 17.4-25 19.7-25.2 22.2-25 24.6-25.2 27-23.6 27.4 59.2 10.2 51.2 8 55.9 7.6 59.4 6.9 55 5.2 50.7 3.7 46.8 2.3 47.8 1 43-0.5 38-1.9 33.2-3.3 16.2-2.4 14.8-2.7 22.6-5.9 10.5-3.8 8.8-4.2 7.3-4.5 4.6-3.8 4.3-5.1 2.3-4.4 1.2-4.6-53.2-45.9-50.3-40.9-42.1-32.3-40.9-29.6-29.4-20.2-11-4.5-13.9-5-11.2-3.3-14.1-3.5-11.4-2.2-14.4-1.9-11.5-1-11.9-0.4-14.3 0.3-14.8 1.1-11.9 1.6-14.9 2.8-11.9 2.8-15.1 4.4-12.1 4.2z"/><path fill="#00ffca" d="M376.2 873.4l-24.5 12.5-24.7 14.8-24.8 17.4-21.9 17.1-25.1 21.8-21.9 21.2-25.2 26.4-22.8 25.9 56.1 9.4 58.8 8.8 54.6 7 51 5.6 54.1 4.9 49.9 3.4 45.9 2.1 46.9 0.7 41.9-0.7 36.9-2.2 32.1-3.4 27.1-4.7 12.8-3.2 9.2-2.8 10.1-3.8 6.9-3.3 7.2-4.4 4.6-3.8 4.2-5.1 2.2-4.3 1.1-4.5-52.6-44.9-50-40.1-44-33.2-42.6-30.2-14.6-9.9-14.1-5.7-13.6-4.6-11.2-3.3-14.2-3.3-11.4-2-14.3-1.8-11.6-0.8-23.6 0-14.5 1.1-11.9 1.6-14.9 2.8-11.9 2.8-15.1 4.4-12.1 4.2z"/><path fill="#00ffb5" d="M391.4 866.8l-24.3 11-24.6 13.4-24.8 15.8-24.9 18.2-25.1 20.7-25 23-25.2 25.5-24.9 27.6 52.6 8.6 58 8.3 53.9 6.8 50.3 5.3 53.3 4.6 49 3.1 45 1.7 41 0.6 37.1-0.7 37-2 32-3.4 27.1-4.6 10.4-2.5 11.6-3.4 8.1-2.9 8.8-4.1 5.8-3.4 5.9-4.7 4.1-5 2.1-4.2 1.1-4.5-45.2-38.1-45.3-36.3-39.6-30-40.7-29-20.9-14.3-11-4.5-13.9-5-11.2-3.3-22.7-5.2-22.9-3-23.3-0.8-23.7 1.5-14.6 2-12 2.3-24 6.2z"/><path fill="#00ffa0" d="M391.4 866.8l-24.3 11-24.6 13.4-24.8 15.8-21.8 15.8-25 20.3-21.9 19.8-25.2 24.9-23.7 25.7 48.5 7.6 57.4 8 53.2 6.5 49.5 5 52.4 4.3 48.2 2.8 44.1 1.5 40.1 0.3 36.2-0.8 35.9-2.3 27.8-3.1 26.4-4.7 10.2-2.4 11.2-3.4 9.7-3.8 6.5-3.2 6.8-4.4 4.2-3.8 3.1-4 2-4.2 0.9-4.4-46.5-38.7-44.9-35.4-41.4-30.7-42.3-29.5-4.2-2.8-14.1-5.7-13.6-4.6-11.2-3.3-22.7-4.9-23.3-2.7-23-0.5-23.6 1.7-23.8 4-24 6.2z"/><path fill="#00ff8c" d="M391.4 866.8l-24.3 11-21.6 11.6-24.7 15.4-21.7 15.5-21.9 17.5-25 22.1-22.1 21.4-22.3 23.6 52.4 7.9 48.2 6.5 52.5 6.1 48.8 4.8 45.4 3.6 47.8 2.7 43.7 1.4 39.7 0.2 35.7-0.9 31.8-2 27.7-3 26.5-4.6 10.1-2.4 11.2-3.3 7.8-3 6.8-3.1 5.7-3.4 5.7-4.5 3.3-3.9 2.3-4.3 1.1-5.3-40.9-33.6-42.6-33.2-41.2-30.5-42.2-29.2-16.5-6.6-22.4-7-22.7-4.9-23.3-2.7-23-0.5-23.6 1.7-23.8 4-24 6.2z"/><path fill="#0f7" d="M391.4 866.8l-21.2 9.5-21.5 11.3-21.7 13.1-21.7 15.1-21.9 16.9-21.9 18.7-22 20.5-23.8 24.4 47.2 6.9 55.3 7.1 44.2 4.9 48 4.5 44.6 3.4 47 2.4 37.7 1.2 39.3 0.1 35.3-1 31.2-2 27.3-3.1 25.8-4.6 18.7-5.1 9.5-3.6 6.5-3.2 5.4-3.4 4.3-3.6 3.3-3.8 2.1-4.1 1-5.4-41.9-33.9-39.9-30.7-36.7-26.7-35.8-24.7-19.3-7.6-22.8-6.8-22.4-4.5-23-2.5-23.3-0.2-23.6 1.9-23.8 4.3-24.1 6.6z"/><path fill="#00ff62" d="M400.7 863.3l-24.4 10.1-21.5 10.8-21.6 12.6-21.7 14.5-21.8 16.3-22 18.3-21.9 20-21.9 21.9 49.6 6.9 46.5 5.7 43.5 4.6 47.3 4.3 43.9 3.1 46.1 2.2 36.9 0.9 38.4-0.1 34.3-1.2 30.3-2.2 26.2-3.2 22.2-4.2 18-5.1 7.5-2.9 6.4-3.1 5.4-3.4 4.2-3.5 3.2-3.8 2-4 0.9-5.4-38.2-30.4-37.5-28.6-32.3-23.3-33.6-23.2-19.3-7.6-22.4-6.7-19.9-4.2-23-2.7-20.4-0.6-23.5 1.4-20.8 3.1-23.9 5.7z"/><path fill="#00ff4e" d="M400.7 863.3l-21.3 8.7-21.5 10.5-21.6 12.4-18.6 12.1-21.8 15.8-21.8 17.6-21.9 19.5-19.9 19.2 51.1 6.8 45.4 5.3 42.4 4.3 46.1 3.8 42.6 2.7 39.4 1.6 36.1 0.7 37.4-0.3 29.4-1.1 29.8-2.3 25.7-3.2 21.6-4.3 17.5-5.1 7.2-2.9 6.1-3.1 5-3.4 3.9-3.5 2.7-3.8 1.4-3 0.7-5.3-43-33.7-41.4-30.6-44.3-30.8-13.8-5.6-11.1-3.9-22.5-6.2-19.9-3.7-20.2-2-20.4-0.3-20.8 1.4-23.6 3.6-21.1 5.2z"/><path fill="#00ff39" d="M400.7 863.3l-21.3 8.7-18.5 9-21.5 12-18.6 11.8-21.7 15.5-18.8 14.9-18.8 16.2-20.5 19.1 44 5.6 44.8 5.1 41.8 4 45.4 3.5 41.9 2.5 38.5 1.4 35.3 0.6 32.2-0.4 29-1.2 29.3-2.3 22.2-2.9 21.6-4.1 17.4-5 7.1-2.9 6-3.1 5-3.3 3.8-3.5 2.6-3.8 1.3-2.9 0.5-5.3-47.5-36.5-45-32.4-23.1-15.7-14.1-5.7-16.4-5.5-19.7-5.1-20.3-3.5-19.9-1.7-20.4-0.1-20.7 1.6-20.8 3.3-21.1 5.2z"/><path fill="#00ff24" d="M400.7 863.3l-18.3 7.3-18.4 8.7-18.5 10.1-18.5 11.3-18.6 12.8-18.7 14.1-18.8 15.5-20.8 18.7 43.8 5.4 43.7 4.6 40.7 3.6 38 2.8 41.1 2.2 37.8 1.3 34.5 0.3 31.3-0.5 28.2-1.4 24.9-2.1 21.8-2.9 21-4.1 16.8-5.1 11.2-5.2 4.8-3.2 3.7-3.5 2.4-3.5 1.3-3.2 0.4-5.2-49.5-37.2-46.6-32.8-6.3-4.2-5.5-2.3-13.8-5.3-14-4.4-19.8-4.9-20-3.2-20.2-1.6-20.4 0.2-20.7 1.8-20.9 3.7-18.1 4.5z"/><path fill="#00ff0f" d="M421.7 856.4l-21 6.9-21.3 8.7-18.5 9-21.5 12-21.7 14-18.6 13.3-18.8 14.9-20.7 17.9 42.6 4.9 42.5 4.2 39.7 3.3 36.9 2.5 34.4 1.6 36.9 1.1 29.1 0.2 30.9-0.6 27.8-1.4 24.5-2.2 21.3-2.9 20.4-4.2 14.4-4.4 11-5.1 3.7-2.4 3.9-3.4 2.7-3.6 1.3-2.8 0.5-3-0.1-3.2-36-26.8-34.1-24.2-18.8-12.8-14.1-5.7-14-4.8-19.3-5.2-17.1-3.2-17.2-2.1-17.7-0.8-20.2 0.6-17.8 2-17.9 3.2z"/><path fill="#05ff00" d="M421.7 856.4l-21 6.9-18.3 7.3-18.4 8.7-18.4 10-18.6 11.4-18.6 12.8-18.7 14.1-20.3 16.8 75.2 7.6 39 3.1 36.2 2.2 33.7 1.5 36.2 0.9 28.4 0 30.1-0.7 26.8-1.6 23.6-2.3 20.4-3 17.1-3.8 13.8-4.4 10.4-5.1 4.4-3.2 2.5-2.6 1.8-2.7 1.2-2.9 0.4-2.9-0.3-3.1-37.3-27.3-37.9-26.2-16.5-6.6-16.8-5.4-16.9-4.3-17.1-3.1-17.6-1.8-17.2-0.6-17.5 0.6-17.8 2-17.9 3.2z"/><path fill="#1aff00" d="M421.7 856.4l-18 5.8-18.2 7.1-18.4 8.5-15.4 8.1-18.5 10.9-18.5 12.3-18.8 13.7-16.1 12.8 77.3 7.2 66.6 4.2 32.6 1.2 30.1 0.5 27.7-0.1 29.2-0.9 22.4-1.4 23.2-2.4 19.9-3 16.5-3.8 13.2-4.5 8.6-4.3 4.2-3.2 2.5-2.6 1.7-2.6 1-2.8 0.3-3-0.4-3.1-29.8-21.4-31.5-21.7-19.3-7.6-19.6-6-17-3.8-14.6-2.4-17-1.6-17.5-0.4-17.6 0.9-17.8 2.1-17.8 3.4z"/><path fill="#2fff00" d="M451.8 849.6l-20.9 4.3-21.1 6.2-18.4 6.7-21.2 9.5-21.5 11.3-18.5 11.1-18.7 12.6-20.8 15.5 71.7 6.2 64.5 3.6 31.5 0.9 29 0.2 26.5-0.3 24.1-1 21.7-1.5 19.2-2.1 16.8-2.6 16.5-3.7 13.1-4.4 8.4-4.3 5.8-4.8 1.8-2.6 1.2-2.8 0.4-3.4-0.7-3.5-47.1-32.8-14.1-5.7-16.4-5.5-14.1-3.8-14.2-3-14.3-2.1-14.4-1.3-11.9-0.4-14.6 0.3-14.7 1.2z"/><path fill="#43ff00" d="M451.8 849.6l-20.9 4.3-18.1 5.2-18.2 6.5-18.3 7.8-18.4 9.1-18.5 10.5-18.6 11.8-18.4 13.1 64.5 5.1 62.5 3 53.8 0.7 25.8-0.5 23.3-1.1 20.8-1.6 18.5-2.2 15.9-2.8 13.4-3.2 10.9-3.7 8.3-4.3 5.5-4.8 1.8-2.5 1-2.7 0.2-3-0.8-3.9-32.7-22.5-19.3-7.6-16.8-5.2-14.1-3.5-14.3-2.6-14.3-1.8-11.6-0.8-14.6-0.3-11.7 0.4-12 1.1z"/><path fill="#58ff00" d="M466.6 847.5l-20.8 3.1-17.9 4.1-18.1 5.4-18.4 6.7-21.2 9.5-18.5 9.6-18.5 10.9-18.4 12.2 61.8 4.2 54.6 2.2 51.7 0.3 43.2-1.8 16.9-1.5 18-2.2 15.4-2.8 12.9-3.2 10.4-3.8 6.5-3.5 5.4-4.7 2.3-4.4 0.3-3.7-1.2-4-17.9-12.2-19.3-7.6-16.8-5.2-22.7-5.2-22.9-3-23.3-0.8z"/><path fill="#6dff00" d="M466.6 847.5l-17.8 2.6-17.9 3.8-18.1 5.2-15.2 5.3-18.2 7.6-15.4 7.3-18.4 10-17.3 10.6 56.9 3.4 52 1.5 44.6-0.3 41-2.2 29.9-3.6 12.3-2.3 12.4-3.3 9.8-3.8 6-3.6 4.1-3.9 2-4.3 0.1-3.3-1-3.4-0.5-1-2.8-1.9-13.8-5.6-11.1-3.9-22.5-6.2-19.9-3.7-20.2-2-20.4-0.3z"/><path fill="#81ff00" d="M466.6 847.5l-15 2.1-14.9 3-15 3.8-15.1 4.8-15.2 5.6-15.2 6.6-15.3 7.6-17.7 9.7 49.4 2.4 49.3 0.9 38.1-0.7 35.5-2.3 15.2-1.7 13.3-2.1 11.5-2.4 9.7-2.8 7.8-3.2 5.8-3.5 3.9-3.9 1.7-4.3-0.2-3.7-8.4-3.1-22.4-6.7-19.9-4.2-17.2-2.2-17.4-1-17.5 0.2z"/><path fill="#96ff00" d="M466.6 847.5l-14.8 2.1-12 2.3-15 3.6-12 3.6-15.2 5.3-12.1 4.9-25.5 12.1 43.7 1.5 41.6 0.2 35.7-1.2 29.7-2.5 23.9-3.6 10.7-2.6 7.2-2.3 7.2-3.2 4.4-2.8 3.1-3 1.8-3.9-12.8-3.7-11.3-2.7-14.3-2.6-11.5-1.5-14.4-1.1-11.7-0.3-11.9 0.3z"/><path fill="#abff00" d="M466.6 847.5l-20.8 3.1-21 4.9-21.1 6.7-23.8 9.6 33.1 0.5 30.4-0.2 26.8-1.1 26.1-2.2 21.5-3.1 14.8-3.5 11-4.2 4.5-2.7 2.7-2.4-20.2-3.9-20.4-2.3-23-0.5z"/><path fill="#bfff00" d="M526.8 848.4l-19.2-1.9-14.6-0.4-14.6 0.4-14.8 1.4-14.8 2.2-14.9 3.1-15.1 4-13.2 4.3 42.6-0.8 17.7-1 18.7-1.8 13.5-1.8 11.7-2.3 9.6-2.6z"/></g>
<g fill="#000" fill-rule="evenodd"><path fill-opacity="0.1" d="M587.3 1237.4l27-23.3 13.4-10.7 16.6-12.4 26.4-17.6 26.8-15.5-23.5-13.3-7.7-2.9-36.4-11.3-21-5.5-19.3-4.3-28.5-5-31.3-3.5-30.8-1.5-28.2 0.6-30.3 2.7-16.8 2.5-16.5 3.1-16.2 3.7-15.9 4.4-15.6 4.9-15.4 5.5-4.7 2.3-12.8 16-15.6 21.3 42.3 45.1 5.3-1.6 2.2 2.4 5.6-1.7 2.2 2.4 5.6-1.7 2.8 2.6 4.8-1.4 4.8 4.5 5.6-1.5 2.2 2.6 5.7-1.6 2.2 2.5 5.7-1.4 2.3 2.5 5.6-1.5 2.3 2.6 5.7-1.4 2.3 2.6 5.7-1.4 2.3 2.6 5.7-1.3 2.3 2.6 5.7-1.2 2.4 2.6 5.7-1.2 2.3 2.6 5.8-1.1 2.4 2.4 10.9-1.4 2.9 2.1 5.8-1 2.4 2.7 5.8-1 2.4 2.6 11.5-1.6 2.5 2.6 5.8-0.8 2.7 2.4 11.4-1.2 2.5 2.7 11.7-1.3 2.4 2.8 11.8-1.2 2.5 2.8 11.8-1z"/><path fill-opacity="0.1" d="M491.6 1110.8l25.7 0.6 29.3 2.5 28.4 4.1 27 5.4 33.7 8.8 30.5 9.7 7.8 2.9 23.4 13.2 15.5-7.7 12.8-5.7 12.7-5.1 15.5-5.4-45.1-29.6-44.6-27.3-44.9-25.6-42.1-22.3-44.8-21.6-45.1-19.7-24.5-9.7-26.2-9.8-14.9-5.1-7-1.2-19.8-2.6-19.7-1.8-20.6-1.1-22.7-0.2-19.5 0.6-22 1.6-17.2 2-26.1 4-17 16.6-18.9 19.9-18.9 21.2-19 22.6 34.5 30.9 33.6 31.7 34.7 34.1 35.1 36 15.5-21.3 12.8-15.9 9.8-4.2 15.4-5.4 17.7-5.2 19.4-4.9 16.4-3.3 16.7-2.7 20-2.3 20.2-1.3zM407.3 1229.5l2.3 2.5 5.7-1.4 2.3 2.6 5.6-1.4 2.3 2.6 5.7-1.4 2.3 2.6 5.7-1.3 2.3 2.5 5.8-1.2 2.3 2.4 5.7-1 2.4 2.2 5.7-0.7 2.4 1.9 5.7-0.4 2.9 0.8 1.5-0.3 3.8 1.2 5.7-1.1 2.4 2.5 5.8-0.8 2.4 2 11.4-0.9 2.6 2.4 5.8-0.7 2.6 1.9 1.7 0.1 9.8-0.8 2.4 2.2 11.8-0.8 2.4 2.3 11.8-0.7 2.5 2.2 11.8-0.4 0.9-0.8-12 0.9-2.4-2.8-11.8 1.2-2.4-2.8-11.8 1.4-2.4-2.8-11.4 1.2-2.7-2.4-5.8 0.8-2.5-2.6-11.5 1.6-2.5-2.6-5.8 1-2.3-2.7-5.8 1-2.9-2.1-10.9 1.5-2.5-2.5-5.7 1.1-2.3-2.6-5.8 1.2-2.3-2.6-5.7 1.2-2.3-2.6-5.7 1.3-2.3-2.6-5.7 1.4-2.3-2.6-5.7 1.4-2.3-2.5-5.7 1.4-2.3-2.5-5.6 1.5-2.3-2.6-5.6 1.6-2.3-2.5-5.5 1.4-4.9-4.5-4.8 1.4-2.7-2.6-5.6 1.7-2.2-2.4-5.6 1.7-2.2-2.4-5.6 1.7 0.6 0.3 4.3-1 2.2 2.1 5.6-1.4 2.2 2.4 5.6-1.7 2.2 2.5 2.3 0.5 2.1-0.6 3.4 0.9 2.3 1.8 5.6-0.9 2.3 2.1 1.5 0 4.1-1.1 2.3 2.3z"/><path fill-opacity="0.2" d="M387.6 959l20.4 2.4 13.6 2.1 9.1 3.1 28 10.2 30.4 12.2 29.9 12.8 30 13.9 50.5 25.4 52.3 29 53.5 32.4 48.4 31.7 12.9-3.8 12.4-3 23.2-4-26.6-19.8-29.6-21.3-28.5-19.7-30.3-20.2-54.7-34.3-28.7-16.9-28.1-15.8-28.6-15.3-25.8-13.1-27.2-13-27.7-12.6-27.3-11.5-24.6-9.7-24.2-8.9-29.9-10.1-14.8 8.1-12.4 7.5-15.5 10.2-12.4 8.8-28.1 22-15.7 13.6-14.6 13.4 37.7-5.3 32.1-2.5 33.6-0.2 18.8 0.8zM383.7 1226.5l-3.5-1-2.1 0.6-2.2-0.5-2.3-2.5-5.6 1.7-2.2-2.4-5.6 1.4-2.2-2.1-4.5 1.1 0.6 0.3 3.2-0.4 2.2 1.4 2.5 0.1 3.1-0.8 2.2 1.9 5.6-1.2 2.2 2.4 7.9 0.9 2.3 1.2 5.6-0.3 2.2 1.5 3 0.1 2.7-0.6 2.2 1.6 2.7 0.2 3-0.8 2.2 1.8 2.8 0.1 2.9-0.8 2.3 1.9 2.8 0 2.9-0.7 2.3 1.9 2.8 0 2.9-0.7 2.2 1.9 2.9 0 2.9-0.6 2.3 1.8 2.9 0.1 2.8-0.6 2.3 1.7 5.8-0.3 2.3 1.5 5.7 0 2.4 1.2 5.7 0.3 8.2 1.2 5.7-0.6 2.4 1.8 5.8-0.1 2.4 1.4 5.8 0.2 5.5-0.4 2.7 1.7 5.8-0.1 2.6 1.3 5.7 0.3 5.8-0.5 2.4 1.7 5.9 0.3 5.8-0.6 2.5 1.8 5.9 0.3 5.8-0.5 2.5 1.7 9.2 0.4 2.7-0.3 0.9-0.8-12 0.4-2.5-2.2-11.7 0.7-2.5-2.4-11.7 0.9-2.4-2.3-5.9 0.8-5.6-0.1-2.6-1.9-5.9 0.7-2.6-2.3-11.3 0.9-2.5-2-5.8 0.7-2.3-2.4-5.8 1-3.8-1.1-1.5 0.2-2.9-0.7-5.6 0.3-2.4-1.9-5.8 0.7-2.3-2.1-5.7 0.9-2.4-2.3-5.7 1.1-2.3-2.5-5.7 1.3-2.3-2.6-5.7 1.4-2.3-2.6-5.7 1.4-2.3-2.5-5.6 1.3-2.3-2.4-5.7 1.2-2.2-2.3-5.7 1.2-2.2-2.1-5.6 0.9z"/><path fill-opacity="0.3" d="M376.2 873.4l-15.9 7.9 30.2 10.3 28.9 10.7 25.5 10.2 24.3 10.3 24.9 11.3 27.1 13 25.8 13.1 28.6 15.3 28.2 15.8 28.7 16.9 54.7 34.4 30.2 20.1 28.5 19.7 29.6 21.3 26.5 19.7 22.6-1.8 20.8 0.2-44.6-35.5-47.2-35.8-43.4-31.2-46-31.4-42.5-27.2-42-25.2-41.7-23.3-40.7-21-38.4-18.3-37.4-16.5-14.9 4.8-15.2 5.6zM400.3 1231.1l5.7 0 2.3 1.2 5.6-0.1 2.3 1.2 5.7-0.1 2.3 1.3 5.7 0 2.3 1.2 5.7 0 2.3 1.2 5.7 0.2 2.3 1.1 5.8 0.2 2.3 1 5.7 0.2 2.4 1 5.7 0.2 3.1 0.8 5.1 0.5 5.7-0.1 2.4 1.3 5.8 0.2 2.4 1 11.1 0.6 2.9 0.9 5.8 0.3 2.5 0.9 11.6 0.5 2.4 1 11.7 0.4 2.5 1.1 11.7 0.5 2.5 1 11.8 0.6 1-0.7-12-0.2-2.5-1.6-5.9 0.4-5.8-0.3-2.5-1.7-5.9 0.5-5.8-0.3-2.5-1.6-5.8 0.4-5.7-0.3-2.6-1.3-5.8 0.1-2.7-1.6-5.5 0.4-5.7-0.3-2.5-1.4-5.8 0.2-2.3-1.9-5.8 0.7-8.1-1.3-5.7-0.2-2.4-1.3-5.8 0.1-2.3-1.6-5.7 0.4-2.4-1.8-2.8 0.7-2.9-0.1-2.3-1.9-2.9 0.6-2.8 0-2.3-1.9-2.9 0.7-2.8 0.1-2.3-2-3 0.7-2.7 0.1-2.3-2-3 0.8-2.6 0-2.3-1.8-3 0.7-2.6-0.1-2.3-1.7-3.1 0.6-2.6-0.1-2.2-1.4-5.6 0.2-2.3-1.1-7.8-1-2.2-2.4-5.6 1.2-2.2-1.9-3.2 0.9-2.4-0.1-2.2-1.5-3.6 0.5 2.9 0.3 2.2 1 5.6-0.1 2.2 1.2 3.5 0.1 2.1-0.6 2.2 1.7 3 0.8 4.8 0.4 2.3 0.9 5.6 0.3 2.2 0.9 5.7 0.2z"/><path fill-opacity="0.4" d="M433.9 853.2l-12.6 3.3 28.8 12.6 26.2 12 49.8 25 50.9 28 50.7 30.5 51.7 33.7 55.4 38.7 56.4 42.1 54 42.7 20.5 2.1 20 3.8-40.5-34.1-42.8-34.6-39.7-30.8-41.5-30.7-38.4-27.2-40.8-27.5-37.5-23.9-39.8-24-44.9-25.2-44.2-23-12 1.2-14.8 2.2zM390.2 1228.8l-5.6-0.3-2.2-0.9-4.9-0.4-3-0.8-2.2-1.6-2.1 0.6-3.5-0.1-2.2-1.3-5.6 0.1-2.2-0.9-2.5-0.1 4 1.3 5.6 0.2 2.2 1 5.6 0.1 4.8 1.9 5.3 0.3 2.2 0.9 5.6 0.3 2.3 0.9 5.6 0.3 2.3 0.9 5.6 0.3 2.3 0.9 5.7 0.2 2.2 1 5.7 0.2 2.3 1 5.7 0.2 2.3 1 5.7 0.2 2.3 1 5.7 0.2 2.3 1 5.8 0.3 2.3 0.9 5.8 0.3 2.3 0.9 5.7 0.3 2.6 0.9 11.3 0.6 2.4 0.9 5.8 0.3 2.4 0.9 5.8 0.3 3 0.8 11 0.7 2.4 1 11.7 0.5 2.4 1 11.7 0.5 2.5 1 11.7 0.5 2.5 1 12.9 0.3-12.2-0.6-2.4-1.1-11.8-0.4-2.4-1.2-11.7-0.3-2.5-1.1-11.6-0.4-2.5-1-5.8-0.3-2.9-0.9-11.1-0.6-2.4-0.9-5.8-0.3-2.3-1.2-5.8 0-5.1-0.4-3-0.8-5.8-0.3-2.3-0.9-5.8-0.3-2.3-0.9-5.7-0.3-2.3-1.1-5.8-0.1-2.3-1.2-5.7 0-2.3-1.3-5.7 0.1-2.3-1.3-5.7 0.1-2.2-1.3-5.7 0.1-2.3-1.2-5.6 0-2.3-1-5.6-0.2zM534.6 1260l-85.1-5-6.7-0.1-10.5 0.7 41.1 17.1z"/><path fill-opacity="0.5" d="M501 846.2l-25.7 0.5 47.2 24.6 47.8 27.1 48.5 29.7 49.3 32.3 53 37.2 53.9 40.2 54.8 43.3 55.6 46.5 17.6 4.8-32.6-28.8-32-27.5-31.7-26.4-34.1-27.6-46.7-36.2-29.8-21.5-34.3-23.8-35.7-23.7-29.8-18.4-37.8-21.8-37.5-20.2zM396.6 1230.1l-4.8-0.2-2.2-1-5.7-0.2-2.2-0.9-5.3-0.4-4.7-1.8-5.7-0.2-2.2-0.9-5.6-0.3-2.1-0.9-1.5 0 78 32.4 10.2-0.6 6.7 0.1 84.7 4.8 36.6-7.5-12.2-0.7-2.5-0.9-11.7-0.6-2.5-0.9-11.7-0.6-2.4-0.9-11.7-0.6-2.4-0.9-11-0.7-3-0.8-5.8-0.3-2.4-1-5.8-0.2-2.3-1-11.4-0.6-2.5-0.9-5.8-0.2-2.3-1-5.8-0.3-2.3-0.9-5.7-0.3-2.3-0.9-5.8-0.3-2.3-0.9-5.7-0.3-2.3-0.9-5.7-0.3-2.2-0.9-5.7-0.3-2.3-0.9-5.7-0.3-2.2-0.9-5.7-0.3z"/><path fill-opacity="0.6" d="M514.5 847l-13.9-0.8 29 14.9 27.3 14.9 27.7 15.8 28.3 17 43.2 28.1 45.7 31.7 41.8 31 54.5 43.2 51.8 43.3 52.8 46.2 11.9 4.1-44.3-39.2-59.5-49.4-52.7-41.3-54.7-40.5-56.7-39.1-52.9-34-30.3-18.3-32.8-18.7z"/><path fill-opacity="0.6" d="M560.6 873.2l41.4 25 41.8 26.9 42.4 28.9 42.9 30.9 40.6 30.6 41 32.4 59.5 49.4 44 39 5.5 2.1-16.6-16.2-10.9-9.5-43.8-37.6-33.4-27.6-57.7-45.3-54.3-40.3-31.1-21.8-28-18.9-30.5-19.9-27.5-17.1-32.8-19.5-30.1-16.8-8.9-0.9z"/><path fill-opacity="0.7" d="M529.1 848.7l-6.5-0.8 19.6 10.8 32.6 19 49.6 30.9 44.6 29.7 42.4 29.9 48.7 36.3 46.5 36.5 41.7 34.2 55.1 47.3-30.6-29.2-57.2-48-56.9-45.2-53.4-39.9-50.9-35.3-50.6-32.6-30.6-18.5-30.4-17.5z"/><path fill-opacity="0.8" d="M585.5 878.5l-49.5-28.6-7.3-1.2 44.4 25.3 41.8 25.5 42.3 27.4 44.2 30.7 43.2 31.8 36.7 28.5 42.8 34.7 49 41-35.2-32.6-25-20.5-48.8-38.6-48.2-36.1-42.1-29.9-44.4-29.7z"/><path fill-opacity="0.9" d="M535.6 849.8l49.8 28.9 32.9 20.5 38.7 25.4 30.7 21.2 33.7 24.2 39.7 29.9 34.4 26.9 42.7 34.4-33.2-29.7-23-18.2-48.2-36.9-47.6-34.5-49.9-33.9-43.9-27.8-48.8-28.9z"/><path fill-opacity="1" d="M586.8 877l49.4 31.2 55.5 37.8 56.1 41.1 57.5 44.6-49.8-42.7-48-39-48.7-37.2-47-33.5-16.7-11.4-5.5-2.3-22.6-8.2-23.8-6.2z"/></g>
<path d="M376.3 873.4l-15.3 7.5-11.6 6.3-23.2 14.1-11.7 7.9-15.4 11.1-23.5 18.8-23.6 20.9-27.4 27-27.6 29.9-23.7 28.1 43.1 38.9 44.8 43 43.8 44.4 48.6 51.6 119.8 49.8 95.2-19.8 4.3-2.1 21.2-19.5 25.2-21.3 20.9-16 24.7-17 20.5-12.4 24.3-12.8 23.9-10.5 11.9-4.4 11.7-3.8 19.5-5.2 11.5-2.4 11.5-1.8 18.9-1.8 11.2-0.4 11.1 0.1 18.3 1.4 10.9 1.5 10.7 2.1 10.7 2.5 10.5 3 17.7 6.3-42.9-41.4-41.6-38.5-40.6-36.1-42.8-36.5-38.4-31.3-40.6-31.3-39.4-28.9-38.3-26.5-14.1-5.7-14-4.8-14-3.9-10.3-2.3-14.2-2.6-14.4-1.6-14.5-0.8-10.9-0.1-14.7 0.7-14.8 1.6-14.9 2.5-11.2 2.5-11.4 3-15.1 4.8-15.2 5.6z" fill="url(#pt)" fill-rule="evenodd" stroke="#000" stroke-width="1.7" stroke-linejoin="round"/>
<path d="M163.7 850L183.3 1239.1" stroke="#111" stroke-width="1.7" fill="none"/>
<text transform="translate(107.8 845) scale(1.330 1)" font-size="18.2" fill="#1c1c1c" stroke="#1c1c1c" stroke-width="0.5" stroke-linejoin="round">250</text>
<text transform="translate(112.5 918.8) scale(1.358 1)" font-size="18.2" fill="#1c1c1c" stroke="#1c1c1c" stroke-width="0.5" stroke-linejoin="round">188</text>
<text transform="translate(116.5 991.3) scale(1.358 1)" font-size="18.2" fill="#1c1c1c" stroke="#1c1c1c" stroke-width="0.5" stroke-linejoin="round">125</text>
<text transform="translate(133.2 1065.1) scale(1.479 1)" font-size="18.2" fill="#1c1c1c" stroke="#1c1c1c" stroke-width="0.5" stroke-linejoin="round">63</text>
<text transform="translate(148.4 1140.7) scale(1.299 1)" font-size="18.2" fill="#1c1c1c" stroke="#1c1c1c" stroke-width="0.5" stroke-linejoin="round">0</text>
<text transform="translate(126.6 1258.8) scale(1.374 1)" font-size="18.2" fill="#1c1c1c" stroke="#1c1c1c" stroke-width="0.5" stroke-linejoin="round">200</text>
<text transform="translate(201.1 1292.4) scale(1.355 1)" font-size="18.2" fill="#1c1c1c" stroke="#1c1c1c" stroke-width="0.5" stroke-linejoin="round">156</text>
<text transform="translate(274.9 1327.8) scale(1.323 1)" font-size="18.2" fill="#1c1c1c" stroke="#1c1c1c" stroke-width="0.5" stroke-linejoin="round">113</text>
<text transform="translate(357.4 1360.8) scale(1.413 1)" font-size="18.2" fill="#1c1c1c" stroke="#1c1c1c" stroke-width="0.5" stroke-linejoin="round">69</text>
<text transform="translate(431.2 1394.9) scale(1.437 1)" font-size="18.2" fill="#1c1c1c" stroke="#1c1c1c" stroke-width="0.5" stroke-linejoin="round">25</text>
<text transform="translate(488.8 1394.3) scale(1.310 1)" font-size="18.2" fill="#1c1c1c" stroke="#1c1c1c" stroke-width="0.5" stroke-linejoin="round">0</text>
<text transform="translate(600.7 1369.6) scale(1.163 1)" font-size="18.2" fill="#1c1c1c" stroke="#1c1c1c" stroke-width="0.5" stroke-linejoin="round">45</text>
<text transform="translate(708.8 1342.8) scale(1.185 1)" font-size="18.2" fill="#1c1c1c" stroke="#1c1c1c" stroke-width="0.5" stroke-linejoin="round">90</text>
<text transform="translate(819.4 1317.9) scale(1.216 1)" font-size="18.2" fill="#1c1c1c" stroke="#1c1c1c" stroke-width="0.5" stroke-linejoin="round">135</text>
<text transform="translate(929.5 1291.8) scale(1.212 1)" font-size="18.2" fill="#1c1c1c" stroke="#1c1c1c" stroke-width="0.5" stroke-linejoin="round">180</text>
<text transform="translate(58.6 1105.6) rotate(-90) scale(0.743 1)" font-size="36.4" fill="#1c1c1c" stroke="#1c1c1c" stroke-width="0.5" stroke-linejoin="round">qe (mg/g)</text>
<text transform="translate(1.7 1358.7) scale(1.221 1)" font-size="29.6" fill="#1c1c1c" stroke="#1c1c1c" stroke-width="0.5" stroke-linejoin="round">Concentration (mg/L)</text>
<text transform="translate(686.3 1376.5) scale(1.284 1)" font-size="28.2" fill="#1c1c1c" stroke="#1c1c1c" stroke-width="0.5" stroke-linejoin="round">Time (minute)</text>
<text transform="translate(188.6 759.5) scale(1.438 1)" font-size="17.4" fill="#3a3436" stroke="#3a3436" stroke-width="0.6" stroke-linejoin="round">qe (mg/g)</text>
<rect x="194.8" y="771.3" width="15.7" height="54.3" fill="url(#lg)" stroke="#050508" stroke-width="2"/>
<text transform="translate(216.9 781.7) scale(1.218 1)" font-size="19.6" fill="#ff3040" stroke="#ff3040" stroke-width="0.8" stroke-linejoin="round">320</text>
<text transform="translate(218.8 825.2) scale(1.179 1)" font-size="19.3" fill="#5a30f0" stroke="#5a30f0" stroke-width="0.8" stroke-linejoin="round">10</text>
<path d="M467.5 791.7L468.3 848" stroke="#111" stroke-width="1.5" fill="none"/>
<rect x="428.1" y="770.5" width="39.5" height="20.5" fill="#fff" stroke="#000" stroke-width="1.5"/><text transform="translate(431.1 786) scale(1.248 1)" font-size="16" fill="#1c1c1c" stroke="#1c1c1c" stroke-width="0.5" stroke-linejoin="round">226</text>
</g>
<g id="sc">
<path d="M188.8 1799.3L742.6 1763.3L909.3 1959.3M183 1735.8L745.7 1701.1L917 1890M177.3 1672.4L748.8 1638.9L924.7 1820.8M171.5 1608.9L751.9 1576.7L932.5 1751.5M165.7 1545.4L755 1514.5L940.2 1682.3M165.7 1545.4L195.8 1876.1M940.2 1682.3L899.9 2043M313 1537.7L327.3 1790.3M893.9 1640.3L867.6 1910.3M460.4 1530L465.7 1781.3M847.6 1598.4L825.9 1861.3M607.7 1522.2L604.2 1772.3M801.3 1556.5L784.3 1812.3M755 1514.5L738.9 1838.5" fill="none" stroke="#1c1c1c" stroke-width="1.5" stroke-linejoin="round"/>
<path d="M275 2097.5L195.8 1876.1L738.9 1838.5L899.9 2043Z" fill="#ff0" stroke="#111" stroke-width="1.2" stroke-linejoin="round"/>
<path d="M277.8 1871.2L277.6 1893.1L278 1919.1L280.3 1972.3L285 2032.6L291.6 2095.4" fill="none" stroke="#3030d0" stroke-width="2.9"/>
<path d="M885.5 2044.4L841.5 2013.9L819.4 1999.4L797.3 1985.6L776.5 1973.3L757 1962.5L738.7 1953L721.4 1944.8L705.1 1937.8L689.7 1931.8L675.2 1927L661.4 1923.2L648.4 1920.4L636.1 1918.6L624.5 1917.8L610 1918.1L596.6 1920.2L587.2 1922.9L578.4 1926.6L570.2 1931.3L562.5 1937L555.4 1943.8L548.8 1951.8L542.8 1961L537.5 1971.4L532.7 1983.3L528.5 1996.6L525 2011.4L522.7 2025.2L520.8 2040.4L519.4 2059.7L518.8 2075.9" fill="none" stroke="#40e8a8" stroke-width="2.9"/>
<path d="M195.8 1876.1L275 2097.5L899.9 2043" fill="none" stroke="#000" stroke-width="1.9" stroke-linejoin="round"/>
<g fill="#000"><circle cx="275" cy="2097.5" r="2.1"/><circle cx="275" cy="2097.5" r="2.1"/><circle cx="255.2" cy="2042.2" r="2.1"/><circle cx="431.2" cy="2083.9" r="2.1"/><circle cx="235.4" cy="1986.8" r="2.1"/><circle cx="587.5" cy="2070.2" r="2.1"/><circle cx="215.6" cy="1931.4" r="2.1"/><circle cx="743.7" cy="2056.6" r="2.1"/><circle cx="195.8" cy="1876.1" r="2.1"/><circle cx="899.9" cy="2043" r="2.1"/><circle cx="188.8" cy="1799.3" r="1.9"/><circle cx="183" cy="1735.8" r="1.9"/><circle cx="177.3" cy="1672.4" r="1.9"/><circle cx="171.5" cy="1608.9" r="1.9"/><circle cx="165.7" cy="1545.4" r="1.9"/></g>
<g fill-rule="evenodd"><path fill="#0083ff" d="M446.9 1616l-30.9 9.8-15.4 5.6-20.4 8.1-15.5 6.6-20.2 9.4-30.5 15.7-30.2 17.4-19.9 12.4-15 9.9-29.6 20.9-34.1 26.5 36 75.1 39.9 85.1 17.6-13.4 23.5-17.3 23.7-16.4 17.9-11.9 24-15 18-10.7 24.2-13.6 18.2-9.6 24.4-12.1 18.3-8.5 24.5-10.5 18.4-7.3 24.6-8.9 18.4-6.1 18.4-5.6 24.6-6.6 18.4-4.4 24.5-5 18.3-3.2 24.4-3.4 18.2-1.9 24.2-1.8 18-0.7 24-0.2 17.9 0.5 23.6 1.5 17.7 1.7 23.3 3 17.4 2.8 23 4.6 17.1 4 22.9 6.2-48-35.6-47.6-34.7-43.6-31.3-43.3-30.3-14.6-4.2-19.7-5-19.7-4.2-19.9-3.4-15-2.1-20.1-2-15.1-1.1-15.5-0.6-20.3 0-20.1 0.7-15.4 1-20.5 2.1-15.4 2.2-20.6 3.5-15.4 3.1-15.6 3.7z"/><path fill="#0094ff" d="M594.9 1746.2l39.2-9 19.6-3.6 24.4-3.7 19.4-2.2 24.2-2 19.3-1 24-0.3 19.1 0.4 23.7 1.3 18.8 1.7 23.4 2.9 18.6 3 22.9 4.6 18.3 4.2 22.9 6.2-95.3-70.2-87.2-61.7-19.9-5.6-19.7-4.8-23.4-4.6-19.9-3.1-24.1-2.7-20.2-1.3-20.3-0.6-20.3 0.2-28.6 1.7-24.8 2.7-28.6 4.6-28.8 6.2-24.9 6.5-28.6 9.1-28.7 10.6-28.6 12.2-32.6 15.8-36.3 20.1-36 22.5-35.6 24.8-28.3 21.7 0.1 19.8 33.1 69.1 35.9 76.8 42.3-31.5 23.7-16.4 19.1-12.6 24-15 19.3-11.3 38.7-21.1 24.4-12.1 19.6-9 39.2-16.3 24.5-9.1 19.7-6.5z"/><path fill="#00a4ff" d="M594.9 1746.2l39.2-9 19.6-3.6 24.4-3.7 19.4-2.2 24.2-2 19.3-1 24-0.3 19.1 0.4 23.7 1.3 18.8 1.7 23.4 2.9 18.6 3 22.9 4.6 18.3 4.2 22.9 6.2-95.3-70.2-87.2-61.7-23.5-6.5-23.6-5.5-23.8-4.3-20-2.8-24.2-2.3-20.2-1-24.3-0.2-20.4 0.7-32.8 2.8-29 4.1-32.7 6.7-28.8 7.5-28.8 9.1-28.7 10.6-28.6 12.2-32.6 15.8-32.3 17.7-32.1 19.7-31.7 21.5-33.2 24.8 0.6 40.4 61.6 130.7 42.3-31.5 23.7-16.4 19.1-12.6 24-15 19.3-11.3 38.7-21.1 24.4-12.1 19.6-9 39.2-16.3 24.5-9.1 19.7-6.5z"/><path fill="#00b4ff" d="M594.9 1746.2l39.2-9 19.6-3.6 24.4-3.7 19.4-2.2 24.2-2 19.3-1 24-0.3 19.1 0.4 23.7 1.3 18.8 1.7 23.4 2.9 18.6 3 22.9 4.6 18.3 4.2 22.9 6.2-95.3-70.2-87.2-61.7-23.5-6.5-23.6-5.5-23.8-4.3-24-3.3-24.5-2.1-24-0.9-24.4 0.1-24.5 1.4-20.5 2-16.5 2.1-32.8 5.9-33 8-32.9 10-32.8 12-32.7 14.1-32.6 16-36.2 20.4-20.1 12.3-19.9 13.1-19.7 13.8-22.3 16.5 0.3 28.9 1.1 33.2 53.8 114.5 42.3-31.5 23.7-16.4 19.1-12.6 24-15 19.3-11.3 38.7-21.1 24.4-12.1 19.6-9 39.2-16.3 24.5-9.1 19.7-6.5z"/><path fill="#00c5ff" d="M594.9 1746.2l39.2-9 19.6-3.6 24.4-3.7 19.4-2.2 24.2-2 19.3-1 24-0.3 19.1 0.4 23.7 1.3 18.8 1.7 23.4 2.9 18.6 3 22.9 4.6 18.3 4.2 22.9 6.2-95.3-70.2-87.2-61.7-27.4-7.5-23.6-5.3-27.9-4.7-24.1-2.9-28.2-1.9-24.4-0.4-24.7 0.8-24.3 1.9-16.6 1.9-20.6 3.1-20.3 3.9-16.5 3.8-20.6 5.3-16.5 4.9-16.4 5.4-20.5 7.4-36.8 15.4-36.7 17.9-20.1 11-20.1 11.7-36 23.1-34.8 24.9 0.6 40.9 1.9 44.1 45.5 97 42.3-31.5 23.7-16.4 19.1-12.6 24-15 19.3-11.3 38.7-21.1 24.4-12.1 19.6-9 39.2-16.3 24.5-9.1 19.7-6.5z"/><path fill="#00d5ff" d="M594.9 1746.2l39.2-9 19.6-3.6 24.4-3.7 19.4-2.2 24.2-2 19.3-1 24-0.3 19.1 0.4 23.7 1.3 18.8 1.7 23.4 2.9 18.6 3 22.9 4.6 18.3 4.2 22.9 6.2-95.3-70.2-87.2-61.7-27.4-7.5-27.6-6.1-27.9-4.5-28.1-3-28.6-1.5-28.2 0.1-28.6 1.7-24.6 2.7-20.6 3.1-20.5 3.9-20.6 4.8-16.5 4.3-16.5 4.9-20.5 6.8-20.5 7.6-20.5 8.4-36.7 17.1-20.2 10.5-20.2 11.3-36 22.3-19.9 13.3-19.5 14 0.9 54.5 3 54.7 36.7 78.3 42.3-31.5 23.7-16.4 19.1-12.6 24-15 19.3-11.3 38.7-21.1 24.4-12.1 19.6-9 39.2-16.3 24.5-9.1 19.7-6.5z"/><path fill="#00e5ff" d="M594.9 1746.2l39.2-9 19.6-3.6 24.4-3.7 19.4-2.2 24.2-2 19.3-1 24-0.3 19.1 0.4 23.7 1.3 18.8 1.7 23.4 2.9 18.6 3 22.9 4.6 18.3 4.2 22.9 6.2-95.3-70.2-87.2-61.7-31.3-8.5-27.7-5.8-27.9-4.3-28.2-2.8-32.4-1.3-28.5 0.6-28.6 2.1-28.8 3.7-20.5 3.6-16.5 3.4-33.1 8.5-20.3 6.3-16.5 5.7-36.9 14.5-36.7 17.1-36.4 19.5-36 21.9-35.8 24.5 0.1 30.6 1.2 34.8 1.9 34.9 2.6 34.5 27.2 58.2 42.3-31.5 23.7-16.4 19.1-12.6 24-15 19.3-11.3 38.7-21.1 24.4-12.1 19.6-9 39.2-16.3 24.5-9.1 19.7-6.5z"/><path fill="#00f6ff" d="M594.9 1746.2l39.2-9 19.6-3.6 24.4-3.7 19.4-2.2 24.2-2 19.3-1 24-0.3 19.1 0.4 23.7 1.3 18.8 1.7 23.4 2.9 18.6 3 22.9 4.6 18.3 4.2 22.9 6.2-95.3-70.2-87.2-61.7-31.3-8.5-31.7-6.5-31.9-4.6-32.3-2.5-32.7-0.5-32.4 1.5-28.9 3-32.7 5.4-33 7.4-32.9 9.5-32.8 11.5-32.7 13.6-32.6 15.5-32.4 17.5-32.1 19.4-31.9 21.4 0.2 37.8 1.4 37.8 2.6 40.2 4.1 46.4 16.9 36.4 42.3-31.5 23.7-16.4 19.1-12.6 24-15 19.3-11.3 38.7-21.1 24.4-12.1 19.6-9 39.2-16.3 24.5-9.1 19.7-6.5z"/><path fill="#00fff8" d="M594.9 1746.2l39.2-9 19.6-3.6 24.4-3.7 19.4-2.2 24.2-2 19.3-1 24-0.3 19.1 0.4 23.7 1.3 18.8 1.7 23.4 2.9 18.6 3 22.9 4.6 18.3 4.2 22.9 6.2-63.1-46.7-58.9-42.6-60.5-42.6-3.9-1.2-19.6-5.3-16.1-3.9-19.4-3.9-15.9-2.7-20-2.6-16.1-1.5-32.4-1.5-16.5 0-20.1 0.7-32.8 2.8-20.6 2.8-16.4 2.8-33.1 7.2-28.7 7.9-28.7 9.6-24.7 9.4-28.5 12.4-28.5 13.9-28.3 15.4-28.1 16.9-27.9 18.4-0.1 28.9 0.9 32.8 1.6 32 2.5 33 6.4 64.6 5.9 12.8 42.3-31.5 23.7-16.4 19.1-12.6 24-15 19.3-11.3 38.7-21.1 24.4-12.1 19.6-9 39.2-16.3 24.5-9.1 19.7-6.5z"/><path fill="#00ffe8" d="M594.9 1746.2l39.2-9 19.6-3.6 24.4-3.7 19.4-2.2 24.2-2 19.3-1 24-0.3 19.1 0.4 23.7 1.3 18.8 1.7 23.4 2.9 18.6 3 22.9 4.6 18.3 4.2 22.9 6.2-63.1-46.7-58.9-42.6-60.5-42.6-3.9-1.2-19.6-5.3-16.1-3.9-19.4-3.9-15.9-2.7-20-2.6-16.1-1.5-32.4-1.5-16.5 0-20.1 0.7-32.8 2.8-20.6 2.8-16.4 2.8-33.1 7.2-28.7 7.9-24.6 8.1-28.7 10.9-24.5 10.5-24.5 11.7-28.3 15-28.2 16.4-27.7 17.8 0.2 48.3 2.2 48.5 4.7 56.3 5.9 53.6 38.3-28.5 23.7-16.4 19.1-12.6 24-15 19.3-11.3 38.7-21.1 24.4-12.1 19.6-9 39.2-16.3 24.5-9.1 19.7-6.5z"/><path fill="#00ffd7" d="M594.9 1746.2l39.2-9 19.6-3.6 24.4-3.7 19.4-2.2 24.2-2 19.3-1 24-0.3 19.1 0.4 23.7 1.3 18.8 1.7 23.4 2.9 18.6 3 22.9 4.6 18.3 4.2 22.9 6.2-95.3-70.2-87.2-61.7-19.5-5.5-15.7-3.9-19.8-4.2-15.9-2.7-20-2.8-16.1-1.7-32.3-1.8-20.3 0-16.4 0.5-32.7 2.5-33.1 4.6-20.3 3.9-16.5 3.8-24.9 6.5-28.6 9.1-24.6 9-28.6 12-24.5 11.4-28.4 14.8-24.1 13.9-27.3 17-0.1 46.8 2.2 48.5 4.4 54.8 6.2 55.8 39.6-28.8 38.1-25.4 24-14.8 19.3-11.2 38.8-20.8 24.4-11.9 19.6-8.9 39.2-16 39.3-13.7z"/><path fill="#00ffc7" d="M594.9 1746.2l39.2-9 19.6-3.6 24.4-3.7 19.4-2.2 24.2-2 19.3-1 24-0.3 19.1 0.4 23.7 1.3 18.8 1.7 23.4 2.9 18.6 3 22.9 4.6 18.3 4.2 22.9 6.2-95.3-70.2-87.2-61.7-19.5-5.5-15.7-3.9-31.7-6.3-32.3-4.3-19.9-1.7-16.2-0.7-20.3-0.3-16.3 0.4-32.7 2.3-16.6 1.9-20.4 3.1-32.9 6.7-24.7 6.3-24.8 7.6-28.6 10.1-24.6 10-28.5 13-24.4 12.4-24.2 13.5-26.5 16.1-0.5 20.9 0.1 24.5 2 49 4.2 53.3 6.5 57.6 40.7-29 38.2-24.9 38.5-22.7 38.9-20.6 39.1-18.3 39.2-16 39.3-13.7z"/><path fill="#00ffb7" d="M619.4 1740.3l39.2-7.5 38.9-5.1 38.7-2.8 19.2-0.5 23.9 0.2 37.9 2.3 37.5 4.5 36.8 6.9 18.3 4.2 22.9 6.2-95.3-70.2-87.2-61.7-19.5-5.5-15.7-3.9-31.7-6.3-32.3-4.3-19.9-1.7-16.2-0.7-20.3-0.3-16.3 0.4-32.7 2.3-16.6 1.9-20.4 3.1-32.9 6.7-24.7 6.3-24.6 7.5-24.7 8.7-24.6 9.8-24.5 10.9-24.4 12-24.3 13.2-25.5 15-0.6 22.4 0 21.4 1.8 50.3 4.1 51.6 6.6 58.9 41.6-29.1 38.3-24.4 24.1-14.1 19.4-10.7 38.9-19.7 24.5-11.2 19.6-8.3 39.2-14.9 39.3-12.5 19.7-5.4z"/><path fill="#00ffa6" d="M619.4 1740.3l39.2-7.5 38.9-5.1 38.7-2.8 19.2-0.5 23.9 0.2 37.9 2.3 37.5 4.5 36.8 6.9 18.3 4.2 22.9 6.2-95.3-70.2-87.2-61.7-19.5-5.5-15.7-3.9-31.7-6.3-32.3-4.3-19.9-1.7-16.2-0.7-20.3-0.3-16.3 0.4-32.7 2.3-32.9 4.3-32.9 6.4-24.7 6.2-24.7 7.3-24.6 8.4-20.6 8-24.4 10.5-24.5 11.7-24.3 12.7-24.2 13.9-0.8 21.5-0.1 21 0.5 25.6 1.1 26.2 3.9 50.3 6.6 59.3 42.4-29 38.4-23.8 38.7-21.7 39-19.4 24.5-11 19.6-8.2 39.2-14.6 39.4-12.2z"/><path fill="#00ff96" d="M619.4 1740.3l39.2-7.5 38.9-5.1 38.7-2.8 19.2-0.5 23.9 0.2 37.9 2.3 37.5 4.5 36.8 6.9 18.3 4.2 22.9 6.2-95.3-70.2-87.2-61.7-19.5-5.5-15.7-3.9-31.7-6.3-32.3-4.3-32-2.3-20.3-0.4-16.3 0.2-32.7 2.1-32.9 4.1-32.9 6.1-24.7 6-20.6 5.8-24.6 8.1-24.6 9.2-24.5 10.4-20.5 9.5-24.3 12.3-22.6 12.6-0.9 20.1-0.4 24.5 0.4 23.3 1 25.4 3.8 50.8 6.6 59.1 38.2-25.7 38.4-23.5 38.8-21.4 39-19.2 39.2-16.9 39.2-14.6 39.4-12.2z"/><path fill="#00ff86" d="M619.4 1740.3l39.2-7.5 38.9-5.1 38.7-2.8 19.2-0.5 23.9 0.2 37.9 2.3 37.5 4.5 36.8 6.9 18.3 4.2 22.9 6.2-95.3-70.2-87.2-61.7-19.5-5.5-15.7-3.9-31.7-6.3-32.3-4.3-32-2.3-32.5-0.3-32.7 1.8-32.9 3.8-32.8 5.9-20.8 4.8-24.5 6.7-20.6 6.5-24.6 8.8-20.5 8.3-24.5 10.9-24.4 12-20.5 11-1.3 22.1-0.5 20 0.2 23.8 0.8 24.3 1.8 29.2 2.1 24.9 6.5 58.2 38.5-25.3 38.5-23 38.8-20.8 34.2-16.4 39.2-16.6 39.3-14.3 34.4-10.6z"/><path fill="#00ff75" d="M619.4 1740.3l39.2-7.5 38.9-5.1 38.7-2.8 19.2-0.5 23.9 0.2 37.9 2.3 37.5 4.5 36.8 6.9 18.3 4.2 22.9 6.2-95.3-70.2-87.2-61.7-31.3-8.5-31.7-6.5-31.9-4.6-32.3-2.5-32.7-0.5-32.4 1.5-32.9 3.6-32.9 5.6-24.6 5.6-20.6 5.5-20.7 6.4-20.5 7.1-20.5 7.9-24.4 10.5-20.4 9.6-22.2 11.5-1.3 18.2-0.9 23.7 0 22.8 0.6 23.4 1.5 27.9 2.3 28.8 6.4 57 33.8-21.9 38.5-22.7 38.9-20.6 34.2-16.1 39.2-16.3 34.4-12.4 34.4-10.6z"/><path fill="#00ff65" d="M643.9 1735.3l34.2-5.4 38.8-3.9 33.7-1.5 38.3 0.5 33 2.3 37.4 4.9 36.8 7.1 36.6 9.4-95.3-70.2-87.2-61.7-31.3-8.5-31.7-6.5-31.9-4.6-32.3-2.5-32.7-0.5-32.4 1.5-28.9 3-32.7 5.4-20.6 4.4-20.6 5.2-20.6 6-20.5 6.8-20.5 7.6-20.5 8.4-20.4 9.2-23.3 11.4-2 22.7-0.9 21.8-0.2 21.4 0.6 25.1 1.4 27.6 2.2 27.4 6.1 55.2 38.5-24.2 38.7-21.9 38.9-19.7 39.2-17.5 39.2-15.1 34.4-11.4 39.3-10.8z"/><path fill="#0f5" d="M643.9 1735.3l34.2-5.4 38.8-3.9 33.7-1.5 38.3 0.5 33 2.3 37.4 4.9 36.8 7.1 36.6 9.4-95.3-70.2-87.2-61.7-31.3-8.5-31.7-6.5-31.9-4.6-28.2-2.3-32.5-0.8-32.7 1.3-32.7 3.3-28.8 4.6-20.6 4.2-20.6 5.1-16.4 4.6-20.6 6.5-20.5 7.3-20.5 8.1-20.4 8.8-19.9 9.4-2.2 20.5-1.3 21.9-0.5 23.3 0.2 20.7 1.1 27.4 1.7 23.9 3 31.4 3.7 31.3 38-23.2 38.8-21.4 39-19.2 34.3-14.9 39.2-14.9 34.4-11.1 34.4-9.3z"/><path fill="#0f4" d="M643.9 1735.3l34.2-5.4 38.8-3.9 33.7-1.5 38.3 0.5 33 2.3 37.4 4.9 36.8 7.1 36.6 9.4-95.3-70.2-87.2-61.7-31.3-8.5-31.7-6.5-31.9-4.6-28.2-2.3-32.5-0.8-28.6 1-32.7 3.1-28.8 4.3-16.6 3.3-20.6 4.7-20.4 5.5-16.5 5-16.4 5.5-20.5 7.6-20.5 8.4-19.8 8.9-2.6 19.5-1.7 20.6-0.9 23.1 0 25.9 1 25.8 1.7 25 2.6 28.6 3.6 31.3 37.4-22.3 33.9-18.3 39.1-18.9 34.3-14.7 34.3-12.9 34.4-11.1 34.4-9.3z"/><path fill="#00ff34" d="M643.9 1735.3l34.2-5.4 38.8-3.9 33.7-1.5 38.3 0.5 33 2.3 37.4 4.9 36.8 7.1 36.6 9.4-95.3-70.2-87.2-61.7-31.3-8.5-28-5.9-31.6-4.7-28.5-2.6-32.1-1-28.8 0.8-32.5 2.8-28.8 4.1-32.9 6.7-20.6 5.2-16.5 4.7-16.4 5.3-20.5 7.3-35.4 14.4-3.2 19.5-2.1 19.5-1.3 21.8-0.4 24.3 0.7 27.5 1.6 27.4 2.4 26.9 3.6 32.3 36.4-21.1 34-17.9 34.2-16.1 34.3-14.4 34.3-12.7 34.4-10.8 34.4-9z"/><path fill="#00ff24" d="M643.9 1735.3l34.2-5.4 38.8-3.9 33.7-1.5 38.3 0.5 33 2.3 37.4 4.9 36.8 7.1 36.6 9.4-95.3-70.2-87.2-61.7-31.3-8.5-28-5.9-31.6-4.7-28.2-2.6-32.4-1-28.5 0.8-28.7 2.3-28.8 3.9-32.9 6.4-33.1 8.5-32.7 10.5-33.7 12.9-4.1 20.6-2.5 18.4-1.6 20.5-0.9 23.4 0.3 25.5 1.3 29.2 2.8 33.1 3.1 27.9 30.1-17.1 34.1-17.7 34.2-15.9 34.3-14.1 34.4-12.4 29.4-9.2 34.4-9z"/><path fill="#00ff13" d="M668.3 1731.3l34.1-4.1 33.8-2.3 33.6-0.5 33.3 1.4 32.9 3.1 32.6 4.8 32.1 6.6 32 8.4-87.4-64.5-80.7-57.3-25.9-13.4-27.7-7-27.7-5.4-28-3.9-28.2-2.3-28.4-0.8-28.5 0.8-28.7 2.3-24.7 3.3-28.9 5.3-32.8 7.9-28.9 8.7-30.7 10.9-4.5 17.4-3.9 22.5-2.1 19.6-1.2 23.2-0.2 22.8 0.9 29.1 2.1 29.7 3.5 33.7 38.1-20.7 34.2-16.7 34.3-14.9 34.3-13.1 34.4-11.4 34.4-9.5 34.3-7.8z"/><path fill="#00ff03" d="M668.3 1731.3l34.1-4.1 33.8-2.3 33.6-0.5 33.3 1.4 32.9 3.1 32.6 4.8 32.1 6.6 32 8.4-78.1-57.7-73.9-52.9-29.7-15.2-28.2-13.6-27.6-6.1-23.9-3.9-24.1-2.9-24.2-1.7-24.3-0.6-24.5 0.6-24.7 1.7-24.5 2.9-28.7 4.8-28.8 6.4-28.9 7.9-26.4 8.8-5.3 16-4.7 20.6-3.4 22.9-1.7 21.5-0.7 25.4 0.6 29.3 2 30.8 3.1 30.9 31-16.5 34.2-16.4 34.3-14.7 34.3-12.9 29.5-9.6 34.4-9.5 34.3-7.8z"/><path fill="#0eff00" d="M668.3 1731.3l34.1-4.1 33.8-2.3 33.6-0.5 33.3 1.4 32.9 3.1 32.6 4.8 32.1 6.6 32 8.4-68.6-50.8-65-46.8-48.8-24.9-45.4-21-21.6-4.1-20-2.9-24.1-2.5-20.2-1.2-24.4-0.4-20.4 0.6-24.5 1.7-20.7 2.3-24.5 3.8-24.7 5-24.7 6.2-24.2 7.2-7 16.5-5.6 18.7-4.3 21.7-3 25.3-1.2 28.3 0.2 26.7 1.6 28.9 2.9 30.8 33.2-16.9 29.4-13.6 34.3-14.1 29.4-10.8 29.5-9.4 34.4-9.3 29.4-6.5z"/><path fill="#1eff00" d="M668.3 1731.3l34.1-4.1 33.8-2.3 33.6-0.5 33.3 1.4 32.9 3.1 32.6 4.8 32.1 6.6 32 8.4-59-43.7-55-39.9-36.9-19.4-33.5-16.5-32.1-14.6-32.2-13.4-16.7-2.5-20.1-2.3-16.4-1.3-20.2-0.9-20.3 0-20.1 0.7-20.5 1.5-16.4 1.8-20.6 2.9-20.6 3.8-20.5 4.6-19.1 4.9-4.9 7.9-3.8 7.2-6.7 16.3-5.5 18.9-4.1 21.3-2.3 19.8-1.3 21.3-0.1 25.7 1 25.5 2.6 32.7 30.1-14.8 29.4-13.1 29.4-11.8 29.5-10.5 29.4-9.2 29.5-7.9 29.4-6.5z"/><path fill="#2eff00" d="M692.7 1728.2l29-2.5 28.9-1.2 28.7 0.1 33.2 1.9 28.2 3 32.5 5.1 27.5 5.7 32 8.4-93.1-68.5-39.7-21.2-39-19.4-34-15.5-35.2-14.5-33.7-12.1-18.8-1.8-24.3-1.3-24.6-0.2-24.3 0.9-24.5 2.1-32.9 4.6-29.3 5.8-6.9 7.5-4.6 6-5.7 9-4.4 8.2-6.1 14.7-4.9 15.9-4.2 20-2.6 20.2-1.3 21-0.3 23.6 0.9 26.7 1.8 23.7 31.2-14.6 29.4-12.5 34.3-12.9 29.5-9.6 29.5-8.3 34.3-8 29.4-5.4z"/><path fill="#3fff00" d="M692.7 1728.2l29-2.5 28.9-1.2 28.7 0.1 33.2 1.9 28.2 3 32.5 5.1 27.5 5.7 32 8.4-70.8-52.3-40.3-21.9-41.5-21-35.6-16.6-36.4-15.3-22.9-8.5-22.5-7.5-22.6-6.4-20.6-4.7-16.8-0.4-20.3 0.2-20.5 1.1-16.3 1.4-27 3.4-7.5 3.9-8.7 5.7-9.6 8.3-8.1 9.3-8.4 12.5-5.9 11.7-4.9 12.8-4.2 14.3-3.4 16.3-2.5 18.2-1.5 20.6-0.4 17.6 0.5 22.8 1.3 23 31.6-14.1 29.4-11.8 29.5-10.5 29.4-9.2 29.5-7.9 29.4-6.5 29.3-5.2z"/><path fill="#4fff00" d="M692.7 1728.2l29-2.5 28.9-1.2 28.7 0.1 33.2 1.9 28.2 3 32.5 5.1 27.5 5.7 32 8.4-46.9-34.8-11-6.2-41.1-22.3-36.5-18.6-34.1-16.1-30.5-13.3-23.3-9.1-24.1-8.6-19.5-6-21.5-5.6-21-4.2-17.4-2.2-15.6-1-17 0.5-15.3 2-11.1 2.7-12.3 4.5-10.5 5.5-10.8 7.8-8.3 8-7.2 8.7-7.6 12.2-6.2 13.3-4.7 13.5-3.8 15.2-3 17.2-1.8 17.8-0.9 16.5-0.1 23.4 0.9 20.7 26.2-11.2 29.4-11.4 29.5-10 24.6-7.4 24.5-6.5 29.4-6.5 29.3-5.2z"/><path fill="#5fff00" d="M716.9 1726l24.1-1.3 28.8-0.3 28.5 1.1 28.3 2.3 23.4 2.9 27.8 4.8 27.4 5.9 27.5 7.3-21.2-15.8-33.8-19.1-31.4-16.9-29.3-15-30.1-14.6-28-12.6-25.4-10.5-23.6-8.8-20.4-6.8-18.1-5.3-18.5-4.5-19.6-3.6-14.7-1.8-13.9-0.8-17.2 0.4-13.9 1.9-12.9 3.1-10.3 3.8-9.6 4.8-8.9 6-8.2 7.1-7.5 8.3-7.5 11-5.2 9.7-5.2 12.6-4.4 14.3-3.4 16.2-2.3 16.8-1.3 15-0.6 20.3 0.4 19.3 24.7-10 29.4-10.8 29.5-9.4 29.5-8 29.4-6.8 29.4-5.4 29.2-4.1z"/><path fill="#70ff00" d="M716.9 1726l24.1-1.3 28.8-0.3 23.8 0.8 28.3 2.1 23.5 2.8 27.8 4.5 27.5 5.7 28.1 7.3-56.8-31.7-50-25.8-44.8-20.9-21.4-9.1-21.8-8.5-20.4-7.2-19-6-17.9-4.8-16.7-3.7-15.8-2.6-14.7-1.5-13.9-0.5-13 0.5-12.2 1.5-11.4 2.6-10.7 3.6-9.8 4.7-9.2 5.9-8.3 7.1-6.8 7.3-5.5 7.3-6.3 10.7-5.5 12.3-4.1 12.1-3.1 12.2-2.6 14.4-1.8 15.6-0.9 13.9-0.3 19 26.9-10.1 24.6-8.3 24.6-7.4 29.4-7.6 24.5-5.4 29.3-5.2 24.4-3.3z"/><path fill="#80ff00" d="M716.9 1726l24.1-1.3 24-0.3 23.9 0.6 28.3 1.9 23.5 2.6 23.2 3.4 23.1 4.4 24.4 5.6-46.2-24.9-47.3-23.5-41.5-18.6-36.9-14.3-32.8-10.6-29.4-7.1-16.2-2.8-13.2-1.5-11.5-0.6-13.7 0.1-12.5 1.3-11 2.1-8.2 2.4-10.5 4.2-9.7 5.4-8 5.9-6.3 5.8-7.5 8.9-5.5 8.3-5.1 9.7-4.4 10.8-3.8 11.9-2.5 10.6-2.1 12.2-1.5 12.5-1.1 17.7 22.8-8 24.5-7.8 24.6-6.8 24.5-5.9 24.5-5 24.4-4 24.4-3.1z"/><path fill="#90ff00" d="M716.9 1726l19.3-1.1 24-0.5 19.1 0.2 23.8 1.2 18.8 1.5 23.5 2.8 23.2 3.6 23.4 4.6-40.7-20.8-36.1-17.1-34.9-14.9-34.2-12.7-27.9-8.5-28.4-6.6-15.9-2.5-10.3-1-13.2-0.6-10.6 0.2-11.3 1.1-9.5 1.7-11.4 3.2-7.1 2.9-6.8 3.3-7.7 5-7.4 6-5.4 5.5-6.3 7.8-5.5 8.7-4 7.8-3.6 8.7-3.1 9.5-2.7 10.3-2.1 11.4-1.9 14.7 21.4-6.9 19.7-5.7 19.6-5.1 24.5-5.5 19.6-3.8 24.4-3.8 19.5-2.4z"/><path fill="#a1ff00" d="M712.1 1726.3l38.5-1.8 19.2-0.1 23.8 0.8 37.7 3.1 38.4 5.6-31.6-15.1-32.5-14.3-30.8-12-27.9-9.3-25.4-6.8-23.1-4.5-21-2.2-19.1-0.1-17.3 2.1-8 1.8-7.6 2.5-7.2 3-6.8 3.6-6.3 4.2-6 4.8-5.5 5.4-5.1 6.2-4.7 6.8-4.2 7.6-3.8 8.4-3.4 9.3-4.6 18.5 36.9-10.1 34.3-7.5 34.2-5.6z"/><path fill="#b1ff00" d="M712.1 1726.3l33.7-1.7 33.5 0 33.2 1.9 30.5 3.2-29-12.3-23.3-8.8-21.5-7.2-19.9-5.7-18.6-4.4-18.2-3-19.1-1.7-15.5 0.1-15.8 1.8-13.9 3.6-11 4.6-10 5.9-9 7.5-5.4 5.8-4.4 5.7-7.3 12.2-5.1 12.1 28.3-6.7 29.4-5.6 29.2-4.3z"/><path fill="#c1ff00" d="M760.2 1724.4l23.9 0.4 23.7 1.2-14.5-4.9-18.3-5.5-27.8-6.5-11.7-2-15.2-1.6-11.6-0.5-9.7 0.3-9.3 0.8-11.1 2-9.8 2.9-7.5 3.1-8.8 4.8-7.9 5.8-5.8 5.5-6.1 7.3 30.7-5.5 34.1-4.3 29.1-2.3z"/></g>
<g fill="#000" fill-rule="evenodd"><path fill-opacity="0.2" d="M476.1 1786l-21 6.9-25.5 10.1-19.9 9.4-24.2 13.1-23.6 14.7-23.1 16.3-22.7 17.9-19.7 17.5 45-30.8 24-15.1 24.1-14.3 24.2-13.5 24.3-12.6 24.4-11.7 23.3-10.3z"/><path fill-opacity="0.3" d="M439.8 1798.9l25.8-9.4 19.8-5.8 35.8-14.2 39.3-13.5 19.7-5.8 24.5-6.5 19.6-4.5 22.8-4.5-15.5-2.7-19.8-2.9-17-1.9-20.5-1.7-17.7-0.8-18.3-0.2-17.8 0.5-17.3 1.2-16.9 1.8-16.4 2.4-16.1 3.1-15.8 3.7-15.2 4.3-15 4.9-14.4 5.9-14.1 6.5-18.5 9.5-18 10.5-17.8 11.5-17.3 12.4-17.1 13.4-16.9 14.3-16.6 15.2-20.5 20.3 24.5 52.6 35.7-26.8 15-13.4 18-14.7 18.2-13.7 13.9-9.6 18.9-11.9 19.2-10.8 19.7-9.9z"/><path fill-opacity="0.4" d="M415.3 1708.5l-19.5 5.7-23.8 8.5-18.5 8-18 9-17.3 10.3-21.2 14.2-20.7 15.7-20.4 17-16 14.8-19.7 19.5 16.5 34.9 24.7-24.2 20.8-18.6 25.6-20.4 21.7-15.4 26.9-16.5 23-12 23.6-10.5 19.8-6.9 23.3-6.2 23.8-4.8 22-3.1 26.3-2.2 32.3-0.6 31.3 1.5 33 3.5 31.9 5.1 31.4-4.9 27.7-3-16.6-4.9-23.5-6.2-41.4-9.1-38.4-6.2-19.3-2.1-18.7-1.5-18.2-0.8-17.6-0.1-17.2 0.5-16.7 1.2-16.3 1.8-15.9 2.4-15.5 3z"/><path fill-opacity="0.5" d="M417.7 1675.5l-23.5 5.7-19.3 6-18.2 6.7-22.2 9.8-17.2 8.9-21.1 12.4-20.5 13.8-16 12.1-11.8 9.8-15.6 13.7-26.8 26 14.8 30.9 27.7-27 24.3-21 16.4-12.9 12.6-9 25.6-16.5 13.1-7.5 9-4.4 13.7-6.3 14.1-5.7 14.2-5.1 14.6-4.5 14.9-4 15.2-3.4 26.2-4.4 27.4-2.6 28.6-0.9 31.7 1.1 36.3 3.5 19.9 2.9 20.6 3.7 39.3 8.7 39.7 10.9 21.2-1.5 22.4-0.9-23.3-9-28.1-10.1-28.6-9.4-24.6-7.4-15-4.2-21.1-4.8-20.2-3.9-19.6-3.2-19-2.5-22.5-1.8-13.2-0.6-22.7-0.1-18 0.7-19.7 1.6-15.5 2z"/><path fill-opacity="0.6" d="M406.3 1662l-15.1 3.5-17.8 5-18.2 6.3-17.6 7.1-13 6-16.9 8.7-16.5 9.7-16.3 10.5-19.8 14.4-19.4 15.8-19 17.1-18.8 18.4 7.7 16.1 15.3-15.3 15.4-14.3 15.1-13.1 12.4-10 16.1-11.8 12.3-8.3 25.1-15 17.3-8.9 13.2-6.1 18-7.2 13.8-4.8 14.6-4.5 18.8-4.7 14.8-2.9 15.9-2.5 15-1.8 16-1.2 28.7-0.7 34 1.6 12.1 1.1 25.4 3.4 19.8 3.4 20.5 4.2 14.1 3.3 19.5 5.5 23 7 25.7 8.6 28.2 10.1 22.9 8.8 28.7 0.1-25.9-10.6-28.5-10.8-27.2-9.6-24.6-8-26.2-7.8-24.7-6.5-27.7-6.4-17.6-3.3-20.9-3.1-24.4-2.7-23.3-1.5-20.7-0.4-18.1 0.4-21.1 1.5-20.3 2.6z"/><path fill-opacity="0.6" d="M418.8 1644l-19.3 3.3-18.9 4.3-18.3 5.2-17.7 6.1-17.4 7-16.8 8-16.5 8.8-16.2 9.7-22.1 15-20.7 16.1-22.5 19.6-22.2 21.6 7.8 16 15-14.9 15.2-14 15.3-13.2 11.7-9.3 15.8-11.6 16.2-10.8 16.4-9.8 12.6-6.8 17.1-8.3 13.1-5.6 17.9-6.7 13.7-4.4 18.8-5 14.5-3.2 15.4-2.6 19.7-2.5 15.8-1.2 16.1-0.7 16.6 0 17.1 0.6 17.6 1.2 18.2 1.9 18.7 2.6 19.4 3.3 20.3 4.4 23.9 5.9 23.5 6.5 23.3 7.1 48.8 16.8 28.5 10.9 22.6 9.3 20.9 0.8-26.4-11.5-29-11.9-27.6-10.6-28.4-10.1-27.2-8.9-26.1-7.8-25-6.7-23.8-5.5-23.6-4.6-18.9-3-20.3-2.3-23.2-1.8-19.2-0.5-19.6 0.3-20.4 1.2z"/><path fill-opacity="0.7" d="M426.1 1627.9l-23.5 2.7-25.5 10.2-20.4 9-20.4 9.8-36.4 19.5-36 21.9-19.9 13.3-19.7 13.9-19.6 14.6-19.5 15.5 5.1 10.6 14.8-14.6 14.8-13.8 15.1-12.9 15.3-12.1 15.6-11.2 15.9-10.3 16.2-9.5 12.4-6.5 16.9-7.9 17.3-7.1 13.9-4.8 17.5-5.3 16.6-4 16.7-3.2 19.6-2.8 18-1.6 18.3-0.9 17.6 0 18.2 0.7 20.4 1.5 17.9 2.1 18.7 2.7 38.3 7.9 22.3 5.5 23.6 6.6 25.2 7.8 25.1 8.4 26.3 9.6 25.7 9.9 52.8 22.3 20.7 1.5-30.2-13.9-31.6-13.7-31.1-12.7-30.3-11.5-29.4-10.3-27.5-8.8-26.9-7.7-25-6.3-24-5.2-25.3-4.6-24.1-3.2-20.2-1.8-24.4-0.9-21.5 0.3z"/><path fill-opacity="0.8" d="M442.8 1617.2l-20.6 6.5-20 7.1 24-2.8 20.4-1.3 21.1-0.2 22 0.7 22.9 1.9 18.2 2.4 24.7 4.2 24.8 5.1 21.8 5.3 22.6 6.2 24.5 7.4 24.2 8 34.8 12.6 34.6 13.6 37.3 15.9 37.5 17.1 20.7 2.2-29.1-14-33.7-15.6-31-13.5-28.3-11.7-27.8-10.7-28.8-10.3-25.9-8.6-26.2-7.8-26.7-7.1-27.3-6.1-26.2-4.9-23.8-3.4-22.9-2.2-19.9-1z"/><path fill-opacity="0.9" d="M483.9 1606.6l-23.6 5.7 20.3 1.1 21.1 2 20.6 2.8 22.8 3.9 39.9 8.9 40.8 11.4 23.5 7.5 25.8 9 51.4 19.7 54.1 23.4 57.3 27.1 20.7 2.9-33.5-16.9-32.8-15.9-32.5-14.9-32.2-14.1-29.7-12.2-30.2-11.5-29.2-10.3-27.5-8.8-27.9-8-28.5-7-25.5-5.3-25.8-4.4z"/><path fill-opacity="1" d="M537.4 1597.7l-34.5 5.1 35.7 6.3 35.1 8 37.2 10.4 37.5 12.3 47 17.4 51.9 21.7 55 25.3 55.9 27.8 19.6 3.5 18.3 3.8 36.6 9.4-95.3-70.2-87.2-61.7-31.3-8.5-28-5.9-31.6-4.7-28.5-2.6-32.1-1-28.8 0.8z"/></g>
<path d="M446.9 1616l-30.9 9.8-15.4 5.6-20.4 8.1-15.5 6.6-20.2 9.4-30.5 15.7-30.2 17.4-19.9 12.4-15 9.9-29.6 20.9-34.1 26.5 36 75.1 39.9 85.1 17.6-13.4 23.5-17.3 23.7-16.4 17.9-11.9 24-15 18-10.7 24.2-13.6 18.2-9.6 24.4-12.1 18.3-8.5 24.5-10.5 18.4-7.3 24.6-8.9 18.4-6.1 18.4-5.6 24.6-6.6 18.4-4.4 24.5-5 18.3-3.2 24.4-3.4 18.2-1.9 24.2-1.8 18-0.7 24-0.2 17.9 0.5 23.6 1.5 17.7 1.7 23.3 3 17.4 2.8 23 4.6 17.1 4 22.9 6.2-48-35.6-47.6-34.7-43.6-31.3-43.3-30.3-14.6-4.2-19.7-5-19.7-4.2-19.9-3.4-15-2.1-20.1-2-15.1-1.1-15.5-0.6-20.3 0-20.1 0.7-15.4 1-20.5 2.1-15.4 2.2-20.6 3.5-15.4 3.1-15.6 3.7z" fill="url(#pc)" fill-rule="evenodd" stroke="#000" stroke-width="1.7" stroke-linejoin="round"/>
<path d="M165.7 1545.4L195.8 1876.1" stroke="#111" stroke-width="1.7" fill="none"/>
<text transform="translate(100.9 1540.2) scale(1.494 1)" font-size="18.2" fill="#1c1c1c" stroke="#1c1c1c" stroke-width="0.5" stroke-linejoin="round">250</text>
<text transform="translate(108.2 1602.6) scale(1.585 1)" font-size="18.2" fill="#1c1c1c" stroke="#1c1c1c" stroke-width="0.5" stroke-linejoin="round">188</text>
<text transform="translate(113.6 1667.1) scale(1.543 1)" font-size="18.2" fill="#1c1c1c" stroke="#1c1c1c" stroke-width="0.5" stroke-linejoin="round">125</text>
<text transform="translate(132.9 1730.6) scale(1.626 1)" font-size="18.2" fill="#1c1c1c" stroke="#1c1c1c" stroke-width="0.5" stroke-linejoin="round">63</text>
<text transform="translate(156.2 1793) scale(1.397 1)" font-size="18.2" fill="#1c1c1c" stroke="#1c1c1c" stroke-width="0.5" stroke-linejoin="round">0</text>
<text transform="translate(148.5 1896.5) scale(1.525 1)" font-size="18.2" fill="#1c1c1c" stroke="#1c1c1c" stroke-width="0.5" stroke-linejoin="round">12</text>
<text transform="translate(170 1950) scale(1.439 1)" font-size="18.2" fill="#1c1c1c" stroke="#1c1c1c" stroke-width="0.5" stroke-linejoin="round">10</text>
<text transform="translate(201.5 2005.8) scale(1.526 1)" font-size="18.2" fill="#1c1c1c" stroke="#1c1c1c" stroke-width="0.5" stroke-linejoin="round">7</text>
<text transform="translate(221.9 2060.9) scale(1.465 1)" font-size="18.2" fill="#1c1c1c" stroke="#1c1c1c" stroke-width="0.5" stroke-linejoin="round">5</text>
<text transform="translate(239.5 2115.2) scale(1.617 1)" font-size="18.2" fill="#1c1c1c" stroke="#1c1c1c" stroke-width="0.5" stroke-linejoin="round">2</text>
<text transform="translate(293 2115.1) scale(1.592 1)" font-size="18.2" fill="#1c1c1c" stroke="#1c1c1c" stroke-width="0.5" stroke-linejoin="round">0</text>
<text transform="translate(450.6 2103) scale(1.504 1)" font-size="18.2" fill="#1c1c1c" stroke="#1c1c1c" stroke-width="0.5" stroke-linejoin="round">45</text>
<text transform="translate(605.9 2090.4) scale(1.533 1)" font-size="18.2" fill="#1c1c1c" stroke="#1c1c1c" stroke-width="0.5" stroke-linejoin="round">90</text>
<text transform="translate(762.7 2076.2) scale(1.540 1)" font-size="18.2" fill="#1c1c1c" stroke="#1c1c1c" stroke-width="0.5" stroke-linejoin="round">135</text>
<text transform="translate(919.7 2062.7) scale(1.490 1)" font-size="18.2" fill="#1c1c1c" stroke="#1c1c1c" stroke-width="0.5" stroke-linejoin="round">180</text>
<text transform="translate(79.4 1773.1) rotate(-90) scale(0.733 1)" font-size="35.4" fill="#1c1c1c" stroke="#1c1c1c" stroke-width="0.5" stroke-linejoin="round">qe (mg/g)</text>
<text transform="translate(132.6 1993.7) rotate(-90) scale(0.665 1)" font-size="44.1" fill="#1c1c1c" stroke="#1c1c1c" stroke-width="0.5" stroke-linejoin="round">pH</text>
<text transform="translate(516.5 2132.7) scale(1.355 1)" font-size="30.9" fill="#1c1c1c" stroke="#1c1c1c" stroke-width="0.5" stroke-linejoin="round">Time (minute)</text>
<text transform="translate(226.1 1451.7) scale(1.749 1)" font-size="16.6" fill="#3a3436" stroke="#3a3436" stroke-width="0.6" stroke-linejoin="round">qe (mg/g)</text>
<rect x="233.6" y="1463.2" width="17.6" height="53" fill="url(#lg)" stroke="#050508" stroke-width="2"/>
<text transform="translate(258.4 1473.7) scale(1.403 1)" font-size="19.7" fill="#ff3040" stroke="#ff3040" stroke-width="0.8" stroke-linejoin="round">320</text>
<text transform="translate(260.1 1515.8) scale(1.339 1)" font-size="19.3" fill="#5a30f0" stroke="#5a30f0" stroke-width="0.8" stroke-linejoin="round">10</text>
<rect x="679.3" y="1648.7" width="42.9" height="18.8" fill="#fff"/>
<text transform="translate(681.4 1664) scale(1.324 1)" font-size="17" fill="#223" stroke="#223" stroke-width="0.3" stroke-linejoin="round">226</text>
</g>
<g id="ca">
<rect x="1210.3" y="86.30" width="775" height="15.58" fill="url(#ag0)"/>
<rect x="1210.3" y="101.48" width="775" height="15.98" fill="url(#ag1)"/>
<rect x="1210.3" y="117.06" width="775" height="15.98" fill="url(#ag2)"/>
<rect x="1210.3" y="132.64" width="775" height="15.98" fill="url(#ag3)"/>
<rect x="1210.3" y="148.22" width="775" height="15.98" fill="url(#ag4)"/>
<rect x="1210.3" y="163.80" width="775" height="15.98" fill="url(#ag5)"/>
<rect x="1210.3" y="179.38" width="775" height="15.98" fill="url(#ag6)"/>
<rect x="1210.3" y="194.96" width="775" height="15.98" fill="url(#ag7)"/>
<rect x="1210.3" y="210.54" width="775" height="15.98" fill="url(#ag8)"/>
<rect x="1210.3" y="226.11" width="775" height="15.98" fill="url(#ag9)"/>
<rect x="1210.3" y="241.69" width="775" height="15.98" fill="url(#ag10)"/>
<rect x="1210.3" y="257.27" width="775" height="15.98" fill="url(#ag11)"/>
<rect x="1210.3" y="272.85" width="775" height="15.98" fill="url(#ag12)"/>
<rect x="1210.3" y="288.43" width="775" height="15.98" fill="url(#ag13)"/>
<rect x="1210.3" y="304.01" width="775" height="15.98" fill="url(#ag14)"/>
<rect x="1210.3" y="319.59" width="775" height="15.98" fill="url(#ag15)"/>
<rect x="1210.3" y="335.17" width="775" height="15.98" fill="url(#ag16)"/>
<rect x="1210.3" y="350.75" width="775" height="15.98" fill="url(#ag17)"/>
<rect x="1210.3" y="366.33" width="775" height="15.98" fill="url(#ag18)"/>
<rect x="1210.3" y="381.91" width="775" height="15.98" fill="url(#ag19)"/>
<rect x="1210.3" y="397.49" width="775" height="15.98" fill="url(#ag20)"/>
<rect x="1210.3" y="413.07" width="775" height="15.98" fill="url(#ag21)"/>
<rect x="1210.3" y="428.65" width="775" height="15.98" fill="url(#ag22)"/>
<rect x="1210.3" y="444.23" width="775" height="15.98" fill="url(#ag23)"/>
<rect x="1210.3" y="459.81" width="775" height="15.98" fill="url(#ag24)"/>
<rect x="1210.3" y="475.39" width="775" height="15.98" fill="url(#ag25)"/>
<rect x="1210.3" y="490.96" width="775" height="15.98" fill="url(#ag26)"/>
<rect x="1210.3" y="506.54" width="775" height="15.98" fill="url(#ag27)"/>
<rect x="1210.3" y="522.12" width="775" height="15.98" fill="url(#ag28)"/>
<rect x="1210.3" y="537.70" width="775" height="15.98" fill="url(#ag29)"/>
<rect x="1210.3" y="553.28" width="775" height="15.98" fill="url(#ag30)"/>
<rect x="1210.3" y="568.86" width="775" height="15.98" fill="url(#ag31)"/>
<rect x="1210.3" y="584.44" width="775" height="15.98" fill="url(#ag32)"/>
<rect x="1210.3" y="600.02" width="775" height="15.98" fill="url(#ag33)"/>
<path d="M1210.3 376.5L1223.8 439.4L1235.5 496.8L1246.8 556.4L1257.4 616" fill="none" stroke="#000" stroke-width="2.2"/>
<path d="M1230.5 86.3L1253 161.3L1272.8 229.8L1292.3 300.4L1309.1 364.4L1325.5 430.6L1340.5 494.6L1353.9 556.4L1366 616" fill="none" stroke="#000" stroke-width="2.2"/>
<path d="M1343.5 86.3L1373.5 168L1399.4 240.8L1422.3 307L1445 375.4L1464.1 435L1483.5 499L1500 556.4L1515.9 616" fill="none" stroke="#000" stroke-width="2.2"/>
<path d="M1506.7 86.3L1526.8 120.5L1546.1 152.4L1565.5 183L1584.9 212.1L1601 235.1L1617.2 256.7L1633.3 276.9L1649.5 295.4L1665.6 312L1678.5 323.9L1688.2 331.8L1694.7 336.6L1707.6 345.1L1720.5 351.9L1727 354.6L1733.4 356.9L1739.9 358.7L1746.3 359.9L1752.8 360.7L1759.3 361L1765.7 360.7L1772.2 359.9L1778.6 358.5L1785.1 356.6L1791.5 354.2L1798 351.1L1804.5 347.5L1810.9 343.3L1820.6 336L1827.1 330.4L1833.5 324.2L1846.4 310.1L1859.4 293.9L1872.3 275.5L1885.2 255.1L1898.1 232.8L1911 208.6L1923.9 182.8L1936.9 155.4L1953 119L1966.8 86.3" fill="none" stroke="#000" stroke-width="2.2"/>
<rect x="1210.3" y="86.3" width="775" height="529.7" fill="none" stroke="#101418" stroke-width="2.6"/>
<path d="M1188.8 616H1210.3M1210.3 616V631.5M1188.8 483.6H1210.3M1404 616V631.5M1188.8 351.1H1210.3M1597.8 616V631.5M1188.8 218.7H1210.3M1791.5 616V631.5M1188.8 86.3H1210.3M1985.3 616V631.5" stroke="#101418" stroke-width="2.6" fill="none"/>
<text transform="translate(1150.1 618.3) scale(1.661 1)" font-size="15.6" fill="#1c1c1c" stroke="#1c1c1c" stroke-width="0.5" stroke-linejoin="round">27</text>
<text transform="translate(1150.4 485.8) scale(1.630 1)" font-size="15.6" fill="#1c1c1c" stroke="#1c1c1c" stroke-width="0.5" stroke-linejoin="round">33</text>
<text transform="translate(1150.4 353.3) scale(1.637 1)" font-size="15.6" fill="#1c1c1c" stroke="#1c1c1c" stroke-width="0.5" stroke-linejoin="round">39</text>
<text transform="translate(1150.9 221.1) scale(1.585 1)" font-size="15.6" fill="#1c1c1c" stroke="#1c1c1c" stroke-width="0.5" stroke-linejoin="round">44</text>
<text transform="translate(1151.4 88.5) scale(1.502 1)" font-size="15.6" fill="#1c1c1c" stroke="#1c1c1c" stroke-width="0.5" stroke-linejoin="round">50</text>
<text transform="translate(1202.4 651.2) scale(1.502 1)" font-size="15.6" fill="#1c1c1c" stroke="#1c1c1c" stroke-width="0.5" stroke-linejoin="round">0</text>
<text transform="translate(1388.7 651.2) scale(1.588 1)" font-size="15.6" fill="#1c1c1c" stroke="#1c1c1c" stroke-width="0.5" stroke-linejoin="round">45</text>
<text transform="translate(1581.7 651.2) scale(1.660 1)" font-size="15.6" fill="#1c1c1c" stroke="#1c1c1c" stroke-width="0.5" stroke-linejoin="round">90</text>
<text transform="translate(1767.9 651.2) scale(1.661 1)" font-size="15.6" fill="#1c1c1c" stroke="#1c1c1c" stroke-width="0.5" stroke-linejoin="round">135</text>
<text transform="translate(1963.6 651.2) scale(1.563 1)" font-size="15.6" fill="#1c1c1c" stroke="#1c1c1c" stroke-width="0.5" stroke-linejoin="round">180</text>
<text transform="translate(1490.3 74.3) scale(1.508 1)" font-size="32.4" fill="#0c0c0c" stroke="#0c0c0c" stroke-width="0.5" stroke-linejoin="round">qe (mg/g)</text>
<text transform="translate(1500.2 689.7) scale(1.418 1)" font-size="22.4" fill="#1c1c1c" stroke="#1c1c1c" stroke-width="0.5" stroke-linejoin="round">Time (minute)</text>
<text transform="translate(1105.1 453) rotate(-90) scale(0.740 1)" font-size="31.6" fill="#1c1c1c" stroke="#1c1c1c" stroke-width="0.5" stroke-linejoin="round">Temperature (°C)</text>
<text transform="translate(1220.4 15.2) scale(1.543 1)" font-size="16.5" fill="#3a3436" stroke="#3a3436" stroke-width="0.6" stroke-linejoin="round">qe (mg/g)</text>
<rect x="1226.9" y="24.3" width="16.8" height="50.3" fill="url(#lg)" stroke="#050508" stroke-width="2"/>
<text transform="translate(1249.6 34.4) scale(1.422 1)" font-size="17.2" fill="#ff3040" stroke="#ff3040" stroke-width="0.8" stroke-linejoin="round">320</text>
<text transform="translate(1251.8 74.4) scale(1.335 1)" font-size="17.2" fill="#5a30f0" stroke="#5a30f0" stroke-width="0.8" stroke-linejoin="round">10</text>
<rect x="1217.8" y="477.7" width="34.6" height="17.7" fill="#fff" stroke="#000" stroke-width="1.6"/><text transform="translate(1222.4 491.7) scale(1.467 1)" font-size="15.5" fill="#1c1c1c" stroke="#1c1c1c" stroke-width="0.5" stroke-linejoin="round">50</text>
<rect x="1281.5" y="330.9" width="48.9" height="18.5" fill="#fff" stroke="#000" stroke-width="1.6"/><text transform="translate(1285.2 345.3) scale(1.568 1)" font-size="15.5" fill="#1c1c1c" stroke="#1c1c1c" stroke-width="0.5" stroke-linejoin="round">100</text>
<rect x="1410.6" y="325.5" width="48.6" height="17.2" fill="#fff" stroke="#000" stroke-width="1.6"/><text transform="translate(1414.3 339.2) scale(1.556 1)" font-size="15.5" fill="#1c1c1c" stroke="#1c1c1c" stroke-width="0.5" stroke-linejoin="round">150</text>
<rect x="1710.8" y="338.1" width="48.9" height="17.3" fill="#fff" stroke="#000" stroke-width="1.6"/><text transform="translate(1715.2 351.9) scale(1.544 1)" font-size="15.5" fill="#1c1c1c" stroke="#1c1c1c" stroke-width="0.5" stroke-linejoin="round">200</text>
<path d="M1734.1 86.3V110.9" stroke="#555" stroke-width="1.3" fill="none"/>
<rect x="1734.1" y="111.5" width="203.3" height="22.3" fill="#fff" stroke="#666" stroke-width="1.3"/>
<text transform="translate(1736.7 128.6) scale(1.410 1)" font-size="17" fill="#1a1a2a" stroke="#1a1a2a" stroke-width="0.3" stroke-linejoin="round">Prediction</text>
<text transform="translate(1856.1 128.6) scale(1.439 1)" font-size="17" fill="#1a1a2a" stroke="#1a1a2a" stroke-width="0.3" stroke-linejoin="round">226.18</text>
</g>
<g id="cb">
<rect x="1205.5" y="802.00" width="780.1" height="15.04" fill="url(#bg0)"/>
<rect x="1205.5" y="816.64" width="780.1" height="15.44" fill="url(#bg1)"/>
<rect x="1205.5" y="831.68" width="780.1" height="15.44" fill="url(#bg2)"/>
<rect x="1205.5" y="846.71" width="780.1" height="15.44" fill="url(#bg3)"/>
<rect x="1205.5" y="861.75" width="780.1" height="15.44" fill="url(#bg4)"/>
<rect x="1205.5" y="876.79" width="780.1" height="15.44" fill="url(#bg5)"/>
<rect x="1205.5" y="891.83" width="780.1" height="15.44" fill="url(#bg6)"/>
<rect x="1205.5" y="906.87" width="780.1" height="15.44" fill="url(#bg7)"/>
<rect x="1205.5" y="921.91" width="780.1" height="15.44" fill="url(#bg8)"/>
<rect x="1205.5" y="936.94" width="780.1" height="15.44" fill="url(#bg9)"/>
<rect x="1205.5" y="951.98" width="780.1" height="15.44" fill="url(#bg10)"/>
<rect x="1205.5" y="967.02" width="780.1" height="15.44" fill="url(#bg11)"/>
<rect x="1205.5" y="982.06" width="780.1" height="15.44" fill="url(#bg12)"/>
<rect x="1205.5" y="997.10" width="780.1" height="15.44" fill="url(#bg13)"/>
<rect x="1205.5" y="1012.14" width="780.1" height="15.44" fill="url(#bg14)"/>
<rect x="1205.5" y="1027.17" width="780.1" height="15.44" fill="url(#bg15)"/>
<rect x="1205.5" y="1042.21" width="780.1" height="15.44" fill="url(#bg16)"/>
<rect x="1205.5" y="1057.25" width="780.1" height="15.44" fill="url(#bg17)"/>
<rect x="1205.5" y="1072.29" width="780.1" height="15.44" fill="url(#bg18)"/>
<rect x="1205.5" y="1087.33" width="780.1" height="15.44" fill="url(#bg19)"/>
<rect x="1205.5" y="1102.36" width="780.1" height="15.44" fill="url(#bg20)"/>
<rect x="1205.5" y="1117.40" width="780.1" height="15.44" fill="url(#bg21)"/>
<rect x="1205.5" y="1132.44" width="780.1" height="15.44" fill="url(#bg22)"/>
<rect x="1205.5" y="1147.48" width="780.1" height="15.44" fill="url(#bg23)"/>
<rect x="1205.5" y="1162.52" width="780.1" height="15.44" fill="url(#bg24)"/>
<rect x="1205.5" y="1177.56" width="780.1" height="15.44" fill="url(#bg25)"/>
<rect x="1205.5" y="1192.59" width="780.1" height="15.44" fill="url(#bg26)"/>
<rect x="1205.5" y="1207.63" width="780.1" height="15.44" fill="url(#bg27)"/>
<rect x="1205.5" y="1222.67" width="780.1" height="15.44" fill="url(#bg28)"/>
<rect x="1205.5" y="1237.71" width="780.1" height="15.44" fill="url(#bg29)"/>
<rect x="1205.5" y="1252.75" width="780.1" height="15.44" fill="url(#bg30)"/>
<rect x="1205.5" y="1267.79" width="780.1" height="15.44" fill="url(#bg31)"/>
<rect x="1205.5" y="1282.82" width="780.1" height="15.44" fill="url(#bg32)"/>
<rect x="1205.5" y="1297.86" width="780.1" height="15.44" fill="url(#bg33)"/>
<path d="M1205.5 1123.5L1222.6 1149.3L1241.3 1175.7L1260.8 1201.6L1280.3 1225.9L1300.4 1249.4L1321.9 1272.8L1342 1293.3L1363.1 1313.3" fill="none" stroke="#000" stroke-width="2.2"/>
<path d="M1225.6 802L1243 838.2L1260.8 872.3L1278.9 904.3L1297.2 934.1L1317 963.9L1338.5 993.7L1358.6 1019.3L1381 1045.5L1403.8 1069.8L1426.5 1091.9L1449.3 1112L1472 1130.2L1495.6 1147.1L1507.8 1155.1L1520.8 1163.2L1533.8 1170.7L1546.8 1177.7L1559.8 1184.2L1572.8 1190.1L1585.8 1195.6L1598.8 1200.6L1611.8 1205.1L1624.8 1209.1L1637.8 1212.7L1650.8 1215.8L1663.8 1218.4L1676.8 1220.6L1689.8 1222.3L1702.8 1223.6L1715.8 1224.4L1728.8 1224.8L1741.8 1224.7L1754.8 1224.2L1767.8 1223.3L1780.8 1221.9L1793.8 1220L1806.8 1217.7L1819.8 1214.9L1832.8 1211.7L1845.8 1208L1858.8 1203.8L1871.8 1199.2L1884.8 1194.1L1897.8 1188.5L1910.8 1182.4L1923.8 1175.9L1936.8 1168.8L1949.8 1161.2L1962.1 1153.5L1985.6 1137.6" fill="none" stroke="#000" stroke-width="2.2"/>
<path d="M1502.9 802L1517.5 815.9L1530.5 827.2L1543.5 837.6L1556.5 847.3L1571.5 857.4L1585.8 866.1L1601 874.4L1615.1 881.2L1629 887.2L1644.3 892.9L1660.5 897.9L1673.6 901.2L1689.2 904.3L1702.8 906.2L1719.1 907.7L1735.3 908.1L1751.6 907.6L1767.8 906.2L1781.1 904.3L1797.1 901.1L1810.1 897.8L1826.3 892.8L1841.4 887.2L1855.6 881.2L1869.5 874.4L1884.8 866.1L1899.2 857.4L1914.1 847.4L1927.1 837.9L1942.7 825.4L1956.3 813.5L1968.5 802" fill="none" stroke="#000" stroke-width="2.2"/>
<rect x="1205.5" y="802" width="780.1" height="511.3" fill="none" stroke="#101418" stroke-width="2.6"/>
<path d="M1184 1313.3H1205.5M1205.5 1313.3V1328.8M1184 1185.5H1205.5M1400.5 1313.3V1328.8M1184 1057.7H1205.5M1595.5 1313.3V1328.8M1184 929.8H1205.5M1790.6 1313.3V1328.8M1184 802H1205.5M1985.6 1313.3V1328.8" stroke="#101418" stroke-width="2.6" fill="none"/>
<text transform="translate(1144.5 1315.5) scale(1.542 1)" font-size="15.6" fill="#1c1c1c" stroke="#1c1c1c" stroke-width="0.5" stroke-linejoin="round">25</text>
<text transform="translate(1144.5 1187.7) scale(1.549 1)" font-size="15.6" fill="#1c1c1c" stroke="#1c1c1c" stroke-width="0.5" stroke-linejoin="round">69</text>
<text transform="translate(1131.5 1059.8) scale(1.594 1)" font-size="15.6" fill="#1c1c1c" stroke="#1c1c1c" stroke-width="0.5" stroke-linejoin="round">113</text>
<text transform="translate(1130.6 932) scale(1.564 1)" font-size="15.6" fill="#1c1c1c" stroke="#1c1c1c" stroke-width="0.5" stroke-linejoin="round">156</text>
<text transform="translate(1129.5 804.2) scale(1.603 1)" font-size="15.6" fill="#1c1c1c" stroke="#1c1c1c" stroke-width="0.5" stroke-linejoin="round">200</text>
<text transform="translate(1196.9 1346.9) scale(1.465 1)" font-size="15.6" fill="#1c1c1c" stroke="#1c1c1c" stroke-width="0.5" stroke-linejoin="round">0</text>
<text transform="translate(1384.6 1346.9) scale(1.511 1)" font-size="15.6" fill="#1c1c1c" stroke="#1c1c1c" stroke-width="0.5" stroke-linejoin="round">45</text>
<text transform="translate(1579.3 1346.9) scale(1.618 1)" font-size="15.6" fill="#1c1c1c" stroke="#1c1c1c" stroke-width="0.5" stroke-linejoin="round">90</text>
<text transform="translate(1768 1346.9) scale(1.556 1)" font-size="15.6" fill="#1c1c1c" stroke="#1c1c1c" stroke-width="0.5" stroke-linejoin="round">135</text>
<text transform="translate(1965.1 1346.9) scale(1.503 1)" font-size="15.6" fill="#1c1c1c" stroke="#1c1c1c" stroke-width="0.5" stroke-linejoin="round">180</text>
<text transform="translate(1486.7 789.9) scale(1.554 1)" font-size="31.8" fill="#0c0c0c" stroke="#0c0c0c" stroke-width="0.5" stroke-linejoin="round">qe (mg/g)</text>
<text transform="translate(1495 1385.7) scale(1.440 1)" font-size="22.4" fill="#1c1c1c" stroke="#1c1c1c" stroke-width="0.5" stroke-linejoin="round">Time (minute)</text>
<text transform="translate(1102.2 1156.9) rotate(-90) scale(0.693 1)" font-size="31.1" fill="#1c1c1c" stroke="#1c1c1c" stroke-width="0.5" stroke-linejoin="round">Concentration (mg/L)</text>
<text transform="translate(1217.8 726) scale(1.710 1)" font-size="15.1" fill="#3a3436" stroke="#3a3436" stroke-width="0.6" stroke-linejoin="round">qe (mg/g)</text>
<rect x="1223.6" y="735.6" width="16.8" height="49.4" fill="url(#lg)" stroke="#050508" stroke-width="2"/>
<text transform="translate(1246.6 745.6) scale(1.388 1)" font-size="17.9" fill="#ff3040" stroke="#ff3040" stroke-width="0.8" stroke-linejoin="round">320</text>
<text transform="translate(1247.8 784.2) scale(1.412 1)" font-size="16.9" fill="#5a30f0" stroke="#5a30f0" stroke-width="0.8" stroke-linejoin="round">10</text>
<rect x="1262.6" y="1198.3" width="22.6" height="17.2" fill="#fff" stroke="#000" stroke-width="1.6"/><text transform="translate(1267.2 1212) scale(1.546 1)" font-size="15.5" fill="#1c1c1c" stroke="#1c1c1c" stroke-width="0.5" stroke-linejoin="round">0</text>
<rect x="1460.7" y="1121.3" width="49.4" height="18.5" fill="#fff" stroke="#000" stroke-width="1.6"/><text transform="translate(1464.4 1135.7) scale(1.588 1)" font-size="15.5" fill="#1c1c1c" stroke="#1c1c1c" stroke-width="0.5" stroke-linejoin="round">100</text>
<rect x="1716.4" y="889.8" width="48.8" height="17.3" fill="#fff" stroke="#000" stroke-width="1.6"/><text transform="translate(1720.8 903.6) scale(1.540 1)" font-size="15.5" fill="#1c1c1c" stroke="#1c1c1c" stroke-width="0.5" stroke-linejoin="round">200</text>
<path d="M1732.9 802V825.5" stroke="#555" stroke-width="1.3" fill="none"/>
<rect x="1732.9" y="826.1" width="204.9" height="21.3" fill="#fff" stroke="#666" stroke-width="1.3"/>
<text transform="translate(1735.5 842.7) scale(1.410 1)" font-size="17" fill="#1a1a2a" stroke="#1a1a2a" stroke-width="0.3" stroke-linejoin="round">Prediction</text>
<text transform="translate(1854.9 842.7) scale(1.471 1)" font-size="17" fill="#1a1a2a" stroke="#1a1a2a" stroke-width="0.3" stroke-linejoin="round">226.18</text>
</g>
<g id="cc">
<rect x="1202.8" y="1512.20" width="781.6" height="15.52" fill="url(#cg0)"/>
<rect x="1202.8" y="1527.32" width="781.6" height="15.92" fill="url(#cg1)"/>
<rect x="1202.8" y="1542.85" width="781.6" height="15.92" fill="url(#cg2)"/>
<rect x="1202.8" y="1558.37" width="781.6" height="15.92" fill="url(#cg3)"/>
<rect x="1202.8" y="1573.89" width="781.6" height="15.92" fill="url(#cg4)"/>
<rect x="1202.8" y="1589.42" width="781.6" height="15.92" fill="url(#cg5)"/>
<rect x="1202.8" y="1604.94" width="781.6" height="15.92" fill="url(#cg6)"/>
<rect x="1202.8" y="1620.46" width="781.6" height="15.92" fill="url(#cg7)"/>
<rect x="1202.8" y="1635.99" width="781.6" height="15.92" fill="url(#cg8)"/>
<rect x="1202.8" y="1651.51" width="781.6" height="15.92" fill="url(#cg9)"/>
<rect x="1202.8" y="1667.04" width="781.6" height="15.92" fill="url(#cg10)"/>
<rect x="1202.8" y="1682.56" width="781.6" height="15.92" fill="url(#cg11)"/>
<rect x="1202.8" y="1698.08" width="781.6" height="15.92" fill="url(#cg12)"/>
<rect x="1202.8" y="1713.61" width="781.6" height="15.92" fill="url(#cg13)"/>
<rect x="1202.8" y="1729.13" width="781.6" height="15.92" fill="url(#cg14)"/>
<rect x="1202.8" y="1744.65" width="781.6" height="15.92" fill="url(#cg15)"/>
<rect x="1202.8" y="1760.18" width="781.6" height="15.92" fill="url(#cg16)"/>
<rect x="1202.8" y="1775.70" width="781.6" height="15.92" fill="url(#cg17)"/>
<rect x="1202.8" y="1791.22" width="781.6" height="15.92" fill="url(#cg18)"/>
<rect x="1202.8" y="1806.75" width="781.6" height="15.92" fill="url(#cg19)"/>
<rect x="1202.8" y="1822.27" width="781.6" height="15.92" fill="url(#cg20)"/>
<rect x="1202.8" y="1837.79" width="781.6" height="15.92" fill="url(#cg21)"/>
<rect x="1202.8" y="1853.32" width="781.6" height="15.92" fill="url(#cg22)"/>
<rect x="1202.8" y="1868.84" width="781.6" height="15.92" fill="url(#cg23)"/>
<rect x="1202.8" y="1884.36" width="781.6" height="15.92" fill="url(#cg24)"/>
<rect x="1202.8" y="1899.89" width="781.6" height="15.92" fill="url(#cg25)"/>
<rect x="1202.8" y="1915.41" width="781.6" height="15.92" fill="url(#cg26)"/>
<rect x="1202.8" y="1930.94" width="781.6" height="15.92" fill="url(#cg27)"/>
<rect x="1202.8" y="1946.46" width="781.6" height="15.92" fill="url(#cg28)"/>
<rect x="1202.8" y="1961.98" width="781.6" height="15.92" fill="url(#cg29)"/>
<rect x="1202.8" y="1977.51" width="781.6" height="15.92" fill="url(#cg30)"/>
<rect x="1202.8" y="1993.03" width="781.6" height="15.92" fill="url(#cg31)"/>
<rect x="1202.8" y="2008.55" width="781.6" height="15.92" fill="url(#cg32)"/>
<rect x="1202.8" y="2024.08" width="781.6" height="15.92" fill="url(#cg33)"/>
<path d="M1317.1 1512.2L1303.8 1574.9L1291.5 1635.4L1279.7 1696.9L1267.9 1761.3L1256.2 1828.9L1245.1 1896.2L1234.3 1965.2L1223.2 2040" fill="none" stroke="#000" stroke-width="2.2"/>
<path d="M1468.4 1512.2L1450.3 1567L1432.9 1624.4L1414.5 1690.2L1398.2 1753.3L1381.9 1821.3L1365.6 1894.7L1350.7 1967.4L1336.7 2040" fill="none" stroke="#000" stroke-width="2.2"/>
<path d="M1964.2 2040L1951.8 2002.4L1937.8 1963L1922.5 1923.7L1909.5 1893.1L1896.5 1864.9L1883.4 1839.2L1869 1813.5L1854.1 1789.9L1841.1 1771.6L1832.5 1760.7L1824.8 1751.8L1811.8 1738.4L1804.9 1732.1L1795.5 1724.5L1789 1719.8L1782.5 1715.7L1776 1712L1766.2 1707.5L1759.7 1705.2L1749.9 1702.5L1742.7 1701.3L1733.6 1700.7L1723.9 1701L1717.4 1701.9L1710 1703.5L1701.1 1706.3L1692 1710.1L1684.8 1713.8L1678.3 1717.7L1671.8 1722.1L1665.2 1727.1L1656.7 1734.3L1649 1741.6L1642.5 1748.4L1635.4 1756.3L1626.4 1767.3L1613.1 1785.4L1606.6 1795.1L1597.8 1809.1L1583.8 1833.6L1568.2 1864.1L1554.5 1893.7L1541.5 1924.5L1527.4 1960.8L1513.3 2000.4L1500.2 2040" fill="none" stroke="#000" stroke-width="2.2"/>
<rect x="1202.8" y="1512.2" width="781.6" height="527.8" fill="none" stroke="#101418" stroke-width="2.6"/>
<path d="M1181.3 2040H1202.8M1202.8 2040V2055.5M1181.3 1908H1202.8M1398.2 2040V2055.5M1181.3 1776.1H1202.8M1593.6 2040V2055.5M1181.3 1644.2H1202.8M1789 2040V2055.5M1181.3 1512.2H1202.8M1984.4 2040V2055.5" stroke="#101418" stroke-width="2.6" fill="none"/>
<text transform="translate(1157.2 2042.3) scale(1.579 1)" font-size="15.6" fill="#1c1c1c" stroke="#1c1c1c" stroke-width="0.5" stroke-linejoin="round">2</text>
<text transform="translate(1157.4 1910.2) scale(1.517 1)" font-size="15.6" fill="#1c1c1c" stroke="#1c1c1c" stroke-width="0.5" stroke-linejoin="round">5</text>
<text transform="translate(1158.6 1778.4) scale(1.408 1)" font-size="15.6" fill="#1c1c1c" stroke="#1c1c1c" stroke-width="0.5" stroke-linejoin="round">7</text>
<text transform="translate(1143.1 1646.3) scale(1.503 1)" font-size="15.6" fill="#1c1c1c" stroke="#1c1c1c" stroke-width="0.5" stroke-linejoin="round">10</text>
<text transform="translate(1143 1514.5) scale(1.607 1)" font-size="15.6" fill="#1c1c1c" stroke="#1c1c1c" stroke-width="0.5" stroke-linejoin="round">12</text>
<text transform="translate(1193.6 2075.6) scale(1.515 1)" font-size="15.6" fill="#1c1c1c" stroke="#1c1c1c" stroke-width="0.5" stroke-linejoin="round">0</text>
<text transform="translate(1381.9 2075.6) scale(1.600 1)" font-size="15.6" fill="#1c1c1c" stroke="#1c1c1c" stroke-width="0.5" stroke-linejoin="round">45</text>
<text transform="translate(1577.9 2075.6) scale(1.624 1)" font-size="15.6" fill="#1c1c1c" stroke="#1c1c1c" stroke-width="0.5" stroke-linejoin="round">90</text>
<text transform="translate(1766.1 2075.6) scale(1.576 1)" font-size="15.6" fill="#1c1c1c" stroke="#1c1c1c" stroke-width="0.5" stroke-linejoin="round">135</text>
<text transform="translate(1962.6 2075.6) scale(1.551 1)" font-size="15.6" fill="#1c1c1c" stroke="#1c1c1c" stroke-width="0.5" stroke-linejoin="round">180</text>
<text transform="translate(1484.2 1499.8) scale(1.546 1)" font-size="32" fill="#0c0c0c" stroke="#0c0c0c" stroke-width="0.5" stroke-linejoin="round">qe (mg/g)</text>
<text transform="translate(1493.1 2107.2) scale(1.423 1)" font-size="22.6" fill="#1c1c1c" stroke="#1c1c1c" stroke-width="0.5" stroke-linejoin="round">Time (minute)</text>
<text transform="translate(1110.6 1777) rotate(-90) scale(0.847 1)" font-size="29.4" fill="#1c1c1c" stroke="#1c1c1c" stroke-width="0.5" stroke-linejoin="round">pH</text>
<text transform="translate(1210.3 1437.5) scale(1.680 1)" font-size="15.4" fill="#3a3436" stroke="#3a3436" stroke-width="0.6" stroke-linejoin="round">qe (mg/g)</text>
<rect x="1216.9" y="1447.4" width="16.8" height="50" fill="url(#lg)" stroke="#050508" stroke-width="2"/>
<text transform="translate(1240 1457.2) scale(1.385 1)" font-size="17.7" fill="#ff3040" stroke="#ff3040" stroke-width="0.8" stroke-linejoin="round">320</text>
<text transform="translate(1241.3 1496.6) scale(1.332 1)" font-size="17.7" fill="#5a30f0" stroke="#5a30f0" stroke-width="0.8" stroke-linejoin="round">10</text>
<rect x="1241.2" y="1749.5" width="48.3" height="18" fill="#fff" stroke="#000" stroke-width="1.6"/><text transform="translate(1245 1763.6) scale(1.544 1)" font-size="15.5" fill="#1c1c1c" stroke="#1c1c1c" stroke-width="0.5" stroke-linejoin="round">100</text>
<rect x="1368.8" y="1749.5" width="48.7" height="18" fill="#fff" stroke="#000" stroke-width="1.6"/><text transform="translate(1372.5 1763.6) scale(1.560 1)" font-size="15.5" fill="#1c1c1c" stroke="#1c1c1c" stroke-width="0.5" stroke-linejoin="round">150</text>
<rect x="1713.8" y="1682.2" width="49.7" height="18.4" fill="#fff" stroke="#000" stroke-width="1.6"/><text transform="translate(1718.1 1696.5) scale(1.576 1)" font-size="15.5" fill="#1c1c1c" stroke="#1c1c1c" stroke-width="0.5" stroke-linejoin="round">200</text>
<path d="M1730.8 2017.8V2040" stroke="#555" stroke-width="1.3" fill="none"/>
<rect x="1730.8" y="1995.4" width="205.2" height="21.8" fill="#fff" stroke="#666" stroke-width="1.3"/>
<text transform="translate(1733.4 2012.3) scale(1.410 1)" font-size="17" fill="#1a1a2a" stroke="#1a1a2a" stroke-width="0.3" stroke-linejoin="round">Prediction</text>
<text transform="translate(1852.8 2012.3) scale(1.477 1)" font-size="17" fill="#1a1a2a" stroke="#1a1a2a" stroke-width="0.3" stroke-linejoin="round">226.18</text>
</g>
<text transform="translate(998.4 107.3) scale(0.980 1)" font-size="59.9" fill="#000" stroke="#000" stroke-width="1.2" stroke-linejoin="round" font-weight="bold">(a)</text>
<text transform="translate(997.2 822.6) scale(0.964 1)" font-size="59.4" fill="#000" stroke="#000" stroke-width="1.2" stroke-linejoin="round" font-weight="bold">(b)</text>
<text transform="translate(1001.3 1543.5) scale(0.910 1)" font-size="59.4" fill="#000" stroke="#000" stroke-width="1.2" stroke-linejoin="round" font-weight="bold">(c)</text>
</svg>
</body></html>
